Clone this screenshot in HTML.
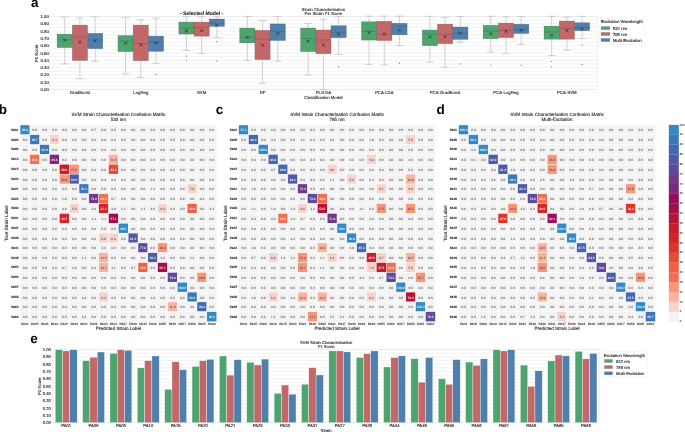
<!DOCTYPE html>
<html><head><meta charset="utf-8"><style>
html,body{margin:0;padding:0;background:#fff;}
body{width:685px;height:432px;overflow:hidden;}
svg{display:block;font-family:"Liberation Sans",sans-serif;will-change:transform;text-rendering:geometricPrecision;}
</style></head><body>
<svg width="685" height="432" viewBox="0 0 685 432">
<rect width="685" height="432" fill="#fff"/>
<rect x="49.5" y="16.5" width="547.8" height="73.0" fill="#fff" stroke="#e6e6e6" stroke-width="0.5"/>
<line x1="49.5" x2="597.3" y1="89.50" y2="89.50" stroke="#e8e8e8" stroke-width="0.55"/>
<line x1="49.5" x2="597.3" y1="85.85" y2="85.85" stroke="#e8e8e8" stroke-width="0.55"/>
<line x1="49.5" x2="597.3" y1="82.20" y2="82.20" stroke="#e8e8e8" stroke-width="0.55"/>
<line x1="49.5" x2="597.3" y1="78.55" y2="78.55" stroke="#e8e8e8" stroke-width="0.55"/>
<line x1="49.5" x2="597.3" y1="74.90" y2="74.90" stroke="#e8e8e8" stroke-width="0.55"/>
<line x1="49.5" x2="597.3" y1="71.25" y2="71.25" stroke="#e8e8e8" stroke-width="0.55"/>
<line x1="49.5" x2="597.3" y1="67.60" y2="67.60" stroke="#e8e8e8" stroke-width="0.55"/>
<line x1="49.5" x2="597.3" y1="63.95" y2="63.95" stroke="#e8e8e8" stroke-width="0.55"/>
<line x1="49.5" x2="597.3" y1="60.30" y2="60.30" stroke="#e8e8e8" stroke-width="0.55"/>
<line x1="49.5" x2="597.3" y1="56.65" y2="56.65" stroke="#e8e8e8" stroke-width="0.55"/>
<line x1="49.5" x2="597.3" y1="53.00" y2="53.00" stroke="#e8e8e8" stroke-width="0.55"/>
<line x1="49.5" x2="597.3" y1="49.35" y2="49.35" stroke="#e8e8e8" stroke-width="0.55"/>
<line x1="49.5" x2="597.3" y1="45.70" y2="45.70" stroke="#e8e8e8" stroke-width="0.55"/>
<line x1="49.5" x2="597.3" y1="42.05" y2="42.05" stroke="#e8e8e8" stroke-width="0.55"/>
<line x1="49.5" x2="597.3" y1="38.40" y2="38.40" stroke="#e8e8e8" stroke-width="0.55"/>
<line x1="49.5" x2="597.3" y1="34.75" y2="34.75" stroke="#e8e8e8" stroke-width="0.55"/>
<line x1="49.5" x2="597.3" y1="31.10" y2="31.10" stroke="#e8e8e8" stroke-width="0.55"/>
<line x1="49.5" x2="597.3" y1="27.45" y2="27.45" stroke="#e8e8e8" stroke-width="0.55"/>
<line x1="49.5" x2="597.3" y1="23.80" y2="23.80" stroke="#e8e8e8" stroke-width="0.55"/>
<line x1="49.5" x2="597.3" y1="20.15" y2="20.15" stroke="#e8e8e8" stroke-width="0.55"/>
<line x1="49.5" x2="597.3" y1="16.50" y2="16.50" stroke="#e8e8e8" stroke-width="0.55"/>
<text x="48.80" y="91.00" font-size="4.3" text-anchor="end" font-weight="normal" fill="#262626" stroke="#262626" stroke-width="0.12" >0.00</text>
<text x="48.80" y="83.70" font-size="4.3" text-anchor="end" font-weight="normal" fill="#262626" stroke="#262626" stroke-width="0.12" >0.10</text>
<text x="48.80" y="76.40" font-size="4.3" text-anchor="end" font-weight="normal" fill="#262626" stroke="#262626" stroke-width="0.12" >0.20</text>
<text x="48.80" y="69.10" font-size="4.3" text-anchor="end" font-weight="normal" fill="#262626" stroke="#262626" stroke-width="0.12" >0.30</text>
<text x="48.80" y="61.80" font-size="4.3" text-anchor="end" font-weight="normal" fill="#262626" stroke="#262626" stroke-width="0.12" >0.40</text>
<text x="48.80" y="54.50" font-size="4.3" text-anchor="end" font-weight="normal" fill="#262626" stroke="#262626" stroke-width="0.12" >0.50</text>
<text x="48.80" y="47.20" font-size="4.3" text-anchor="end" font-weight="normal" fill="#262626" stroke="#262626" stroke-width="0.12" >0.60</text>
<text x="48.80" y="39.90" font-size="4.3" text-anchor="end" font-weight="normal" fill="#262626" stroke="#262626" stroke-width="0.12" >0.70</text>
<text x="48.80" y="32.60" font-size="4.3" text-anchor="end" font-weight="normal" fill="#262626" stroke="#262626" stroke-width="0.12" >0.80</text>
<text x="48.80" y="25.30" font-size="4.3" text-anchor="end" font-weight="normal" fill="#262626" stroke="#262626" stroke-width="0.12" >0.90</text>
<text x="48.80" y="18.00" font-size="4.3" text-anchor="end" font-weight="normal" fill="#262626" stroke="#262626" stroke-width="0.12" >1.00</text>
<text transform="translate(38.2,53.2) rotate(-90)" font-size="4.3" text-anchor="middle" fill="#262626" stroke="#262626" stroke-width="0.12">F1 Score</text>
<line x1="64.72" x2="64.72" y1="17.2" y2="34.2" stroke="#b2b2b2" stroke-width="0.6"/>
<line x1="64.72" x2="64.72" y1="47.6" y2="63.9" stroke="#b2b2b2" stroke-width="0.6"/>
<line x1="60.91" x2="68.52" y1="17.2" y2="17.2" stroke="#b2b2b2" stroke-width="0.6"/>
<line x1="60.91" x2="68.52" y1="63.9" y2="63.9" stroke="#b2b2b2" stroke-width="0.6"/>
<rect x="57.11" y="34.2" width="15.22" height="13.40" fill="#4da46f" stroke="rgba(70,60,60,0.45)" stroke-width="0.5"/>
<line x1="57.11" x2="72.33" y1="39.8" y2="39.8" stroke="rgba(60,50,50,0.4)" stroke-width="0.6"/>
<path d="M63.27,38.85L66.17,41.75M63.27,41.75L66.17,38.85" stroke="#2a2a2a" stroke-width="0.7"/>
<line x1="79.93" x2="79.93" y1="17.9" y2="25.1" stroke="#b2b2b2" stroke-width="0.6"/>
<line x1="79.93" x2="79.93" y1="60.5" y2="78.7" stroke="#b2b2b2" stroke-width="0.6"/>
<line x1="76.13" x2="83.74" y1="17.9" y2="17.9" stroke="#b2b2b2" stroke-width="0.6"/>
<line x1="76.13" x2="83.74" y1="78.7" y2="78.7" stroke="#b2b2b2" stroke-width="0.6"/>
<rect x="72.33" y="25.1" width="15.22" height="35.40" fill="#c26868" stroke="rgba(70,60,60,0.45)" stroke-width="0.5"/>
<line x1="72.33" x2="87.54" y1="37.2" y2="37.2" stroke="rgba(60,50,50,0.4)" stroke-width="0.6"/>
<path d="M78.48,40.75L81.38,43.65M78.48,43.65L81.38,40.75" stroke="#2a2a2a" stroke-width="0.7"/>
<line x1="95.15" x2="95.15" y1="16.8" y2="33.3" stroke="#b2b2b2" stroke-width="0.6"/>
<line x1="95.15" x2="95.15" y1="48.7" y2="61.4" stroke="#b2b2b2" stroke-width="0.6"/>
<line x1="91.35" x2="98.95" y1="16.8" y2="16.8" stroke="#b2b2b2" stroke-width="0.6"/>
<line x1="91.35" x2="98.95" y1="61.4" y2="61.4" stroke="#b2b2b2" stroke-width="0.6"/>
<rect x="87.54" y="33.3" width="15.22" height="15.40" fill="#4f7fad" stroke="rgba(70,60,60,0.45)" stroke-width="0.5"/>
<line x1="87.54" x2="102.76" y1="40.1" y2="40.1" stroke="rgba(60,50,50,0.4)" stroke-width="0.6"/>
<path d="M93.70,39.25L96.60,42.15M93.70,42.15L96.60,39.25" stroke="#2a2a2a" stroke-width="0.7"/>
<text x="79.93" y="93.90" font-size="4.3" text-anchor="middle" font-weight="normal" fill="#262626" stroke="#262626" stroke-width="0.12" >GradBoost</text>
<line x1="125.58" x2="125.58" y1="17.6" y2="35.5" stroke="#b2b2b2" stroke-width="0.6"/>
<line x1="125.58" x2="125.58" y1="51.6" y2="74.0" stroke="#b2b2b2" stroke-width="0.6"/>
<line x1="121.78" x2="129.39" y1="17.6" y2="17.6" stroke="#b2b2b2" stroke-width="0.6"/>
<line x1="121.78" x2="129.39" y1="74.0" y2="74.0" stroke="#b2b2b2" stroke-width="0.6"/>
<rect x="117.97" y="35.5" width="15.22" height="16.10" fill="#4da46f" stroke="rgba(70,60,60,0.45)" stroke-width="0.5"/>
<line x1="117.97" x2="133.19" y1="41.1" y2="41.1" stroke="rgba(60,50,50,0.4)" stroke-width="0.6"/>
<path d="M124.13,41.65L127.03,44.55M124.13,44.55L127.03,41.65" stroke="#2a2a2a" stroke-width="0.7"/>
<line x1="140.80" x2="140.80" y1="19.8" y2="25.1" stroke="#b2b2b2" stroke-width="0.6"/>
<line x1="140.80" x2="140.80" y1="60.7" y2="77.4" stroke="#b2b2b2" stroke-width="0.6"/>
<line x1="137.00" x2="144.60" y1="19.8" y2="19.8" stroke="#b2b2b2" stroke-width="0.6"/>
<line x1="137.00" x2="144.60" y1="77.4" y2="77.4" stroke="#b2b2b2" stroke-width="0.6"/>
<rect x="133.19" y="25.1" width="15.22" height="35.60" fill="#c26868" stroke="rgba(70,60,60,0.45)" stroke-width="0.5"/>
<line x1="133.19" x2="148.41" y1="43.5" y2="43.5" stroke="rgba(60,50,50,0.4)" stroke-width="0.6"/>
<path d="M139.35,43.65L142.25,46.55M139.35,46.55L142.25,43.65" stroke="#2a2a2a" stroke-width="0.7"/>
<line x1="156.02" x2="156.02" y1="18.1" y2="36.1" stroke="#b2b2b2" stroke-width="0.6"/>
<line x1="156.02" x2="156.02" y1="51.4" y2="63.3" stroke="#b2b2b2" stroke-width="0.6"/>
<line x1="152.21" x2="159.82" y1="18.1" y2="18.1" stroke="#b2b2b2" stroke-width="0.6"/>
<line x1="152.21" x2="159.82" y1="63.3" y2="63.3" stroke="#b2b2b2" stroke-width="0.6"/>
<rect x="148.41" y="36.1" width="15.22" height="15.30" fill="#4f7fad" stroke="rgba(70,60,60,0.45)" stroke-width="0.5"/>
<line x1="148.41" x2="163.62" y1="42.2" y2="42.2" stroke="rgba(60,50,50,0.4)" stroke-width="0.6"/>
<path d="M154.57,41.45L157.47,44.35M154.57,44.35L157.47,41.45" stroke="#2a2a2a" stroke-width="0.7"/>
<rect x="155.52" y="74.10" width="1" height="1" fill="#555"/>
<text x="140.80" y="93.90" font-size="4.3" text-anchor="middle" font-weight="normal" fill="#262626" stroke="#262626" stroke-width="0.12" >LogReg</text>
<line x1="186.45" x2="186.45" y1="16.8" y2="22.1" stroke="#b2b2b2" stroke-width="0.6"/>
<line x1="186.45" x2="186.45" y1="34.1" y2="50.6" stroke="#b2b2b2" stroke-width="0.6"/>
<line x1="182.65" x2="190.25" y1="16.8" y2="16.8" stroke="#b2b2b2" stroke-width="0.6"/>
<line x1="182.65" x2="190.25" y1="50.6" y2="50.6" stroke="#b2b2b2" stroke-width="0.6"/>
<rect x="178.84" y="22.1" width="15.22" height="12.00" fill="#4da46f" stroke="rgba(70,60,60,0.45)" stroke-width="0.5"/>
<line x1="178.84" x2="194.06" y1="28.2" y2="28.2" stroke="rgba(60,50,50,0.4)" stroke-width="0.6"/>
<path d="M185.00,29.55L187.90,32.45M185.00,32.45L187.90,29.55" stroke="#2a2a2a" stroke-width="0.7"/>
<path d="M186.45,55.30L187.10,56.50L185.80,56.50Z" fill="#555"/>
<path d="M186.45,59.40L187.10,60.60L185.80,60.60Z" fill="#555"/>
<line x1="201.67" x2="201.67" y1="16.8" y2="22.1" stroke="#b2b2b2" stroke-width="0.6"/>
<line x1="201.67" x2="201.67" y1="36.2" y2="53.4" stroke="#b2b2b2" stroke-width="0.6"/>
<line x1="197.86" x2="205.47" y1="16.8" y2="16.8" stroke="#b2b2b2" stroke-width="0.6"/>
<line x1="197.86" x2="205.47" y1="53.4" y2="53.4" stroke="#b2b2b2" stroke-width="0.6"/>
<rect x="194.06" y="22.1" width="15.22" height="14.10" fill="#c26868" stroke="rgba(70,60,60,0.45)" stroke-width="0.5"/>
<line x1="194.06" x2="209.28" y1="27.5" y2="27.5" stroke="rgba(60,50,50,0.4)" stroke-width="0.6"/>
<path d="M200.22,29.15L203.12,32.05M200.22,32.05L203.12,29.15" stroke="#2a2a2a" stroke-width="0.7"/>
<line x1="216.88" x2="216.88" y1="16.8" y2="19.0" stroke="#b2b2b2" stroke-width="0.6"/>
<line x1="216.88" x2="216.88" y1="26.4" y2="37.5" stroke="#b2b2b2" stroke-width="0.6"/>
<line x1="213.08" x2="220.69" y1="16.8" y2="16.8" stroke="#b2b2b2" stroke-width="0.6"/>
<line x1="213.08" x2="220.69" y1="37.5" y2="37.5" stroke="#b2b2b2" stroke-width="0.6"/>
<rect x="209.28" y="19.0" width="15.22" height="7.40" fill="#4f7fad" stroke="rgba(70,60,60,0.45)" stroke-width="0.5"/>
<line x1="209.28" x2="224.49" y1="23.4" y2="23.4" stroke="rgba(60,50,50,0.4)" stroke-width="0.6"/>
<path d="M215.43,23.95L218.33,26.85M215.43,26.85L218.33,23.95" stroke="#2a2a2a" stroke-width="0.7"/>
<rect x="216.38" y="41.10" width="1" height="1" fill="#555"/>
<rect x="216.38" y="60.50" width="1" height="1" fill="#555"/>
<text x="201.67" y="93.90" font-size="4.3" text-anchor="middle" font-weight="normal" fill="#262626" stroke="#262626" stroke-width="0.12" >SVM</text>
<line x1="247.32" x2="247.32" y1="16.4" y2="28.1" stroke="#b2b2b2" stroke-width="0.6"/>
<line x1="247.32" x2="247.32" y1="42.9" y2="60.3" stroke="#b2b2b2" stroke-width="0.6"/>
<line x1="243.51" x2="251.12" y1="16.4" y2="16.4" stroke="#b2b2b2" stroke-width="0.6"/>
<line x1="243.51" x2="251.12" y1="60.3" y2="60.3" stroke="#b2b2b2" stroke-width="0.6"/>
<rect x="239.71" y="28.1" width="15.22" height="14.80" fill="#4da46f" stroke="rgba(70,60,60,0.45)" stroke-width="0.5"/>
<line x1="239.71" x2="254.92" y1="37.2" y2="37.2" stroke="rgba(60,50,50,0.4)" stroke-width="0.6"/>
<path d="M245.87,35.95L248.77,38.85M245.87,38.85L248.77,35.95" stroke="#2a2a2a" stroke-width="0.7"/>
<line x1="262.53" x2="262.53" y1="20.5" y2="30.3" stroke="#b2b2b2" stroke-width="0.6"/>
<line x1="262.53" x2="262.53" y1="59.6" y2="83.3" stroke="#b2b2b2" stroke-width="0.6"/>
<line x1="258.73" x2="266.34" y1="20.5" y2="20.5" stroke="#b2b2b2" stroke-width="0.6"/>
<line x1="258.73" x2="266.34" y1="83.3" y2="83.3" stroke="#b2b2b2" stroke-width="0.6"/>
<rect x="254.92" y="30.3" width="15.22" height="29.30" fill="#c26868" stroke="rgba(70,60,60,0.45)" stroke-width="0.5"/>
<line x1="254.92" x2="270.14" y1="39.2" y2="39.2" stroke="rgba(60,50,50,0.4)" stroke-width="0.6"/>
<path d="M261.08,43.85L263.98,46.75M261.08,46.75L263.98,43.85" stroke="#2a2a2a" stroke-width="0.7"/>
<line x1="277.75" x2="277.75" y1="16.4" y2="23.9" stroke="#b2b2b2" stroke-width="0.6"/>
<line x1="277.75" x2="277.75" y1="40.5" y2="61.3" stroke="#b2b2b2" stroke-width="0.6"/>
<line x1="273.95" x2="281.55" y1="16.4" y2="16.4" stroke="#b2b2b2" stroke-width="0.6"/>
<line x1="273.95" x2="281.55" y1="61.3" y2="61.3" stroke="#b2b2b2" stroke-width="0.6"/>
<rect x="270.14" y="23.9" width="15.22" height="16.60" fill="#4f7fad" stroke="rgba(70,60,60,0.45)" stroke-width="0.5"/>
<line x1="270.14" x2="285.36" y1="31.3" y2="31.3" stroke="rgba(60,50,50,0.4)" stroke-width="0.6"/>
<path d="M276.30,32.05L279.20,34.95M276.30,34.95L279.20,32.05" stroke="#2a2a2a" stroke-width="0.7"/>
<text x="262.53" y="93.90" font-size="4.3" text-anchor="middle" font-weight="normal" fill="#262626" stroke="#262626" stroke-width="0.12" >RF</text>
<line x1="308.18" x2="308.18" y1="23.5" y2="28.1" stroke="#b2b2b2" stroke-width="0.6"/>
<line x1="308.18" x2="308.18" y1="51.6" y2="75.0" stroke="#b2b2b2" stroke-width="0.6"/>
<line x1="304.38" x2="311.99" y1="23.5" y2="23.5" stroke="#b2b2b2" stroke-width="0.6"/>
<line x1="304.38" x2="311.99" y1="75.0" y2="75.0" stroke="#b2b2b2" stroke-width="0.6"/>
<rect x="300.57" y="28.1" width="15.22" height="23.50" fill="#4da46f" stroke="rgba(70,60,60,0.45)" stroke-width="0.5"/>
<line x1="300.57" x2="315.79" y1="38.3" y2="38.3" stroke="rgba(60,50,50,0.4)" stroke-width="0.6"/>
<path d="M306.73,39.85L309.63,42.75M306.73,42.75L309.63,39.85" stroke="#2a2a2a" stroke-width="0.7"/>
<line x1="323.40" x2="323.40" y1="19.0" y2="30.0" stroke="#b2b2b2" stroke-width="0.6"/>
<line x1="323.40" x2="323.40" y1="53.7" y2="89.4" stroke="#b2b2b2" stroke-width="0.6"/>
<line x1="319.60" x2="327.20" y1="19.0" y2="19.0" stroke="#b2b2b2" stroke-width="0.6"/>
<line x1="319.60" x2="327.20" y1="89.4" y2="89.4" stroke="#b2b2b2" stroke-width="0.6"/>
<rect x="315.79" y="30.0" width="15.22" height="23.70" fill="#c26868" stroke="rgba(70,60,60,0.45)" stroke-width="0.5"/>
<line x1="315.79" x2="331.01" y1="40.0" y2="40.0" stroke="rgba(60,50,50,0.4)" stroke-width="0.6"/>
<path d="M321.95,43.55L324.85,46.45M321.95,46.45L324.85,43.55" stroke="#2a2a2a" stroke-width="0.7"/>
<line x1="338.62" x2="338.62" y1="16.4" y2="25.7" stroke="#b2b2b2" stroke-width="0.6"/>
<line x1="338.62" x2="338.62" y1="37.7" y2="54.4" stroke="#b2b2b2" stroke-width="0.6"/>
<line x1="334.81" x2="342.42" y1="16.4" y2="16.4" stroke="#b2b2b2" stroke-width="0.6"/>
<line x1="334.81" x2="342.42" y1="54.4" y2="54.4" stroke="#b2b2b2" stroke-width="0.6"/>
<rect x="331.01" y="25.7" width="15.22" height="12.00" fill="#4f7fad" stroke="rgba(70,60,60,0.45)" stroke-width="0.5"/>
<line x1="331.01" x2="346.22" y1="32.2" y2="32.2" stroke="rgba(60,50,50,0.4)" stroke-width="0.6"/>
<path d="M337.17,32.75L340.07,35.65M337.17,35.65L340.07,32.75" stroke="#2a2a2a" stroke-width="0.7"/>
<rect x="338.12" y="66.30" width="1" height="1" fill="#555"/>
<text x="323.40" y="93.90" font-size="4.3" text-anchor="middle" font-weight="normal" fill="#262626" stroke="#262626" stroke-width="0.12" >PLS-DA</text>
<line x1="369.05" x2="369.05" y1="16.1" y2="21.8" stroke="#b2b2b2" stroke-width="0.6"/>
<line x1="369.05" x2="369.05" y1="40.1" y2="64.4" stroke="#b2b2b2" stroke-width="0.6"/>
<line x1="365.25" x2="372.85" y1="16.1" y2="16.1" stroke="#b2b2b2" stroke-width="0.6"/>
<line x1="365.25" x2="372.85" y1="64.4" y2="64.4" stroke="#b2b2b2" stroke-width="0.6"/>
<rect x="361.44" y="21.8" width="15.22" height="18.30" fill="#4da46f" stroke="rgba(70,60,60,0.45)" stroke-width="0.5"/>
<line x1="361.44" x2="376.66" y1="31.3" y2="31.3" stroke="rgba(60,50,50,0.4)" stroke-width="0.6"/>
<path d="M367.60,31.15L370.50,34.05M367.60,34.05L370.50,31.15" stroke="#2a2a2a" stroke-width="0.7"/>
<line x1="384.27" x2="384.27" y1="16.1" y2="21.3" stroke="#b2b2b2" stroke-width="0.6"/>
<line x1="384.27" x2="384.27" y1="40.5" y2="65.0" stroke="#b2b2b2" stroke-width="0.6"/>
<line x1="380.46" x2="388.07" y1="16.1" y2="16.1" stroke="#b2b2b2" stroke-width="0.6"/>
<line x1="380.46" x2="388.07" y1="65.0" y2="65.0" stroke="#b2b2b2" stroke-width="0.6"/>
<rect x="376.66" y="21.3" width="15.22" height="19.20" fill="#c26868" stroke="rgba(70,60,60,0.45)" stroke-width="0.5"/>
<line x1="376.66" x2="391.87" y1="34.4" y2="34.4" stroke="rgba(60,50,50,0.4)" stroke-width="0.6"/>
<path d="M382.82,32.55L385.72,35.45M382.82,35.45L385.72,32.55" stroke="#2a2a2a" stroke-width="0.7"/>
<line x1="399.48" x2="399.48" y1="16.1" y2="23.3" stroke="#b2b2b2" stroke-width="0.6"/>
<line x1="399.48" x2="399.48" y1="34.8" y2="45.5" stroke="#b2b2b2" stroke-width="0.6"/>
<line x1="395.68" x2="403.29" y1="16.1" y2="16.1" stroke="#b2b2b2" stroke-width="0.6"/>
<line x1="395.68" x2="403.29" y1="45.5" y2="45.5" stroke="#b2b2b2" stroke-width="0.6"/>
<rect x="391.88" y="23.3" width="15.22" height="11.50" fill="#4f7fad" stroke="rgba(70,60,60,0.45)" stroke-width="0.5"/>
<line x1="391.88" x2="407.09" y1="26.1" y2="26.1" stroke="rgba(60,50,50,0.4)" stroke-width="0.6"/>
<path d="M398.03,28.85L400.93,31.75M398.03,31.75L400.93,28.85" stroke="#2a2a2a" stroke-width="0.7"/>
<rect x="398.98" y="62.60" width="1" height="1" fill="#555"/>
<text x="384.27" y="93.90" font-size="4.3" text-anchor="middle" font-weight="normal" fill="#262626" stroke="#262626" stroke-width="0.12" >PCA-LDA</text>
<line x1="429.92" x2="429.92" y1="16.3" y2="30.0" stroke="#b2b2b2" stroke-width="0.6"/>
<line x1="429.92" x2="429.92" y1="45.7" y2="62.2" stroke="#b2b2b2" stroke-width="0.6"/>
<line x1="426.11" x2="433.72" y1="16.3" y2="16.3" stroke="#b2b2b2" stroke-width="0.6"/>
<line x1="426.11" x2="433.72" y1="62.2" y2="62.2" stroke="#b2b2b2" stroke-width="0.6"/>
<rect x="422.31" y="30.0" width="15.22" height="15.70" fill="#4da46f" stroke="rgba(70,60,60,0.45)" stroke-width="0.5"/>
<line x1="422.31" x2="437.52" y1="34.0" y2="34.0" stroke="rgba(60,50,50,0.4)" stroke-width="0.6"/>
<path d="M428.47,35.35L431.37,38.25M428.47,38.25L431.37,35.35" stroke="#2a2a2a" stroke-width="0.7"/>
<line x1="445.13" x2="445.13" y1="17.4" y2="24.2" stroke="#b2b2b2" stroke-width="0.6"/>
<line x1="445.13" x2="445.13" y1="43.7" y2="67.4" stroke="#b2b2b2" stroke-width="0.6"/>
<line x1="441.33" x2="448.94" y1="17.4" y2="17.4" stroke="#b2b2b2" stroke-width="0.6"/>
<line x1="441.33" x2="448.94" y1="67.4" y2="67.4" stroke="#b2b2b2" stroke-width="0.6"/>
<rect x="437.52" y="24.2" width="15.22" height="19.50" fill="#c26868" stroke="rgba(70,60,60,0.45)" stroke-width="0.5"/>
<line x1="437.52" x2="452.74" y1="34.4" y2="34.4" stroke="rgba(60,50,50,0.4)" stroke-width="0.6"/>
<path d="M443.68,35.15L446.58,38.05M443.68,38.05L446.58,35.15" stroke="#2a2a2a" stroke-width="0.7"/>
<line x1="460.35" x2="460.35" y1="16.6" y2="27.0" stroke="#b2b2b2" stroke-width="0.6"/>
<line x1="460.35" x2="460.35" y1="39.4" y2="42.2" stroke="#b2b2b2" stroke-width="0.6"/>
<line x1="456.55" x2="464.15" y1="16.6" y2="16.6" stroke="#b2b2b2" stroke-width="0.6"/>
<line x1="456.55" x2="464.15" y1="42.2" y2="42.2" stroke="#b2b2b2" stroke-width="0.6"/>
<rect x="452.74" y="27.0" width="15.22" height="12.40" fill="#4f7fad" stroke="rgba(70,60,60,0.45)" stroke-width="0.5"/>
<line x1="452.74" x2="467.96" y1="33.1" y2="33.1" stroke="rgba(60,50,50,0.4)" stroke-width="0.6"/>
<path d="M458.90,31.85L461.80,34.75M458.90,34.75L461.80,31.85" stroke="#2a2a2a" stroke-width="0.7"/>
<rect x="459.85" y="63.50" width="1" height="1" fill="#555"/>
<text x="445.13" y="93.90" font-size="4.3" text-anchor="middle" font-weight="normal" fill="#262626" stroke="#262626" stroke-width="0.12" >PCA-GradBoost</text>
<line x1="490.78" x2="490.78" y1="16.3" y2="25.3" stroke="#b2b2b2" stroke-width="0.6"/>
<line x1="490.78" x2="490.78" y1="38.7" y2="52.2" stroke="#b2b2b2" stroke-width="0.6"/>
<line x1="486.98" x2="494.59" y1="16.3" y2="16.3" stroke="#b2b2b2" stroke-width="0.6"/>
<line x1="486.98" x2="494.59" y1="52.2" y2="52.2" stroke="#b2b2b2" stroke-width="0.6"/>
<rect x="483.17" y="25.3" width="15.22" height="13.40" fill="#4da46f" stroke="rgba(70,60,60,0.45)" stroke-width="0.5"/>
<line x1="483.17" x2="498.39" y1="31.1" y2="31.1" stroke="rgba(60,50,50,0.4)" stroke-width="0.6"/>
<path d="M489.33,32.25L492.23,35.15M489.33,35.15L492.23,32.25" stroke="#2a2a2a" stroke-width="0.7"/>
<path d="M490.78,64.40L491.43,65.60L490.13,65.60Z" fill="#555"/>
<line x1="506.00" x2="506.00" y1="17.0" y2="23.1" stroke="#b2b2b2" stroke-width="0.6"/>
<line x1="506.00" x2="506.00" y1="37.6" y2="53.3" stroke="#b2b2b2" stroke-width="0.6"/>
<line x1="502.20" x2="509.80" y1="17.0" y2="17.0" stroke="#b2b2b2" stroke-width="0.6"/>
<line x1="502.20" x2="509.80" y1="53.3" y2="53.3" stroke="#b2b2b2" stroke-width="0.6"/>
<rect x="498.39" y="23.1" width="15.22" height="14.50" fill="#c26868" stroke="rgba(70,60,60,0.45)" stroke-width="0.5"/>
<line x1="498.39" x2="513.61" y1="30.3" y2="30.3" stroke="rgba(60,50,50,0.4)" stroke-width="0.6"/>
<path d="M504.55,29.85L507.45,32.75M504.55,32.75L507.45,29.85" stroke="#2a2a2a" stroke-width="0.7"/>
<line x1="521.22" x2="521.22" y1="16.4" y2="24.2" stroke="#b2b2b2" stroke-width="0.6"/>
<line x1="521.22" x2="521.22" y1="33.5" y2="44.4" stroke="#b2b2b2" stroke-width="0.6"/>
<line x1="517.41" x2="525.02" y1="16.4" y2="16.4" stroke="#b2b2b2" stroke-width="0.6"/>
<line x1="517.41" x2="525.02" y1="44.4" y2="44.4" stroke="#b2b2b2" stroke-width="0.6"/>
<rect x="513.61" y="24.2" width="15.22" height="9.30" fill="#4f7fad" stroke="rgba(70,60,60,0.45)" stroke-width="0.5"/>
<line x1="513.61" x2="528.82" y1="29.4" y2="29.4" stroke="rgba(60,50,50,0.4)" stroke-width="0.6"/>
<path d="M519.77,28.85L522.67,31.75M519.77,31.75L522.67,28.85" stroke="#2a2a2a" stroke-width="0.7"/>
<rect x="520.72" y="64.80" width="1" height="1" fill="#555"/>
<text x="506.00" y="93.90" font-size="4.3" text-anchor="middle" font-weight="normal" fill="#262626" stroke="#262626" stroke-width="0.12" >PCA-LogReg</text>
<line x1="551.65" x2="551.65" y1="16.3" y2="26.1" stroke="#b2b2b2" stroke-width="0.6"/>
<line x1="551.65" x2="551.65" y1="39.2" y2="55.5" stroke="#b2b2b2" stroke-width="0.6"/>
<line x1="547.85" x2="555.45" y1="16.3" y2="16.3" stroke="#b2b2b2" stroke-width="0.6"/>
<line x1="547.85" x2="555.45" y1="55.5" y2="55.5" stroke="#b2b2b2" stroke-width="0.6"/>
<rect x="544.04" y="26.1" width="15.22" height="13.10" fill="#4da46f" stroke="rgba(70,60,60,0.45)" stroke-width="0.5"/>
<line x1="544.04" x2="559.26" y1="32.0" y2="32.0" stroke="rgba(60,50,50,0.4)" stroke-width="0.6"/>
<path d="M550.20,33.85L553.10,36.75M550.20,36.75L553.10,33.85" stroke="#2a2a2a" stroke-width="0.7"/>
<path d="M551.65,60.70L552.30,61.90L551.00,61.90Z" fill="#555"/>
<path d="M551.65,66.10L552.30,67.30L551.00,67.30Z" fill="#555"/>
<line x1="566.87" x2="566.87" y1="17.2" y2="21.1" stroke="#b2b2b2" stroke-width="0.6"/>
<line x1="566.87" x2="566.87" y1="39.2" y2="50.3" stroke="#b2b2b2" stroke-width="0.6"/>
<line x1="563.06" x2="570.67" y1="17.2" y2="17.2" stroke="#b2b2b2" stroke-width="0.6"/>
<line x1="563.06" x2="570.67" y1="50.3" y2="50.3" stroke="#b2b2b2" stroke-width="0.6"/>
<rect x="559.26" y="21.1" width="15.22" height="18.10" fill="#c26868" stroke="rgba(70,60,60,0.45)" stroke-width="0.5"/>
<line x1="559.26" x2="574.47" y1="28.3" y2="28.3" stroke="rgba(60,50,50,0.4)" stroke-width="0.6"/>
<path d="M565.42,29.05L568.32,31.95M565.42,31.95L568.32,29.05" stroke="#2a2a2a" stroke-width="0.7"/>
<line x1="582.08" x2="582.08" y1="16.3" y2="22.7" stroke="#b2b2b2" stroke-width="0.6"/>
<line x1="582.08" x2="582.08" y1="30.7" y2="38.5" stroke="#b2b2b2" stroke-width="0.6"/>
<line x1="578.28" x2="585.89" y1="16.3" y2="16.3" stroke="#b2b2b2" stroke-width="0.6"/>
<line x1="578.28" x2="585.89" y1="38.5" y2="38.5" stroke="#b2b2b2" stroke-width="0.6"/>
<rect x="574.47" y="22.7" width="15.22" height="8.00" fill="#4f7fad" stroke="rgba(70,60,60,0.45)" stroke-width="0.5"/>
<line x1="574.47" x2="589.69" y1="27.6" y2="27.6" stroke="rgba(60,50,50,0.4)" stroke-width="0.6"/>
<path d="M580.63,27.55L583.53,30.45M580.63,30.45L583.53,27.55" stroke="#2a2a2a" stroke-width="0.7"/>
<rect x="581.58" y="44.50" width="1" height="1" fill="#555"/>
<rect x="581.58" y="64.10" width="1" height="1" fill="#555"/>
<text x="566.87" y="93.90" font-size="4.3" text-anchor="middle" font-weight="normal" fill="#262626" stroke="#262626" stroke-width="0.12" >PCA-SVM</text>
<text x="323.40" y="99.00" font-size="4.3" text-anchor="middle" font-weight="normal" fill="#262626" stroke="#262626" stroke-width="0.12" >Classification Model</text>
<text x="323.40" y="11.00" font-size="4.3" text-anchor="middle" font-weight="normal" fill="#262626" stroke="#262626" stroke-width="0.12" >Strain Characterisation</text>
<text x="323.40" y="15.40" font-size="4.3" text-anchor="middle" font-weight="normal" fill="#262626" stroke="#262626" stroke-width="0.12" >Per Strain F1 Score</text>
<text x="201.67" y="14.70" font-size="5.1" text-anchor="middle" font-weight="bold" fill="#262626" stroke="#262626" stroke-width="0.1" >- Selected Model -</text>
<rect x="599.3" y="18.3" width="45.7" height="26.1" fill="#fff" stroke="#eeeeee" stroke-width="0.5" rx="0.6"/>
<text x="601.00" y="23.10" font-size="4.25" text-anchor="start" font-weight="normal" fill="#262626" stroke="#262626" stroke-width="0.12" >Excitation Wavelength</text>
<rect x="601" y="26.5" width="9" height="3.2" fill="#4da46f" stroke="rgba(60,60,60,0.3)" stroke-width="0.3"/>
<text x="612.90" y="29.70" font-size="4.25" text-anchor="start" font-weight="normal" fill="#262626" stroke="#262626" stroke-width="0.12" >532 nm</text>
<rect x="601" y="32.4" width="9" height="3.2" fill="#c26868" stroke="rgba(60,60,60,0.3)" stroke-width="0.3"/>
<text x="612.90" y="35.60" font-size="4.25" text-anchor="start" font-weight="normal" fill="#262626" stroke="#262626" stroke-width="0.12" >785 nm</text>
<rect x="601" y="38.4" width="9" height="3.2" fill="#4f7fad" stroke="rgba(60,60,60,0.3)" stroke-width="0.3"/>
<text x="612.90" y="41.60" font-size="4.25" text-anchor="start" font-weight="normal" fill="#262626" stroke="#262626" stroke-width="0.12" >Multi-Excitation</text>
<text x="31.10" y="7.00" font-size="13.5" text-anchor="start" font-weight="bold" fill="#000" >a</text>
<g stroke="#fff" stroke-width="0.35">
<rect x="20.10" y="125.00" width="9.83" height="9.83" fill="#3389c3"/>
<rect x="29.93" y="125.00" width="9.83" height="9.83" fill="#f4f3f3"/>
<rect x="39.76" y="125.00" width="9.83" height="9.83" fill="#f4f3f3"/>
<rect x="49.59" y="125.00" width="9.83" height="9.83" fill="#f4f3f3"/>
<rect x="59.42" y="125.00" width="9.83" height="9.83" fill="#f4f3f3"/>
<rect x="69.25" y="125.00" width="9.83" height="9.83" fill="#f4f3f3"/>
<rect x="79.08" y="125.00" width="9.83" height="9.83" fill="#f4f3f3"/>
<rect x="88.91" y="125.00" width="9.83" height="9.83" fill="#f4f3f3"/>
<rect x="98.74" y="125.00" width="9.83" height="9.83" fill="#f4f3f3"/>
<rect x="108.57" y="125.00" width="9.83" height="9.83" fill="#f4f3f3"/>
<rect x="118.40" y="125.00" width="9.83" height="9.83" fill="#f4f3f3"/>
<rect x="128.23" y="125.00" width="9.83" height="9.83" fill="#f4f3f3"/>
<rect x="138.06" y="125.00" width="9.83" height="9.83" fill="#f4f3f3"/>
<rect x="147.89" y="125.00" width="9.83" height="9.83" fill="#f4f3f3"/>
<rect x="157.72" y="125.00" width="9.83" height="9.83" fill="#f4f3f3"/>
<rect x="167.55" y="125.00" width="9.83" height="9.83" fill="#f4f3f3"/>
<rect x="177.38" y="125.00" width="9.83" height="9.83" fill="#f4f3f3"/>
<rect x="187.21" y="125.00" width="9.83" height="9.83" fill="#f4f3f3"/>
<rect x="197.04" y="125.00" width="9.83" height="9.83" fill="#f4f3f3"/>
<rect x="206.87" y="125.00" width="9.83" height="9.83" fill="#f4f3f3"/>
<rect x="20.10" y="134.83" width="9.83" height="9.83" fill="#f4f3f3"/>
<rect x="29.93" y="134.83" width="9.83" height="9.83" fill="#3c77ba"/>
<rect x="39.76" y="134.83" width="9.83" height="9.83" fill="#f4f3f3"/>
<rect x="49.59" y="134.83" width="9.83" height="9.83" fill="#f7d4cb"/>
<rect x="59.42" y="134.83" width="9.83" height="9.83" fill="#f4f3f3"/>
<rect x="69.25" y="134.83" width="9.83" height="9.83" fill="#f4f3f3"/>
<rect x="79.08" y="134.83" width="9.83" height="9.83" fill="#f4f3f3"/>
<rect x="88.91" y="134.83" width="9.83" height="9.83" fill="#f4f3f3"/>
<rect x="98.74" y="134.83" width="9.83" height="9.83" fill="#f4f3f3"/>
<rect x="108.57" y="134.83" width="9.83" height="9.83" fill="#f4f3f3"/>
<rect x="118.40" y="134.83" width="9.83" height="9.83" fill="#f4f3f3"/>
<rect x="128.23" y="134.83" width="9.83" height="9.83" fill="#f4f3f3"/>
<rect x="138.06" y="134.83" width="9.83" height="9.83" fill="#f4f3f3"/>
<rect x="147.89" y="134.83" width="9.83" height="9.83" fill="#f4f3f3"/>
<rect x="157.72" y="134.83" width="9.83" height="9.83" fill="#f4f3f3"/>
<rect x="167.55" y="134.83" width="9.83" height="9.83" fill="#f4f3f3"/>
<rect x="177.38" y="134.83" width="9.83" height="9.83" fill="#f4f3f3"/>
<rect x="187.21" y="134.83" width="9.83" height="9.83" fill="#f4f3f3"/>
<rect x="197.04" y="134.83" width="9.83" height="9.83" fill="#f4f3f3"/>
<rect x="206.87" y="134.83" width="9.83" height="9.83" fill="#f4f3f3"/>
<rect x="20.10" y="144.66" width="9.83" height="9.83" fill="#f4f3f3"/>
<rect x="29.93" y="144.66" width="9.83" height="9.83" fill="#f4f3f3"/>
<rect x="39.76" y="144.66" width="9.83" height="9.83" fill="#3c77ba"/>
<rect x="49.59" y="144.66" width="9.83" height="9.83" fill="#f4f3f3"/>
<rect x="59.42" y="144.66" width="9.83" height="9.83" fill="#f4f3f3"/>
<rect x="69.25" y="144.66" width="9.83" height="9.83" fill="#f4f3f3"/>
<rect x="79.08" y="144.66" width="9.83" height="9.83" fill="#f4f3f3"/>
<rect x="88.91" y="144.66" width="9.83" height="9.83" fill="#f4f3f3"/>
<rect x="98.74" y="144.66" width="9.83" height="9.83" fill="#f4f3f3"/>
<rect x="108.57" y="144.66" width="9.83" height="9.83" fill="#f4f3f3"/>
<rect x="118.40" y="144.66" width="9.83" height="9.83" fill="#f4f3f3"/>
<rect x="128.23" y="144.66" width="9.83" height="9.83" fill="#f4f3f3"/>
<rect x="138.06" y="144.66" width="9.83" height="9.83" fill="#f4f3f3"/>
<rect x="147.89" y="144.66" width="9.83" height="9.83" fill="#f4f3f3"/>
<rect x="157.72" y="144.66" width="9.83" height="9.83" fill="#f4f3f3"/>
<rect x="167.55" y="144.66" width="9.83" height="9.83" fill="#f4f3f3"/>
<rect x="177.38" y="144.66" width="9.83" height="9.83" fill="#f4f3f3"/>
<rect x="187.21" y="144.66" width="9.83" height="9.83" fill="#f4f3f3"/>
<rect x="197.04" y="144.66" width="9.83" height="9.83" fill="#f4f3f3"/>
<rect x="206.87" y="144.66" width="9.83" height="9.83" fill="#f4f3f3"/>
<rect x="20.10" y="154.49" width="9.83" height="9.83" fill="#f4f3f3"/>
<rect x="29.93" y="154.49" width="9.83" height="9.83" fill="#f46e50"/>
<rect x="39.76" y="154.49" width="9.83" height="9.83" fill="#f4f3f3"/>
<rect x="49.59" y="154.49" width="9.83" height="9.83" fill="#7e2a7a"/>
<rect x="59.42" y="154.49" width="9.83" height="9.83" fill="#f4f3f3"/>
<rect x="69.25" y="154.49" width="9.83" height="9.83" fill="#f4f3f3"/>
<rect x="79.08" y="154.49" width="9.83" height="9.83" fill="#f4f3f3"/>
<rect x="88.91" y="154.49" width="9.83" height="9.83" fill="#f4f3f3"/>
<rect x="98.74" y="154.49" width="9.83" height="9.83" fill="#f4f3f3"/>
<rect x="108.57" y="154.49" width="9.83" height="9.83" fill="#f8b4a1"/>
<rect x="118.40" y="154.49" width="9.83" height="9.83" fill="#f4f3f3"/>
<rect x="128.23" y="154.49" width="9.83" height="9.83" fill="#f4f3f3"/>
<rect x="138.06" y="154.49" width="9.83" height="9.83" fill="#f4f3f3"/>
<rect x="147.89" y="154.49" width="9.83" height="9.83" fill="#f4f3f3"/>
<rect x="157.72" y="154.49" width="9.83" height="9.83" fill="#f4f3f3"/>
<rect x="167.55" y="154.49" width="9.83" height="9.83" fill="#f4f3f3"/>
<rect x="177.38" y="154.49" width="9.83" height="9.83" fill="#f4f3f3"/>
<rect x="187.21" y="154.49" width="9.83" height="9.83" fill="#f4f3f3"/>
<rect x="197.04" y="154.49" width="9.83" height="9.83" fill="#f4f3f3"/>
<rect x="206.87" y="154.49" width="9.83" height="9.83" fill="#f4f3f3"/>
<rect x="20.10" y="164.32" width="9.83" height="9.83" fill="#f4f3f3"/>
<rect x="29.93" y="164.32" width="9.83" height="9.83" fill="#f4f3f3"/>
<rect x="39.76" y="164.32" width="9.83" height="9.83" fill="#f4f3f3"/>
<rect x="49.59" y="164.32" width="9.83" height="9.83" fill="#f4f3f3"/>
<rect x="59.42" y="164.32" width="9.83" height="9.83" fill="#c81c2e"/>
<rect x="69.25" y="164.32" width="9.83" height="9.83" fill="#f8967b"/>
<rect x="79.08" y="164.32" width="9.83" height="9.83" fill="#f4f3f3"/>
<rect x="88.91" y="164.32" width="9.83" height="9.83" fill="#f4f3f3"/>
<rect x="98.74" y="164.32" width="9.83" height="9.83" fill="#f4f3f3"/>
<rect x="108.57" y="164.32" width="9.83" height="9.83" fill="#e54b39"/>
<rect x="118.40" y="164.32" width="9.83" height="9.83" fill="#f4f3f3"/>
<rect x="128.23" y="164.32" width="9.83" height="9.83" fill="#f4f3f3"/>
<rect x="138.06" y="164.32" width="9.83" height="9.83" fill="#f4f3f3"/>
<rect x="147.89" y="164.32" width="9.83" height="9.83" fill="#f4f3f3"/>
<rect x="157.72" y="164.32" width="9.83" height="9.83" fill="#f4f3f3"/>
<rect x="167.55" y="164.32" width="9.83" height="9.83" fill="#f4f3f3"/>
<rect x="177.38" y="164.32" width="9.83" height="9.83" fill="#f4f3f3"/>
<rect x="187.21" y="164.32" width="9.83" height="9.83" fill="#f4f3f3"/>
<rect x="197.04" y="164.32" width="9.83" height="9.83" fill="#f4f3f3"/>
<rect x="206.87" y="164.32" width="9.83" height="9.83" fill="#f4f3f3"/>
<rect x="20.10" y="174.15" width="9.83" height="9.83" fill="#f4f3f3"/>
<rect x="29.93" y="174.15" width="9.83" height="9.83" fill="#f4f3f3"/>
<rect x="39.76" y="174.15" width="9.83" height="9.83" fill="#f4f3f3"/>
<rect x="49.59" y="174.15" width="9.83" height="9.83" fill="#f4f3f3"/>
<rect x="59.42" y="174.15" width="9.83" height="9.83" fill="#f8967b"/>
<rect x="69.25" y="174.15" width="9.83" height="9.83" fill="#4d59a8"/>
<rect x="79.08" y="174.15" width="9.83" height="9.83" fill="#f4f3f3"/>
<rect x="88.91" y="174.15" width="9.83" height="9.83" fill="#f4f3f3"/>
<rect x="98.74" y="174.15" width="9.83" height="9.83" fill="#f4f3f3"/>
<rect x="108.57" y="174.15" width="9.83" height="9.83" fill="#f4f3f3"/>
<rect x="118.40" y="174.15" width="9.83" height="9.83" fill="#f4f3f3"/>
<rect x="128.23" y="174.15" width="9.83" height="9.83" fill="#f4f3f3"/>
<rect x="138.06" y="174.15" width="9.83" height="9.83" fill="#f4f3f3"/>
<rect x="147.89" y="174.15" width="9.83" height="9.83" fill="#f4f3f3"/>
<rect x="157.72" y="174.15" width="9.83" height="9.83" fill="#f4f3f3"/>
<rect x="167.55" y="174.15" width="9.83" height="9.83" fill="#f4f3f3"/>
<rect x="177.38" y="174.15" width="9.83" height="9.83" fill="#f4f3f3"/>
<rect x="187.21" y="174.15" width="9.83" height="9.83" fill="#f4f3f3"/>
<rect x="197.04" y="174.15" width="9.83" height="9.83" fill="#f4f3f3"/>
<rect x="206.87" y="174.15" width="9.83" height="9.83" fill="#f4f3f3"/>
<rect x="20.10" y="183.98" width="9.83" height="9.83" fill="#f4f3f3"/>
<rect x="29.93" y="183.98" width="9.83" height="9.83" fill="#f4f3f3"/>
<rect x="39.76" y="183.98" width="9.83" height="9.83" fill="#f4f3f3"/>
<rect x="49.59" y="183.98" width="9.83" height="9.83" fill="#f4f3f3"/>
<rect x="59.42" y="183.98" width="9.83" height="9.83" fill="#f4f3f3"/>
<rect x="69.25" y="183.98" width="9.83" height="9.83" fill="#f4f3f3"/>
<rect x="79.08" y="183.98" width="9.83" height="9.83" fill="#3c77ba"/>
<rect x="88.91" y="183.98" width="9.83" height="9.83" fill="#f4f3f3"/>
<rect x="98.74" y="183.98" width="9.83" height="9.83" fill="#f4f3f3"/>
<rect x="108.57" y="183.98" width="9.83" height="9.83" fill="#f4f3f3"/>
<rect x="118.40" y="183.98" width="9.83" height="9.83" fill="#f4f3f3"/>
<rect x="128.23" y="183.98" width="9.83" height="9.83" fill="#f4f3f3"/>
<rect x="138.06" y="183.98" width="9.83" height="9.83" fill="#f4f3f3"/>
<rect x="147.89" y="183.98" width="9.83" height="9.83" fill="#f4f3f3"/>
<rect x="157.72" y="183.98" width="9.83" height="9.83" fill="#f4f3f3"/>
<rect x="167.55" y="183.98" width="9.83" height="9.83" fill="#f4f3f3"/>
<rect x="177.38" y="183.98" width="9.83" height="9.83" fill="#f4f3f3"/>
<rect x="187.21" y="183.98" width="9.83" height="9.83" fill="#f7d4cb"/>
<rect x="197.04" y="183.98" width="9.83" height="9.83" fill="#f4f3f3"/>
<rect x="206.87" y="183.98" width="9.83" height="9.83" fill="#f4f3f3"/>
<rect x="20.10" y="193.81" width="9.83" height="9.83" fill="#f4f3f3"/>
<rect x="29.93" y="193.81" width="9.83" height="9.83" fill="#f4f3f3"/>
<rect x="39.76" y="193.81" width="9.83" height="9.83" fill="#f4f3f3"/>
<rect x="49.59" y="193.81" width="9.83" height="9.83" fill="#f4f3f3"/>
<rect x="59.42" y="193.81" width="9.83" height="9.83" fill="#f4f3f3"/>
<rect x="69.25" y="193.81" width="9.83" height="9.83" fill="#f4f3f3"/>
<rect x="79.08" y="193.81" width="9.83" height="9.83" fill="#f4f3f3"/>
<rect x="88.91" y="193.81" width="9.83" height="9.83" fill="#6e3a8c"/>
<rect x="98.74" y="193.81" width="9.83" height="9.83" fill="#f46e50"/>
<rect x="108.57" y="193.81" width="9.83" height="9.83" fill="#f4f3f3"/>
<rect x="118.40" y="193.81" width="9.83" height="9.83" fill="#f4f3f3"/>
<rect x="128.23" y="193.81" width="9.83" height="9.83" fill="#f4f3f3"/>
<rect x="138.06" y="193.81" width="9.83" height="9.83" fill="#f4f3f3"/>
<rect x="147.89" y="193.81" width="9.83" height="9.83" fill="#f4f3f3"/>
<rect x="157.72" y="193.81" width="9.83" height="9.83" fill="#f4f3f3"/>
<rect x="167.55" y="193.81" width="9.83" height="9.83" fill="#f4f3f3"/>
<rect x="177.38" y="193.81" width="9.83" height="9.83" fill="#f4f3f3"/>
<rect x="187.21" y="193.81" width="9.83" height="9.83" fill="#f4f3f3"/>
<rect x="197.04" y="193.81" width="9.83" height="9.83" fill="#f4f3f3"/>
<rect x="206.87" y="193.81" width="9.83" height="9.83" fill="#f4f3f3"/>
<rect x="20.10" y="203.64" width="9.83" height="9.83" fill="#f4f3f3"/>
<rect x="29.93" y="203.64" width="9.83" height="9.83" fill="#f4f3f3"/>
<rect x="39.76" y="203.64" width="9.83" height="9.83" fill="#f4f3f3"/>
<rect x="49.59" y="203.64" width="9.83" height="9.83" fill="#f4f3f3"/>
<rect x="59.42" y="203.64" width="9.83" height="9.83" fill="#f4f3f3"/>
<rect x="69.25" y="203.64" width="9.83" height="9.83" fill="#f7d4cb"/>
<rect x="79.08" y="203.64" width="9.83" height="9.83" fill="#f4f3f3"/>
<rect x="88.91" y="203.64" width="9.83" height="9.83" fill="#f4f3f3"/>
<rect x="98.74" y="203.64" width="9.83" height="9.83" fill="#d4242a"/>
<rect x="108.57" y="203.64" width="9.83" height="9.83" fill="#f4f3f3"/>
<rect x="118.40" y="203.64" width="9.83" height="9.83" fill="#f4f3f3"/>
<rect x="128.23" y="203.64" width="9.83" height="9.83" fill="#f4f3f3"/>
<rect x="138.06" y="203.64" width="9.83" height="9.83" fill="#f4f3f3"/>
<rect x="147.89" y="203.64" width="9.83" height="9.83" fill="#f4f3f3"/>
<rect x="157.72" y="203.64" width="9.83" height="9.83" fill="#f7d4cb"/>
<rect x="167.55" y="203.64" width="9.83" height="9.83" fill="#f4f3f3"/>
<rect x="177.38" y="203.64" width="9.83" height="9.83" fill="#f4f3f3"/>
<rect x="187.21" y="203.64" width="9.83" height="9.83" fill="#ed6146"/>
<rect x="197.04" y="203.64" width="9.83" height="9.83" fill="#f4f3f3"/>
<rect x="206.87" y="203.64" width="9.83" height="9.83" fill="#f4f3f3"/>
<rect x="20.10" y="213.47" width="9.83" height="9.83" fill="#f4f3f3"/>
<rect x="29.93" y="213.47" width="9.83" height="9.83" fill="#f4f3f3"/>
<rect x="39.76" y="213.47" width="9.83" height="9.83" fill="#f4f3f3"/>
<rect x="49.59" y="213.47" width="9.83" height="9.83" fill="#f4f3f3"/>
<rect x="59.42" y="213.47" width="9.83" height="9.83" fill="#d4242a"/>
<rect x="69.25" y="213.47" width="9.83" height="9.83" fill="#f4f3f3"/>
<rect x="79.08" y="213.47" width="9.83" height="9.83" fill="#f4f3f3"/>
<rect x="88.91" y="213.47" width="9.83" height="9.83" fill="#f4f3f3"/>
<rect x="98.74" y="213.47" width="9.83" height="9.83" fill="#f4f3f3"/>
<rect x="108.57" y="213.47" width="9.83" height="9.83" fill="#a30c4a"/>
<rect x="118.40" y="213.47" width="9.83" height="9.83" fill="#f4f3f3"/>
<rect x="128.23" y="213.47" width="9.83" height="9.83" fill="#f4f3f3"/>
<rect x="138.06" y="213.47" width="9.83" height="9.83" fill="#f4f3f3"/>
<rect x="147.89" y="213.47" width="9.83" height="9.83" fill="#f4f3f3"/>
<rect x="157.72" y="213.47" width="9.83" height="9.83" fill="#f4f3f3"/>
<rect x="167.55" y="213.47" width="9.83" height="9.83" fill="#f4f3f3"/>
<rect x="177.38" y="213.47" width="9.83" height="9.83" fill="#f4f3f3"/>
<rect x="187.21" y="213.47" width="9.83" height="9.83" fill="#f4f3f3"/>
<rect x="197.04" y="213.47" width="9.83" height="9.83" fill="#f4f3f3"/>
<rect x="206.87" y="213.47" width="9.83" height="9.83" fill="#f4f3f3"/>
<rect x="20.10" y="223.30" width="9.83" height="9.83" fill="#f4f3f3"/>
<rect x="29.93" y="223.30" width="9.83" height="9.83" fill="#f4f3f3"/>
<rect x="39.76" y="223.30" width="9.83" height="9.83" fill="#f4f3f3"/>
<rect x="49.59" y="223.30" width="9.83" height="9.83" fill="#f4f3f3"/>
<rect x="59.42" y="223.30" width="9.83" height="9.83" fill="#f4f3f3"/>
<rect x="69.25" y="223.30" width="9.83" height="9.83" fill="#f4f3f3"/>
<rect x="79.08" y="223.30" width="9.83" height="9.83" fill="#f4f3f3"/>
<rect x="88.91" y="223.30" width="9.83" height="9.83" fill="#f4f3f3"/>
<rect x="98.74" y="223.30" width="9.83" height="9.83" fill="#f4f3f3"/>
<rect x="108.57" y="223.30" width="9.83" height="9.83" fill="#f4f3f3"/>
<rect x="118.40" y="223.30" width="9.83" height="9.83" fill="#3389c3"/>
<rect x="128.23" y="223.30" width="9.83" height="9.83" fill="#f4f3f3"/>
<rect x="138.06" y="223.30" width="9.83" height="9.83" fill="#f4f3f3"/>
<rect x="147.89" y="223.30" width="9.83" height="9.83" fill="#f4f3f3"/>
<rect x="157.72" y="223.30" width="9.83" height="9.83" fill="#f4f3f3"/>
<rect x="167.55" y="223.30" width="9.83" height="9.83" fill="#f4f3f3"/>
<rect x="177.38" y="223.30" width="9.83" height="9.83" fill="#f4f3f3"/>
<rect x="187.21" y="223.30" width="9.83" height="9.83" fill="#f4f3f3"/>
<rect x="197.04" y="223.30" width="9.83" height="9.83" fill="#f4f3f3"/>
<rect x="206.87" y="223.30" width="9.83" height="9.83" fill="#f4f3f3"/>
<rect x="20.10" y="233.13" width="9.83" height="9.83" fill="#f4f3f3"/>
<rect x="29.93" y="233.13" width="9.83" height="9.83" fill="#f4f3f3"/>
<rect x="39.76" y="233.13" width="9.83" height="9.83" fill="#f4f3f3"/>
<rect x="49.59" y="233.13" width="9.83" height="9.83" fill="#f4f3f3"/>
<rect x="59.42" y="233.13" width="9.83" height="9.83" fill="#f4f3f3"/>
<rect x="69.25" y="233.13" width="9.83" height="9.83" fill="#f4f3f3"/>
<rect x="79.08" y="233.13" width="9.83" height="9.83" fill="#f4f3f3"/>
<rect x="88.91" y="233.13" width="9.83" height="9.83" fill="#f4f3f3"/>
<rect x="98.74" y="233.13" width="9.83" height="9.83" fill="#f7d4cb"/>
<rect x="108.57" y="233.13" width="9.83" height="9.83" fill="#f7d4cb"/>
<rect x="118.40" y="233.13" width="9.83" height="9.83" fill="#f4f3f3"/>
<rect x="128.23" y="233.13" width="9.83" height="9.83" fill="#4d59a8"/>
<rect x="138.06" y="233.13" width="9.83" height="9.83" fill="#f4f3f3"/>
<rect x="147.89" y="233.13" width="9.83" height="9.83" fill="#f4f3f3"/>
<rect x="157.72" y="233.13" width="9.83" height="9.83" fill="#f4f3f3"/>
<rect x="167.55" y="233.13" width="9.83" height="9.83" fill="#f4f3f3"/>
<rect x="177.38" y="233.13" width="9.83" height="9.83" fill="#f4f3f3"/>
<rect x="187.21" y="233.13" width="9.83" height="9.83" fill="#f4f3f3"/>
<rect x="197.04" y="233.13" width="9.83" height="9.83" fill="#f4f3f3"/>
<rect x="206.87" y="233.13" width="9.83" height="9.83" fill="#f4f3f3"/>
<rect x="20.10" y="242.96" width="9.83" height="9.83" fill="#f4f3f3"/>
<rect x="29.93" y="242.96" width="9.83" height="9.83" fill="#f4f3f3"/>
<rect x="39.76" y="242.96" width="9.83" height="9.83" fill="#f4f3f3"/>
<rect x="49.59" y="242.96" width="9.83" height="9.83" fill="#f4f3f3"/>
<rect x="59.42" y="242.96" width="9.83" height="9.83" fill="#f4f3f3"/>
<rect x="69.25" y="242.96" width="9.83" height="9.83" fill="#f4f3f3"/>
<rect x="79.08" y="242.96" width="9.83" height="9.83" fill="#f4f3f3"/>
<rect x="88.91" y="242.96" width="9.83" height="9.83" fill="#f4f3f3"/>
<rect x="98.74" y="242.96" width="9.83" height="9.83" fill="#f4f3f3"/>
<rect x="108.57" y="242.96" width="9.83" height="9.83" fill="#f4f3f3"/>
<rect x="118.40" y="242.96" width="9.83" height="9.83" fill="#f4f3f3"/>
<rect x="128.23" y="242.96" width="9.83" height="9.83" fill="#f4f3f3"/>
<rect x="138.06" y="242.96" width="9.83" height="9.83" fill="#5c4b9c"/>
<rect x="147.89" y="242.96" width="9.83" height="9.83" fill="#f4f3f3"/>
<rect x="157.72" y="242.96" width="9.83" height="9.83" fill="#f8967b"/>
<rect x="167.55" y="242.96" width="9.83" height="9.83" fill="#f4f3f3"/>
<rect x="177.38" y="242.96" width="9.83" height="9.83" fill="#f4f3f3"/>
<rect x="187.21" y="242.96" width="9.83" height="9.83" fill="#f4f3f3"/>
<rect x="197.04" y="242.96" width="9.83" height="9.83" fill="#f4f3f3"/>
<rect x="206.87" y="242.96" width="9.83" height="9.83" fill="#f4f3f3"/>
<rect x="20.10" y="252.79" width="9.83" height="9.83" fill="#f4f3f3"/>
<rect x="29.93" y="252.79" width="9.83" height="9.83" fill="#f4f3f3"/>
<rect x="39.76" y="252.79" width="9.83" height="9.83" fill="#f4f3f3"/>
<rect x="49.59" y="252.79" width="9.83" height="9.83" fill="#f4f3f3"/>
<rect x="59.42" y="252.79" width="9.83" height="9.83" fill="#f4f3f3"/>
<rect x="69.25" y="252.79" width="9.83" height="9.83" fill="#f4f3f3"/>
<rect x="79.08" y="252.79" width="9.83" height="9.83" fill="#f4f3f3"/>
<rect x="88.91" y="252.79" width="9.83" height="9.83" fill="#f4f3f3"/>
<rect x="98.74" y="252.79" width="9.83" height="9.83" fill="#f8b4a1"/>
<rect x="108.57" y="252.79" width="9.83" height="9.83" fill="#f4f3f3"/>
<rect x="118.40" y="252.79" width="9.83" height="9.83" fill="#f4f3f3"/>
<rect x="128.23" y="252.79" width="9.83" height="9.83" fill="#f4f3f3"/>
<rect x="138.06" y="252.79" width="9.83" height="9.83" fill="#f4f3f3"/>
<rect x="147.89" y="252.79" width="9.83" height="9.83" fill="#4d59a8"/>
<rect x="157.72" y="252.79" width="9.83" height="9.83" fill="#f4f3f3"/>
<rect x="167.55" y="252.79" width="9.83" height="9.83" fill="#f4f3f3"/>
<rect x="177.38" y="252.79" width="9.83" height="9.83" fill="#f4f3f3"/>
<rect x="187.21" y="252.79" width="9.83" height="9.83" fill="#f4f3f3"/>
<rect x="197.04" y="252.79" width="9.83" height="9.83" fill="#f4f3f3"/>
<rect x="206.87" y="252.79" width="9.83" height="9.83" fill="#f4f3f3"/>
<rect x="20.10" y="262.62" width="9.83" height="9.83" fill="#f4f3f3"/>
<rect x="29.93" y="262.62" width="9.83" height="9.83" fill="#f4f3f3"/>
<rect x="39.76" y="262.62" width="9.83" height="9.83" fill="#f4f3f3"/>
<rect x="49.59" y="262.62" width="9.83" height="9.83" fill="#f4f3f3"/>
<rect x="59.42" y="262.62" width="9.83" height="9.83" fill="#f4f3f3"/>
<rect x="69.25" y="262.62" width="9.83" height="9.83" fill="#f4f3f3"/>
<rect x="79.08" y="262.62" width="9.83" height="9.83" fill="#f4f3f3"/>
<rect x="88.91" y="262.62" width="9.83" height="9.83" fill="#f4f3f3"/>
<rect x="98.74" y="262.62" width="9.83" height="9.83" fill="#f8b4a1"/>
<rect x="108.57" y="262.62" width="9.83" height="9.83" fill="#f4f3f3"/>
<rect x="118.40" y="262.62" width="9.83" height="9.83" fill="#f4f3f3"/>
<rect x="128.23" y="262.62" width="9.83" height="9.83" fill="#f4f3f3"/>
<rect x="138.06" y="262.62" width="9.83" height="9.83" fill="#ed6146"/>
<rect x="147.89" y="262.62" width="9.83" height="9.83" fill="#f4f3f3"/>
<rect x="157.72" y="262.62" width="9.83" height="9.83" fill="#a30c4a"/>
<rect x="167.55" y="262.62" width="9.83" height="9.83" fill="#f4f3f3"/>
<rect x="177.38" y="262.62" width="9.83" height="9.83" fill="#f4f3f3"/>
<rect x="187.21" y="262.62" width="9.83" height="9.83" fill="#f4f3f3"/>
<rect x="197.04" y="262.62" width="9.83" height="9.83" fill="#f4f3f3"/>
<rect x="206.87" y="262.62" width="9.83" height="9.83" fill="#f4f3f3"/>
<rect x="20.10" y="272.45" width="9.83" height="9.83" fill="#f4f3f3"/>
<rect x="29.93" y="272.45" width="9.83" height="9.83" fill="#f4f3f3"/>
<rect x="39.76" y="272.45" width="9.83" height="9.83" fill="#f4f3f3"/>
<rect x="49.59" y="272.45" width="9.83" height="9.83" fill="#f4f3f3"/>
<rect x="59.42" y="272.45" width="9.83" height="9.83" fill="#f4f3f3"/>
<rect x="69.25" y="272.45" width="9.83" height="9.83" fill="#f4f3f3"/>
<rect x="79.08" y="272.45" width="9.83" height="9.83" fill="#f4f3f3"/>
<rect x="88.91" y="272.45" width="9.83" height="9.83" fill="#f4f3f3"/>
<rect x="98.74" y="272.45" width="9.83" height="9.83" fill="#f4f3f3"/>
<rect x="108.57" y="272.45" width="9.83" height="9.83" fill="#f4f3f3"/>
<rect x="118.40" y="272.45" width="9.83" height="9.83" fill="#f4f3f3"/>
<rect x="128.23" y="272.45" width="9.83" height="9.83" fill="#f4f3f3"/>
<rect x="138.06" y="272.45" width="9.83" height="9.83" fill="#f4f3f3"/>
<rect x="147.89" y="272.45" width="9.83" height="9.83" fill="#f4f3f3"/>
<rect x="157.72" y="272.45" width="9.83" height="9.83" fill="#f4f3f3"/>
<rect x="167.55" y="272.45" width="9.83" height="9.83" fill="#5c4b9c"/>
<rect x="177.38" y="272.45" width="9.83" height="9.83" fill="#f4f3f3"/>
<rect x="187.21" y="272.45" width="9.83" height="9.83" fill="#f4f3f3"/>
<rect x="197.04" y="272.45" width="9.83" height="9.83" fill="#f8967b"/>
<rect x="206.87" y="272.45" width="9.83" height="9.83" fill="#f4f3f3"/>
<rect x="20.10" y="282.28" width="9.83" height="9.83" fill="#f4f3f3"/>
<rect x="29.93" y="282.28" width="9.83" height="9.83" fill="#f4f3f3"/>
<rect x="39.76" y="282.28" width="9.83" height="9.83" fill="#f4f3f3"/>
<rect x="49.59" y="282.28" width="9.83" height="9.83" fill="#f4f3f3"/>
<rect x="59.42" y="282.28" width="9.83" height="9.83" fill="#f4f3f3"/>
<rect x="69.25" y="282.28" width="9.83" height="9.83" fill="#f4f3f3"/>
<rect x="79.08" y="282.28" width="9.83" height="9.83" fill="#f4f3f3"/>
<rect x="88.91" y="282.28" width="9.83" height="9.83" fill="#f4f3f3"/>
<rect x="98.74" y="282.28" width="9.83" height="9.83" fill="#f4f3f3"/>
<rect x="108.57" y="282.28" width="9.83" height="9.83" fill="#f4f3f3"/>
<rect x="118.40" y="282.28" width="9.83" height="9.83" fill="#f4f3f3"/>
<rect x="128.23" y="282.28" width="9.83" height="9.83" fill="#f4f3f3"/>
<rect x="138.06" y="282.28" width="9.83" height="9.83" fill="#f4f3f3"/>
<rect x="147.89" y="282.28" width="9.83" height="9.83" fill="#f4f3f3"/>
<rect x="157.72" y="282.28" width="9.83" height="9.83" fill="#f4f3f3"/>
<rect x="167.55" y="282.28" width="9.83" height="9.83" fill="#f4f3f3"/>
<rect x="177.38" y="282.28" width="9.83" height="9.83" fill="#3389c3"/>
<rect x="187.21" y="282.28" width="9.83" height="9.83" fill="#f4f3f3"/>
<rect x="197.04" y="282.28" width="9.83" height="9.83" fill="#f4f3f3"/>
<rect x="206.87" y="282.28" width="9.83" height="9.83" fill="#f4f3f3"/>
<rect x="20.10" y="292.11" width="9.83" height="9.83" fill="#f4f3f3"/>
<rect x="29.93" y="292.11" width="9.83" height="9.83" fill="#f4f3f3"/>
<rect x="39.76" y="292.11" width="9.83" height="9.83" fill="#f4f3f3"/>
<rect x="49.59" y="292.11" width="9.83" height="9.83" fill="#f4f3f3"/>
<rect x="59.42" y="292.11" width="9.83" height="9.83" fill="#f4f3f3"/>
<rect x="69.25" y="292.11" width="9.83" height="9.83" fill="#f4f3f3"/>
<rect x="79.08" y="292.11" width="9.83" height="9.83" fill="#f4f3f3"/>
<rect x="88.91" y="292.11" width="9.83" height="9.83" fill="#f4f3f3"/>
<rect x="98.74" y="292.11" width="9.83" height="9.83" fill="#f7d4cb"/>
<rect x="108.57" y="292.11" width="9.83" height="9.83" fill="#f4f3f3"/>
<rect x="118.40" y="292.11" width="9.83" height="9.83" fill="#f4f3f3"/>
<rect x="128.23" y="292.11" width="9.83" height="9.83" fill="#f4f3f3"/>
<rect x="138.06" y="292.11" width="9.83" height="9.83" fill="#f4f3f3"/>
<rect x="147.89" y="292.11" width="9.83" height="9.83" fill="#f4f3f3"/>
<rect x="157.72" y="292.11" width="9.83" height="9.83" fill="#f4f3f3"/>
<rect x="167.55" y="292.11" width="9.83" height="9.83" fill="#f4f3f3"/>
<rect x="177.38" y="292.11" width="9.83" height="9.83" fill="#f4f3f3"/>
<rect x="187.21" y="292.11" width="9.83" height="9.83" fill="#3c77ba"/>
<rect x="197.04" y="292.11" width="9.83" height="9.83" fill="#f4f3f3"/>
<rect x="206.87" y="292.11" width="9.83" height="9.83" fill="#f4f3f3"/>
<rect x="20.10" y="301.94" width="9.83" height="9.83" fill="#f4f3f3"/>
<rect x="29.93" y="301.94" width="9.83" height="9.83" fill="#f4f3f3"/>
<rect x="39.76" y="301.94" width="9.83" height="9.83" fill="#f4f3f3"/>
<rect x="49.59" y="301.94" width="9.83" height="9.83" fill="#f4f3f3"/>
<rect x="59.42" y="301.94" width="9.83" height="9.83" fill="#f4f3f3"/>
<rect x="69.25" y="301.94" width="9.83" height="9.83" fill="#f4f3f3"/>
<rect x="79.08" y="301.94" width="9.83" height="9.83" fill="#f4f3f3"/>
<rect x="88.91" y="301.94" width="9.83" height="9.83" fill="#f4f3f3"/>
<rect x="98.74" y="301.94" width="9.83" height="9.83" fill="#f4f3f3"/>
<rect x="108.57" y="301.94" width="9.83" height="9.83" fill="#f4f3f3"/>
<rect x="118.40" y="301.94" width="9.83" height="9.83" fill="#f4f3f3"/>
<rect x="128.23" y="301.94" width="9.83" height="9.83" fill="#f4f3f3"/>
<rect x="138.06" y="301.94" width="9.83" height="9.83" fill="#f4f3f3"/>
<rect x="147.89" y="301.94" width="9.83" height="9.83" fill="#f4f3f3"/>
<rect x="157.72" y="301.94" width="9.83" height="9.83" fill="#f4f3f3"/>
<rect x="167.55" y="301.94" width="9.83" height="9.83" fill="#f8b4a1"/>
<rect x="177.38" y="301.94" width="9.83" height="9.83" fill="#f4f3f3"/>
<rect x="187.21" y="301.94" width="9.83" height="9.83" fill="#f4f3f3"/>
<rect x="197.04" y="301.94" width="9.83" height="9.83" fill="#4467b3"/>
<rect x="206.87" y="301.94" width="9.83" height="9.83" fill="#f4f3f3"/>
<rect x="20.10" y="311.77" width="9.83" height="9.83" fill="#f4f3f3"/>
<rect x="29.93" y="311.77" width="9.83" height="9.83" fill="#f4f3f3"/>
<rect x="39.76" y="311.77" width="9.83" height="9.83" fill="#f4f3f3"/>
<rect x="49.59" y="311.77" width="9.83" height="9.83" fill="#f4f3f3"/>
<rect x="59.42" y="311.77" width="9.83" height="9.83" fill="#f4f3f3"/>
<rect x="69.25" y="311.77" width="9.83" height="9.83" fill="#f4f3f3"/>
<rect x="79.08" y="311.77" width="9.83" height="9.83" fill="#f4f3f3"/>
<rect x="88.91" y="311.77" width="9.83" height="9.83" fill="#f4f3f3"/>
<rect x="98.74" y="311.77" width="9.83" height="9.83" fill="#f4f3f3"/>
<rect x="108.57" y="311.77" width="9.83" height="9.83" fill="#f4f3f3"/>
<rect x="118.40" y="311.77" width="9.83" height="9.83" fill="#f4f3f3"/>
<rect x="128.23" y="311.77" width="9.83" height="9.83" fill="#f4f3f3"/>
<rect x="138.06" y="311.77" width="9.83" height="9.83" fill="#f4f3f3"/>
<rect x="147.89" y="311.77" width="9.83" height="9.83" fill="#f4f3f3"/>
<rect x="157.72" y="311.77" width="9.83" height="9.83" fill="#f4f3f3"/>
<rect x="167.55" y="311.77" width="9.83" height="9.83" fill="#f4f3f3"/>
<rect x="177.38" y="311.77" width="9.83" height="9.83" fill="#f4f3f3"/>
<rect x="187.21" y="311.77" width="9.83" height="9.83" fill="#f4f3f3"/>
<rect x="197.04" y="311.77" width="9.83" height="9.83" fill="#f4f3f3"/>
<rect x="206.87" y="311.77" width="9.83" height="9.83" fill="#3389c3"/>
</g>
<g font-size="3.2" text-anchor="middle" fill="#444444" stroke="#444444" stroke-width="0.04">
<text x="34.8" y="131.4">0.0</text>
<text x="44.7" y="131.4">0.0</text>
<text x="54.5" y="131.4">0.0</text>
<text x="64.3" y="131.4">0.0</text>
<text x="74.2" y="131.4">0.0</text>
<text x="84.0" y="131.4">0.0</text>
<text x="93.8" y="131.4">0.7</text>
<text x="103.7" y="131.4">0.0</text>
<text x="113.5" y="131.4">0.0</text>
<text x="123.3" y="131.4">0.0</text>
<text x="133.1" y="131.4">0.0</text>
<text x="143.0" y="131.4">0.0</text>
<text x="152.8" y="131.4">0.0</text>
<text x="162.6" y="131.4">0.0</text>
<text x="172.5" y="131.4">0.0</text>
<text x="182.3" y="131.4">0.0</text>
<text x="192.1" y="131.4">0.0</text>
<text x="202.0" y="131.4">0.0</text>
<text x="211.8" y="131.4">0.0</text>
<text x="25.0" y="141.2">0.0</text>
<text x="44.7" y="141.2">0.0</text>
<text x="54.5" y="141.2">9.3</text>
<text x="64.3" y="141.2">0.0</text>
<text x="74.2" y="141.2">0.0</text>
<text x="84.0" y="141.2">0.0</text>
<text x="93.8" y="141.2">0.0</text>
<text x="103.7" y="141.2">0.0</text>
<text x="113.5" y="141.2">0.0</text>
<text x="123.3" y="141.2">0.0</text>
<text x="133.1" y="141.2">0.0</text>
<text x="143.0" y="141.2">0.0</text>
<text x="152.8" y="141.2">0.0</text>
<text x="162.6" y="141.2">0.0</text>
<text x="172.5" y="141.2">0.0</text>
<text x="182.3" y="141.2">0.0</text>
<text x="192.1" y="141.2">0.0</text>
<text x="202.0" y="141.2">0.0</text>
<text x="211.8" y="141.2">0.0</text>
<text x="25.0" y="151.0">0.0</text>
<text x="34.8" y="151.0">0.0</text>
<text x="54.5" y="151.0">0.0</text>
<text x="64.3" y="151.0">0.0</text>
<text x="74.2" y="151.0">0.0</text>
<text x="84.0" y="151.0">2.0</text>
<text x="93.8" y="151.0">0.0</text>
<text x="103.7" y="151.0">0.4</text>
<text x="113.5" y="151.0">0.0</text>
<text x="123.3" y="151.0">0.0</text>
<text x="133.1" y="151.0">0.0</text>
<text x="143.0" y="151.0">0.0</text>
<text x="152.8" y="151.0">0.0</text>
<text x="162.6" y="151.0">0.0</text>
<text x="172.5" y="151.0">0.0</text>
<text x="182.3" y="151.0">0.0</text>
<text x="192.1" y="151.0">0.4</text>
<text x="202.0" y="151.0">2.0</text>
<text x="211.8" y="151.0">0.0</text>
<text x="25.0" y="160.9">0.0</text>
<text x="44.7" y="160.9">0.0</text>
<text x="64.3" y="160.9">0.4</text>
<text x="74.2" y="160.9">0.0</text>
<text x="84.0" y="160.9">0.0</text>
<text x="93.8" y="160.9">0.0</text>
<text x="103.7" y="160.9">0.0</text>
<text x="113.5" y="160.9">11.5</text>
<text x="123.3" y="160.9">0.0</text>
<text x="133.1" y="160.9">0.0</text>
<text x="143.0" y="160.9">0.0</text>
<text x="152.8" y="160.9">0.0</text>
<text x="162.6" y="160.9">0.0</text>
<text x="172.5" y="160.9">0.0</text>
<text x="182.3" y="160.9">0.0</text>
<text x="192.1" y="160.9">0.0</text>
<text x="202.0" y="160.9">0.0</text>
<text x="211.8" y="160.9">0.0</text>
<text x="25.0" y="170.7">0.0</text>
<text x="34.8" y="170.7">0.0</text>
<text x="44.7" y="170.7">0.0</text>
<text x="54.5" y="170.7">0.0</text>
<text x="74.2" y="170.7">17.6</text>
<text x="84.0" y="170.7">0.0</text>
<text x="93.8" y="170.7">0.4</text>
<text x="103.7" y="170.7">0.0</text>
<text x="123.3" y="170.7">0.0</text>
<text x="133.1" y="170.7">0.0</text>
<text x="143.0" y="170.7">0.0</text>
<text x="152.8" y="170.7">0.0</text>
<text x="162.6" y="170.7">0.0</text>
<text x="172.5" y="170.7">0.0</text>
<text x="182.3" y="170.7">0.0</text>
<text x="192.1" y="170.7">0.0</text>
<text x="202.0" y="170.7">0.0</text>
<text x="211.8" y="170.7">0.0</text>
<text x="25.0" y="180.5">0.0</text>
<text x="34.8" y="180.5">0.0</text>
<text x="44.7" y="180.5">0.0</text>
<text x="54.5" y="180.5">0.0</text>
<text x="64.3" y="180.5">16.2</text>
<text x="84.0" y="180.5">0.0</text>
<text x="93.8" y="180.5">0.0</text>
<text x="103.7" y="180.5">0.4</text>
<text x="113.5" y="180.5">0.0</text>
<text x="123.3" y="180.5">0.0</text>
<text x="133.1" y="180.5">0.0</text>
<text x="143.0" y="180.5">0.0</text>
<text x="152.8" y="180.5">0.0</text>
<text x="162.6" y="180.5">0.0</text>
<text x="172.5" y="180.5">0.0</text>
<text x="182.3" y="180.5">0.0</text>
<text x="192.1" y="180.5">0.0</text>
<text x="202.0" y="180.5">0.0</text>
<text x="211.8" y="180.5">0.0</text>
<text x="25.0" y="190.3">0.0</text>
<text x="34.8" y="190.3">0.0</text>
<text x="44.7" y="190.3">0.4</text>
<text x="54.5" y="190.3">0.0</text>
<text x="64.3" y="190.3">0.0</text>
<text x="74.2" y="190.3">0.0</text>
<text x="93.8" y="190.3">0.0</text>
<text x="103.7" y="190.3">0.0</text>
<text x="113.5" y="190.3">0.0</text>
<text x="123.3" y="190.3">0.0</text>
<text x="133.1" y="190.3">0.0</text>
<text x="143.0" y="190.3">0.0</text>
<text x="152.8" y="190.3">1.1</text>
<text x="162.6" y="190.3">0.0</text>
<text x="172.5" y="190.3">0.0</text>
<text x="182.3" y="190.3">0.0</text>
<text x="192.1" y="190.3">7.8</text>
<text x="202.0" y="190.3">0.0</text>
<text x="211.8" y="190.3">0.0</text>
<text x="25.0" y="200.2">0.0</text>
<text x="34.8" y="200.2">0.0</text>
<text x="44.7" y="200.2">0.0</text>
<text x="54.5" y="200.2">0.0</text>
<text x="64.3" y="200.2">1.8</text>
<text x="74.2" y="200.2">0.0</text>
<text x="84.0" y="200.2">0.0</text>
<text x="113.5" y="200.2">0.7</text>
<text x="123.3" y="200.2">0.0</text>
<text x="133.1" y="200.2">0.0</text>
<text x="143.0" y="200.2">0.0</text>
<text x="152.8" y="200.2">0.0</text>
<text x="162.6" y="200.2">0.0</text>
<text x="172.5" y="200.2">0.0</text>
<text x="182.3" y="200.2">0.0</text>
<text x="192.1" y="200.2">0.0</text>
<text x="202.0" y="200.2">0.4</text>
<text x="211.8" y="200.2">0.0</text>
<text x="25.0" y="210.0">0.0</text>
<text x="34.8" y="210.0">0.0</text>
<text x="44.7" y="210.0">0.0</text>
<text x="54.5" y="210.0">0.0</text>
<text x="64.3" y="210.0">3.9</text>
<text x="74.2" y="210.0">5.0</text>
<text x="84.0" y="210.0">0.0</text>
<text x="93.8" y="210.0">3.6</text>
<text x="113.5" y="210.0">3.9</text>
<text x="123.3" y="210.0">1.1</text>
<text x="133.1" y="210.0">0.0</text>
<text x="143.0" y="210.0">1.1</text>
<text x="152.8" y="210.0">2.0</text>
<text x="162.6" y="210.0">6.4</text>
<text x="172.5" y="210.0">0.0</text>
<text x="182.3" y="210.0">0.0</text>
<text x="202.0" y="210.0">0.0</text>
<text x="211.8" y="210.0">2.1</text>
<text x="25.0" y="219.8">0.0</text>
<text x="34.8" y="219.8">0.0</text>
<text x="44.7" y="219.8">0.0</text>
<text x="54.5" y="219.8">0.0</text>
<text x="74.2" y="219.8">0.0</text>
<text x="84.0" y="219.8">0.0</text>
<text x="93.8" y="219.8">1.1</text>
<text x="103.7" y="219.8">1.1</text>
<text x="123.3" y="219.8">0.0</text>
<text x="133.1" y="219.8">0.0</text>
<text x="143.0" y="219.8">0.0</text>
<text x="152.8" y="219.8">0.0</text>
<text x="162.6" y="219.8">0.0</text>
<text x="172.5" y="219.8">0.0</text>
<text x="182.3" y="219.8">0.0</text>
<text x="192.1" y="219.8">0.0</text>
<text x="202.0" y="219.8">0.0</text>
<text x="211.8" y="219.8">0.0</text>
<text x="25.0" y="229.7">0.0</text>
<text x="34.8" y="229.7">0.0</text>
<text x="44.7" y="229.7">0.0</text>
<text x="54.5" y="229.7">0.0</text>
<text x="64.3" y="229.7">0.0</text>
<text x="74.2" y="229.7">0.0</text>
<text x="84.0" y="229.7">0.4</text>
<text x="93.8" y="229.7">0.0</text>
<text x="103.7" y="229.7">0.0</text>
<text x="113.5" y="229.7">0.0</text>
<text x="133.1" y="229.7">0.0</text>
<text x="143.0" y="229.7">0.0</text>
<text x="152.8" y="229.7">0.0</text>
<text x="162.6" y="229.7">0.0</text>
<text x="172.5" y="229.7">0.0</text>
<text x="182.3" y="229.7">0.0</text>
<text x="192.1" y="229.7">0.0</text>
<text x="202.0" y="229.7">0.0</text>
<text x="211.8" y="229.7">0.4</text>
<text x="25.0" y="239.5">0.0</text>
<text x="34.8" y="239.5">0.0</text>
<text x="44.7" y="239.5">0.0</text>
<text x="54.5" y="239.5">0.0</text>
<text x="64.3" y="239.5">0.0</text>
<text x="74.2" y="239.5">0.4</text>
<text x="84.0" y="239.5">0.0</text>
<text x="93.8" y="239.5">0.0</text>
<text x="103.7" y="239.5">8.8</text>
<text x="113.5" y="239.5">6.3</text>
<text x="123.3" y="239.5">0.0</text>
<text x="143.0" y="239.5">0.0</text>
<text x="152.8" y="239.5">0.0</text>
<text x="162.6" y="239.5">0.0</text>
<text x="172.5" y="239.5">0.0</text>
<text x="182.3" y="239.5">0.0</text>
<text x="192.1" y="239.5">0.0</text>
<text x="202.0" y="239.5">0.0</text>
<text x="211.8" y="239.5">0.0</text>
<text x="25.0" y="249.3">0.0</text>
<text x="34.8" y="249.3">0.0</text>
<text x="44.7" y="249.3">0.0</text>
<text x="54.5" y="249.3">0.0</text>
<text x="64.3" y="249.3">0.0</text>
<text x="74.2" y="249.3">0.0</text>
<text x="84.0" y="249.3">0.0</text>
<text x="93.8" y="249.3">0.0</text>
<text x="103.7" y="249.3">3.2</text>
<text x="113.5" y="249.3">0.0</text>
<text x="123.3" y="249.3">0.0</text>
<text x="133.1" y="249.3">0.0</text>
<text x="152.8" y="249.3">0.0</text>
<text x="162.6" y="249.3">18.2</text>
<text x="172.5" y="249.3">0.0</text>
<text x="182.3" y="249.3">0.0</text>
<text x="192.1" y="249.3">0.0</text>
<text x="202.0" y="249.3">0.0</text>
<text x="211.8" y="249.3">0.0</text>
<text x="25.0" y="259.2">0.0</text>
<text x="34.8" y="259.2">0.0</text>
<text x="44.7" y="259.2">0.4</text>
<text x="54.5" y="259.2">0.0</text>
<text x="64.3" y="259.2">0.0</text>
<text x="74.2" y="259.2">0.0</text>
<text x="84.0" y="259.2">1.1</text>
<text x="93.8" y="259.2">0.0</text>
<text x="103.7" y="259.2">11.6</text>
<text x="113.5" y="259.2">0.0</text>
<text x="123.3" y="259.2">0.4</text>
<text x="133.1" y="259.2">0.0</text>
<text x="143.0" y="259.2">0.0</text>
<text x="162.6" y="259.2">3.2</text>
<text x="172.5" y="259.2">0.0</text>
<text x="182.3" y="259.2">0.0</text>
<text x="192.1" y="259.2">1.1</text>
<text x="202.0" y="259.2">0.0</text>
<text x="211.8" y="259.2">0.0</text>
<text x="25.0" y="269.0">0.0</text>
<text x="34.8" y="269.0">0.0</text>
<text x="44.7" y="269.0">0.0</text>
<text x="54.5" y="269.0">0.0</text>
<text x="64.3" y="269.0">0.7</text>
<text x="74.2" y="269.0">3.9</text>
<text x="84.0" y="269.0">0.0</text>
<text x="93.8" y="269.0">0.4</text>
<text x="103.7" y="269.0">13.1</text>
<text x="113.5" y="269.0">1.1</text>
<text x="123.3" y="269.0">0.0</text>
<text x="133.1" y="269.0">0.7</text>
<text x="152.8" y="269.0">0.0</text>
<text x="172.5" y="269.0">0.0</text>
<text x="182.3" y="269.0">0.0</text>
<text x="192.1" y="269.0">0.0</text>
<text x="202.0" y="269.0">0.0</text>
<text x="211.8" y="269.0">0.0</text>
<text x="25.0" y="278.8">0.0</text>
<text x="34.8" y="278.8">0.0</text>
<text x="44.7" y="278.8">0.2</text>
<text x="54.5" y="278.8">0.0</text>
<text x="64.3" y="278.8">0.0</text>
<text x="74.2" y="278.8">0.0</text>
<text x="84.0" y="278.8">0.0</text>
<text x="93.8" y="278.8">0.0</text>
<text x="103.7" y="278.8">0.0</text>
<text x="113.5" y="278.8">0.0</text>
<text x="123.3" y="278.8">0.4</text>
<text x="133.1" y="278.8">0.0</text>
<text x="143.0" y="278.8">0.0</text>
<text x="152.8" y="278.8">0.0</text>
<text x="162.6" y="278.8">0.0</text>
<text x="182.3" y="278.8">0.0</text>
<text x="192.1" y="278.8">0.0</text>
<text x="202.0" y="278.8">19.8</text>
<text x="211.8" y="278.8">0.0</text>
<text x="25.0" y="288.6">0.0</text>
<text x="34.8" y="288.6">0.0</text>
<text x="44.7" y="288.6">0.0</text>
<text x="54.5" y="288.6">0.0</text>
<text x="64.3" y="288.6">0.0</text>
<text x="74.2" y="288.6">0.0</text>
<text x="84.0" y="288.6">0.0</text>
<text x="93.8" y="288.6">0.0</text>
<text x="103.7" y="288.6">0.0</text>
<text x="113.5" y="288.6">0.0</text>
<text x="123.3" y="288.6">0.0</text>
<text x="133.1" y="288.6">0.0</text>
<text x="143.0" y="288.6">0.0</text>
<text x="152.8" y="288.6">0.0</text>
<text x="162.6" y="288.6">0.0</text>
<text x="172.5" y="288.6">0.0</text>
<text x="192.1" y="288.6">0.0</text>
<text x="202.0" y="288.6">0.0</text>
<text x="211.8" y="288.6">0.0</text>
<text x="25.0" y="298.5">0.0</text>
<text x="34.8" y="298.5">0.0</text>
<text x="44.7" y="298.5">0.0</text>
<text x="54.5" y="298.5">0.0</text>
<text x="64.3" y="298.5">0.0</text>
<text x="74.2" y="298.5">0.0</text>
<text x="84.0" y="298.5">1.8</text>
<text x="93.8" y="298.5">0.0</text>
<text x="103.7" y="298.5">6.4</text>
<text x="113.5" y="298.5">0.0</text>
<text x="123.3" y="298.5">0.0</text>
<text x="133.1" y="298.5">0.0</text>
<text x="143.0" y="298.5">0.0</text>
<text x="152.8" y="298.5">1.8</text>
<text x="162.6" y="298.5">0.0</text>
<text x="172.5" y="298.5">0.0</text>
<text x="182.3" y="298.5">0.0</text>
<text x="202.0" y="298.5">0.0</text>
<text x="211.8" y="298.5">0.0</text>
<text x="25.0" y="308.3">0.0</text>
<text x="34.8" y="308.3">0.0</text>
<text x="44.7" y="308.3">0.0</text>
<text x="54.5" y="308.3">0.0</text>
<text x="64.3" y="308.3">0.0</text>
<text x="74.2" y="308.3">0.0</text>
<text x="84.0" y="308.3">0.0</text>
<text x="93.8" y="308.3">0.0</text>
<text x="103.7" y="308.3">0.0</text>
<text x="113.5" y="308.3">0.0</text>
<text x="123.3" y="308.3">0.0</text>
<text x="133.1" y="308.3">0.0</text>
<text x="143.0" y="308.3">0.0</text>
<text x="152.8" y="308.3">0.0</text>
<text x="162.6" y="308.3">0.0</text>
<text x="172.5" y="308.3">11.8</text>
<text x="182.3" y="308.3">0.0</text>
<text x="192.1" y="308.3">0.0</text>
<text x="211.8" y="308.3">0.0</text>
<text x="25.0" y="318.1">0.0</text>
<text x="34.8" y="318.1">0.0</text>
<text x="44.7" y="318.1">0.0</text>
<text x="54.5" y="318.1">0.0</text>
<text x="64.3" y="318.1">0.0</text>
<text x="74.2" y="318.1">0.0</text>
<text x="84.0" y="318.1">1.8</text>
<text x="93.8" y="318.1">0.0</text>
<text x="103.7" y="318.1">0.0</text>
<text x="113.5" y="318.1">0.0</text>
<text x="123.3" y="318.1">0.0</text>
<text x="133.1" y="318.1">0.0</text>
<text x="143.0" y="318.1">0.0</text>
<text x="152.8" y="318.1">0.0</text>
<text x="162.6" y="318.1">0.0</text>
<text x="172.5" y="318.1">0.0</text>
<text x="182.3" y="318.1">0.0</text>
<text x="192.1" y="318.1">0.0</text>
<text x="202.0" y="318.1">0.0</text>
</g>
<g font-size="3.2" text-anchor="middle" fill="#ffffff" stroke="#ffffff" stroke-width="0.04">
<text x="25.0" y="131.4">96.3</text>
<text x="34.8" y="141.2">90.7</text>
<text x="44.7" y="151.0">93.9</text>
<text x="34.8" y="160.9">23.1</text>
<text x="54.5" y="160.9">69.4</text>
<text x="64.3" y="170.7">48.9</text>
<text x="113.5" y="170.7">32.1</text>
<text x="74.2" y="180.5">82.0</text>
<text x="84.0" y="190.3">91.1</text>
<text x="93.8" y="200.2">74.9</text>
<text x="103.7" y="200.2">23.1</text>
<text x="103.7" y="210.0">42.1</text>
<text x="192.1" y="210.0">29.2</text>
<text x="64.3" y="219.8">40.7</text>
<text x="113.5" y="219.8">57.1</text>
<text x="123.3" y="229.7">98.5</text>
<text x="133.1" y="239.5">81.4</text>
<text x="143.0" y="249.3">77.8</text>
<text x="152.8" y="259.2">83.3</text>
<text x="143.0" y="269.0">25.0</text>
<text x="162.6" y="269.0">56.1</text>
<text x="172.5" y="278.8">79.8</text>
<text x="182.3" y="288.6">100.0</text>
<text x="192.1" y="298.5">90.3</text>
<text x="202.0" y="308.3">88.2</text>
<text x="211.8" y="318.1">98.2</text>
</g>
<g font-size="3.1" text-anchor="end" fill="#1a1a1a" stroke="#1a1a1a" stroke-width="0.14">
<text x="18.5" y="130.8">PA01</text>
<text x="18.5" y="140.6">PA05</text>
<text x="18.5" y="150.4">PA06</text>
<text x="18.5" y="160.3">PA10</text>
<text x="18.5" y="170.1">PA15</text>
<text x="18.5" y="179.9">PA20</text>
<text x="18.5" y="189.7">PA21</text>
<text x="18.5" y="199.6">PA26</text>
<text x="18.5" y="209.4">PA30</text>
<text x="18.5" y="219.2">PA31</text>
<text x="18.5" y="229.1">PA37</text>
<text x="18.5" y="238.9">PA39</text>
<text x="18.5" y="248.7">PA44</text>
<text x="18.5" y="258.6">PA49</text>
<text x="18.5" y="268.4">PA55</text>
<text x="18.5" y="278.2">PA56</text>
<text x="18.5" y="288.0">PA57</text>
<text x="18.5" y="297.9">PA58</text>
<text x="18.5" y="307.7">PA65</text>
<text x="18.5" y="317.5">PA68</text>
</g>
<g font-size="3.2" text-anchor="middle" fill="#1a1a1a" stroke="#1a1a1a" stroke-width="0.08">
<text x="25.0" y="325.3">PA01</text>
<text x="34.8" y="325.3">PA05</text>
<text x="44.7" y="325.3">PA06</text>
<text x="54.5" y="325.3">PA10</text>
<text x="64.3" y="325.3">PA15</text>
<text x="74.2" y="325.3">PA20</text>
<text x="84.0" y="325.3">PA21</text>
<text x="93.8" y="325.3">PA26</text>
<text x="103.7" y="325.3">PA30</text>
<text x="113.5" y="325.3">PA31</text>
<text x="123.3" y="325.3">PA37</text>
<text x="133.1" y="325.3">PA39</text>
<text x="143.0" y="325.3">PA44</text>
<text x="152.8" y="325.3">PA49</text>
<text x="162.6" y="325.3">PA55</text>
<text x="172.5" y="325.3">PA56</text>
<text x="182.3" y="325.3">PA57</text>
<text x="192.1" y="325.3">PA58</text>
<text x="202.0" y="325.3">PA65</text>
<text x="211.8" y="325.3">PA68</text>
</g>
<text x="118.40" y="115.70" font-size="4.6" text-anchor="middle" font-weight="normal" fill="#262626" stroke="#262626" stroke-width="0.12" >SVM Strain Characterisation Confusion Matrix</text>
<text x="118.40" y="120.60" font-size="4.6" text-anchor="middle" font-weight="normal" fill="#262626" stroke="#262626" stroke-width="0.12" >532 nm</text>
<text x="118.40" y="330.30" font-size="4.6" text-anchor="middle" font-weight="normal" fill="#262626" stroke="#262626" stroke-width="0.12" >Predicted Strain Label</text>
<text transform="translate(8.20,223.30) rotate(-90)" font-size="4.7" text-anchor="middle" fill="#262626" stroke="#262626" stroke-width="0.12">True Strain Label</text>
<text x="-1.30" y="113.70" font-size="13.5" text-anchor="start" font-weight="bold" fill="#000" >b</text>
<g stroke="#fff" stroke-width="0.35">
<rect x="238.75" y="125.00" width="9.83" height="9.83" fill="#3389c3"/>
<rect x="248.58" y="125.00" width="9.83" height="9.83" fill="#f4f3f3"/>
<rect x="258.41" y="125.00" width="9.83" height="9.83" fill="#f4f3f3"/>
<rect x="268.24" y="125.00" width="9.83" height="9.83" fill="#f4f3f3"/>
<rect x="278.07" y="125.00" width="9.83" height="9.83" fill="#f4f3f3"/>
<rect x="287.90" y="125.00" width="9.83" height="9.83" fill="#f4f3f3"/>
<rect x="297.73" y="125.00" width="9.83" height="9.83" fill="#f4f3f3"/>
<rect x="307.56" y="125.00" width="9.83" height="9.83" fill="#f4f3f3"/>
<rect x="317.39" y="125.00" width="9.83" height="9.83" fill="#f4f3f3"/>
<rect x="327.22" y="125.00" width="9.83" height="9.83" fill="#f4f3f3"/>
<rect x="337.05" y="125.00" width="9.83" height="9.83" fill="#f4f3f3"/>
<rect x="346.88" y="125.00" width="9.83" height="9.83" fill="#f4f3f3"/>
<rect x="356.71" y="125.00" width="9.83" height="9.83" fill="#f4f3f3"/>
<rect x="366.54" y="125.00" width="9.83" height="9.83" fill="#f4f3f3"/>
<rect x="376.37" y="125.00" width="9.83" height="9.83" fill="#f4f3f3"/>
<rect x="386.20" y="125.00" width="9.83" height="9.83" fill="#f4f3f3"/>
<rect x="396.03" y="125.00" width="9.83" height="9.83" fill="#f4f3f3"/>
<rect x="405.86" y="125.00" width="9.83" height="9.83" fill="#f4f3f3"/>
<rect x="415.69" y="125.00" width="9.83" height="9.83" fill="#f4f3f3"/>
<rect x="425.52" y="125.00" width="9.83" height="9.83" fill="#f4f3f3"/>
<rect x="238.75" y="134.83" width="9.83" height="9.83" fill="#f4f3f3"/>
<rect x="248.58" y="134.83" width="9.83" height="9.83" fill="#4467b3"/>
<rect x="258.41" y="134.83" width="9.83" height="9.83" fill="#f4f3f3"/>
<rect x="268.24" y="134.83" width="9.83" height="9.83" fill="#f4f3f3"/>
<rect x="278.07" y="134.83" width="9.83" height="9.83" fill="#f4f3f3"/>
<rect x="287.90" y="134.83" width="9.83" height="9.83" fill="#f4f3f3"/>
<rect x="297.73" y="134.83" width="9.83" height="9.83" fill="#f4f3f3"/>
<rect x="307.56" y="134.83" width="9.83" height="9.83" fill="#f4f3f3"/>
<rect x="317.39" y="134.83" width="9.83" height="9.83" fill="#f4f3f3"/>
<rect x="327.22" y="134.83" width="9.83" height="9.83" fill="#f4f3f3"/>
<rect x="337.05" y="134.83" width="9.83" height="9.83" fill="#f4f3f3"/>
<rect x="346.88" y="134.83" width="9.83" height="9.83" fill="#f4f3f3"/>
<rect x="356.71" y="134.83" width="9.83" height="9.83" fill="#f4f3f3"/>
<rect x="366.54" y="134.83" width="9.83" height="9.83" fill="#f4f3f3"/>
<rect x="376.37" y="134.83" width="9.83" height="9.83" fill="#f4f3f3"/>
<rect x="386.20" y="134.83" width="9.83" height="9.83" fill="#f4f3f3"/>
<rect x="396.03" y="134.83" width="9.83" height="9.83" fill="#f4f3f3"/>
<rect x="405.86" y="134.83" width="9.83" height="9.83" fill="#f7d4cb"/>
<rect x="415.69" y="134.83" width="9.83" height="9.83" fill="#f4f3f3"/>
<rect x="425.52" y="134.83" width="9.83" height="9.83" fill="#f4f3f3"/>
<rect x="238.75" y="144.66" width="9.83" height="9.83" fill="#f4f3f3"/>
<rect x="248.58" y="144.66" width="9.83" height="9.83" fill="#f4f3f3"/>
<rect x="258.41" y="144.66" width="9.83" height="9.83" fill="#3389c3"/>
<rect x="268.24" y="144.66" width="9.83" height="9.83" fill="#f4f3f3"/>
<rect x="278.07" y="144.66" width="9.83" height="9.83" fill="#f4f3f3"/>
<rect x="287.90" y="144.66" width="9.83" height="9.83" fill="#f4f3f3"/>
<rect x="297.73" y="144.66" width="9.83" height="9.83" fill="#f4f3f3"/>
<rect x="307.56" y="144.66" width="9.83" height="9.83" fill="#f4f3f3"/>
<rect x="317.39" y="144.66" width="9.83" height="9.83" fill="#f4f3f3"/>
<rect x="327.22" y="144.66" width="9.83" height="9.83" fill="#f4f3f3"/>
<rect x="337.05" y="144.66" width="9.83" height="9.83" fill="#f4f3f3"/>
<rect x="346.88" y="144.66" width="9.83" height="9.83" fill="#f4f3f3"/>
<rect x="356.71" y="144.66" width="9.83" height="9.83" fill="#f4f3f3"/>
<rect x="366.54" y="144.66" width="9.83" height="9.83" fill="#f4f3f3"/>
<rect x="376.37" y="144.66" width="9.83" height="9.83" fill="#f4f3f3"/>
<rect x="386.20" y="144.66" width="9.83" height="9.83" fill="#f4f3f3"/>
<rect x="396.03" y="144.66" width="9.83" height="9.83" fill="#f4f3f3"/>
<rect x="405.86" y="144.66" width="9.83" height="9.83" fill="#f4f3f3"/>
<rect x="415.69" y="144.66" width="9.83" height="9.83" fill="#f4f3f3"/>
<rect x="425.52" y="144.66" width="9.83" height="9.83" fill="#f4f3f3"/>
<rect x="238.75" y="154.49" width="9.83" height="9.83" fill="#f4f3f3"/>
<rect x="248.58" y="154.49" width="9.83" height="9.83" fill="#f4f3f3"/>
<rect x="258.41" y="154.49" width="9.83" height="9.83" fill="#f4f3f3"/>
<rect x="268.24" y="154.49" width="9.83" height="9.83" fill="#4467b3"/>
<rect x="278.07" y="154.49" width="9.83" height="9.83" fill="#f4f3f3"/>
<rect x="287.90" y="154.49" width="9.83" height="9.83" fill="#f4f3f3"/>
<rect x="297.73" y="154.49" width="9.83" height="9.83" fill="#f4f3f3"/>
<rect x="307.56" y="154.49" width="9.83" height="9.83" fill="#f4f3f3"/>
<rect x="317.39" y="154.49" width="9.83" height="9.83" fill="#f4f3f3"/>
<rect x="327.22" y="154.49" width="9.83" height="9.83" fill="#f4f3f3"/>
<rect x="337.05" y="154.49" width="9.83" height="9.83" fill="#f4f3f3"/>
<rect x="346.88" y="154.49" width="9.83" height="9.83" fill="#f4f3f3"/>
<rect x="356.71" y="154.49" width="9.83" height="9.83" fill="#f4f3f3"/>
<rect x="366.54" y="154.49" width="9.83" height="9.83" fill="#f7d4cb"/>
<rect x="376.37" y="154.49" width="9.83" height="9.83" fill="#f4f3f3"/>
<rect x="386.20" y="154.49" width="9.83" height="9.83" fill="#f4f3f3"/>
<rect x="396.03" y="154.49" width="9.83" height="9.83" fill="#f4f3f3"/>
<rect x="405.86" y="154.49" width="9.83" height="9.83" fill="#f4f3f3"/>
<rect x="415.69" y="154.49" width="9.83" height="9.83" fill="#f4f3f3"/>
<rect x="425.52" y="154.49" width="9.83" height="9.83" fill="#f4f3f3"/>
<rect x="238.75" y="164.32" width="9.83" height="9.83" fill="#f4f3f3"/>
<rect x="248.58" y="164.32" width="9.83" height="9.83" fill="#f4f3f3"/>
<rect x="258.41" y="164.32" width="9.83" height="9.83" fill="#f4f3f3"/>
<rect x="268.24" y="164.32" width="9.83" height="9.83" fill="#f4f3f3"/>
<rect x="278.07" y="164.32" width="9.83" height="9.83" fill="#4467b3"/>
<rect x="287.90" y="164.32" width="9.83" height="9.83" fill="#f4f3f3"/>
<rect x="297.73" y="164.32" width="9.83" height="9.83" fill="#f4f3f3"/>
<rect x="307.56" y="164.32" width="9.83" height="9.83" fill="#f4f3f3"/>
<rect x="317.39" y="164.32" width="9.83" height="9.83" fill="#f4f3f3"/>
<rect x="327.22" y="164.32" width="9.83" height="9.83" fill="#f7d4cb"/>
<rect x="337.05" y="164.32" width="9.83" height="9.83" fill="#f4f3f3"/>
<rect x="346.88" y="164.32" width="9.83" height="9.83" fill="#f4f3f3"/>
<rect x="356.71" y="164.32" width="9.83" height="9.83" fill="#f4f3f3"/>
<rect x="366.54" y="164.32" width="9.83" height="9.83" fill="#f4f3f3"/>
<rect x="376.37" y="164.32" width="9.83" height="9.83" fill="#f4f3f3"/>
<rect x="386.20" y="164.32" width="9.83" height="9.83" fill="#f4f3f3"/>
<rect x="396.03" y="164.32" width="9.83" height="9.83" fill="#f4f3f3"/>
<rect x="405.86" y="164.32" width="9.83" height="9.83" fill="#f4f3f3"/>
<rect x="415.69" y="164.32" width="9.83" height="9.83" fill="#f4f3f3"/>
<rect x="425.52" y="164.32" width="9.83" height="9.83" fill="#f4f3f3"/>
<rect x="238.75" y="174.15" width="9.83" height="9.83" fill="#f4f3f3"/>
<rect x="248.58" y="174.15" width="9.83" height="9.83" fill="#f4f3f3"/>
<rect x="258.41" y="174.15" width="9.83" height="9.83" fill="#f4f3f3"/>
<rect x="268.24" y="174.15" width="9.83" height="9.83" fill="#f4f3f3"/>
<rect x="278.07" y="174.15" width="9.83" height="9.83" fill="#f4f3f3"/>
<rect x="287.90" y="174.15" width="9.83" height="9.83" fill="#4d59a8"/>
<rect x="297.73" y="174.15" width="9.83" height="9.83" fill="#f4f3f3"/>
<rect x="307.56" y="174.15" width="9.83" height="9.83" fill="#f4f3f3"/>
<rect x="317.39" y="174.15" width="9.83" height="9.83" fill="#f4f3f3"/>
<rect x="327.22" y="174.15" width="9.83" height="9.83" fill="#f4f3f3"/>
<rect x="337.05" y="174.15" width="9.83" height="9.83" fill="#f4f3f3"/>
<rect x="346.88" y="174.15" width="9.83" height="9.83" fill="#f7d4cb"/>
<rect x="356.71" y="174.15" width="9.83" height="9.83" fill="#f4f3f3"/>
<rect x="366.54" y="174.15" width="9.83" height="9.83" fill="#f4f3f3"/>
<rect x="376.37" y="174.15" width="9.83" height="9.83" fill="#f4f3f3"/>
<rect x="386.20" y="174.15" width="9.83" height="9.83" fill="#f4f3f3"/>
<rect x="396.03" y="174.15" width="9.83" height="9.83" fill="#f4f3f3"/>
<rect x="405.86" y="174.15" width="9.83" height="9.83" fill="#f8b4a1"/>
<rect x="415.69" y="174.15" width="9.83" height="9.83" fill="#f4f3f3"/>
<rect x="425.52" y="174.15" width="9.83" height="9.83" fill="#f4f3f3"/>
<rect x="238.75" y="183.98" width="9.83" height="9.83" fill="#f4f3f3"/>
<rect x="248.58" y="183.98" width="9.83" height="9.83" fill="#f4f3f3"/>
<rect x="258.41" y="183.98" width="9.83" height="9.83" fill="#f4f3f3"/>
<rect x="268.24" y="183.98" width="9.83" height="9.83" fill="#f4f3f3"/>
<rect x="278.07" y="183.98" width="9.83" height="9.83" fill="#f4f3f3"/>
<rect x="287.90" y="183.98" width="9.83" height="9.83" fill="#f4f3f3"/>
<rect x="297.73" y="183.98" width="9.83" height="9.83" fill="#6e3a8c"/>
<rect x="307.56" y="183.98" width="9.83" height="9.83" fill="#f4f3f3"/>
<rect x="317.39" y="183.98" width="9.83" height="9.83" fill="#f4f3f3"/>
<rect x="327.22" y="183.98" width="9.83" height="9.83" fill="#f4f3f3"/>
<rect x="337.05" y="183.98" width="9.83" height="9.83" fill="#f4f3f3"/>
<rect x="346.88" y="183.98" width="9.83" height="9.83" fill="#f4f3f3"/>
<rect x="356.71" y="183.98" width="9.83" height="9.83" fill="#f4f3f3"/>
<rect x="366.54" y="183.98" width="9.83" height="9.83" fill="#f4f3f3"/>
<rect x="376.37" y="183.98" width="9.83" height="9.83" fill="#f7d4cb"/>
<rect x="386.20" y="183.98" width="9.83" height="9.83" fill="#f4f3f3"/>
<rect x="396.03" y="183.98" width="9.83" height="9.83" fill="#f4f3f3"/>
<rect x="405.86" y="183.98" width="9.83" height="9.83" fill="#f7d4cb"/>
<rect x="415.69" y="183.98" width="9.83" height="9.83" fill="#f4f3f3"/>
<rect x="425.52" y="183.98" width="9.83" height="9.83" fill="#f4f3f3"/>
<rect x="238.75" y="193.81" width="9.83" height="9.83" fill="#f4f3f3"/>
<rect x="248.58" y="193.81" width="9.83" height="9.83" fill="#f4f3f3"/>
<rect x="258.41" y="193.81" width="9.83" height="9.83" fill="#f4f3f3"/>
<rect x="268.24" y="193.81" width="9.83" height="9.83" fill="#f4f3f3"/>
<rect x="278.07" y="193.81" width="9.83" height="9.83" fill="#f4f3f3"/>
<rect x="287.90" y="193.81" width="9.83" height="9.83" fill="#f4f3f3"/>
<rect x="297.73" y="193.81" width="9.83" height="9.83" fill="#f4f3f3"/>
<rect x="307.56" y="193.81" width="9.83" height="9.83" fill="#5c4b9c"/>
<rect x="317.39" y="193.81" width="9.83" height="9.83" fill="#f46e50"/>
<rect x="327.22" y="193.81" width="9.83" height="9.83" fill="#f4f3f3"/>
<rect x="337.05" y="193.81" width="9.83" height="9.83" fill="#f4f3f3"/>
<rect x="346.88" y="193.81" width="9.83" height="9.83" fill="#f4f3f3"/>
<rect x="356.71" y="193.81" width="9.83" height="9.83" fill="#f4f3f3"/>
<rect x="366.54" y="193.81" width="9.83" height="9.83" fill="#f4f3f3"/>
<rect x="376.37" y="193.81" width="9.83" height="9.83" fill="#f4f3f3"/>
<rect x="386.20" y="193.81" width="9.83" height="9.83" fill="#f4f3f3"/>
<rect x="396.03" y="193.81" width="9.83" height="9.83" fill="#f4f3f3"/>
<rect x="405.86" y="193.81" width="9.83" height="9.83" fill="#f4f3f3"/>
<rect x="415.69" y="193.81" width="9.83" height="9.83" fill="#f4f3f3"/>
<rect x="425.52" y="193.81" width="9.83" height="9.83" fill="#f4f3f3"/>
<rect x="238.75" y="203.64" width="9.83" height="9.83" fill="#f4f3f3"/>
<rect x="248.58" y="203.64" width="9.83" height="9.83" fill="#f4f3f3"/>
<rect x="258.41" y="203.64" width="9.83" height="9.83" fill="#f4f3f3"/>
<rect x="268.24" y="203.64" width="9.83" height="9.83" fill="#f4f3f3"/>
<rect x="278.07" y="203.64" width="9.83" height="9.83" fill="#f4f3f3"/>
<rect x="287.90" y="203.64" width="9.83" height="9.83" fill="#f4f3f3"/>
<rect x="297.73" y="203.64" width="9.83" height="9.83" fill="#f7d4cb"/>
<rect x="307.56" y="203.64" width="9.83" height="9.83" fill="#f4f3f3"/>
<rect x="317.39" y="203.64" width="9.83" height="9.83" fill="#b51438"/>
<rect x="327.22" y="203.64" width="9.83" height="9.83" fill="#f4f3f3"/>
<rect x="337.05" y="203.64" width="9.83" height="9.83" fill="#f4f3f3"/>
<rect x="346.88" y="203.64" width="9.83" height="9.83" fill="#f4f3f3"/>
<rect x="356.71" y="203.64" width="9.83" height="9.83" fill="#f4f3f3"/>
<rect x="366.54" y="203.64" width="9.83" height="9.83" fill="#f4f3f3"/>
<rect x="376.37" y="203.64" width="9.83" height="9.83" fill="#f8967b"/>
<rect x="386.20" y="203.64" width="9.83" height="9.83" fill="#f4f3f3"/>
<rect x="396.03" y="203.64" width="9.83" height="9.83" fill="#f4f3f3"/>
<rect x="405.86" y="203.64" width="9.83" height="9.83" fill="#f8967b"/>
<rect x="415.69" y="203.64" width="9.83" height="9.83" fill="#f4f3f3"/>
<rect x="425.52" y="203.64" width="9.83" height="9.83" fill="#f4f3f3"/>
<rect x="238.75" y="213.47" width="9.83" height="9.83" fill="#f4f3f3"/>
<rect x="248.58" y="213.47" width="9.83" height="9.83" fill="#f4f3f3"/>
<rect x="258.41" y="213.47" width="9.83" height="9.83" fill="#f4f3f3"/>
<rect x="268.24" y="213.47" width="9.83" height="9.83" fill="#f4f3f3"/>
<rect x="278.07" y="213.47" width="9.83" height="9.83" fill="#f46e50"/>
<rect x="287.90" y="213.47" width="9.83" height="9.83" fill="#f4f3f3"/>
<rect x="297.73" y="213.47" width="9.83" height="9.83" fill="#f4f3f3"/>
<rect x="307.56" y="213.47" width="9.83" height="9.83" fill="#f4f3f3"/>
<rect x="317.39" y="213.47" width="9.83" height="9.83" fill="#f4f3f3"/>
<rect x="327.22" y="213.47" width="9.83" height="9.83" fill="#6e3a8c"/>
<rect x="337.05" y="213.47" width="9.83" height="9.83" fill="#f4f3f3"/>
<rect x="346.88" y="213.47" width="9.83" height="9.83" fill="#f4f3f3"/>
<rect x="356.71" y="213.47" width="9.83" height="9.83" fill="#f4f3f3"/>
<rect x="366.54" y="213.47" width="9.83" height="9.83" fill="#f4f3f3"/>
<rect x="376.37" y="213.47" width="9.83" height="9.83" fill="#f4f3f3"/>
<rect x="386.20" y="213.47" width="9.83" height="9.83" fill="#f4f3f3"/>
<rect x="396.03" y="213.47" width="9.83" height="9.83" fill="#f4f3f3"/>
<rect x="405.86" y="213.47" width="9.83" height="9.83" fill="#f4f3f3"/>
<rect x="415.69" y="213.47" width="9.83" height="9.83" fill="#f4f3f3"/>
<rect x="425.52" y="213.47" width="9.83" height="9.83" fill="#f4f3f3"/>
<rect x="238.75" y="223.30" width="9.83" height="9.83" fill="#f4f3f3"/>
<rect x="248.58" y="223.30" width="9.83" height="9.83" fill="#f4f3f3"/>
<rect x="258.41" y="223.30" width="9.83" height="9.83" fill="#f4f3f3"/>
<rect x="268.24" y="223.30" width="9.83" height="9.83" fill="#f4f3f3"/>
<rect x="278.07" y="223.30" width="9.83" height="9.83" fill="#f4f3f3"/>
<rect x="287.90" y="223.30" width="9.83" height="9.83" fill="#f4f3f3"/>
<rect x="297.73" y="223.30" width="9.83" height="9.83" fill="#f4f3f3"/>
<rect x="307.56" y="223.30" width="9.83" height="9.83" fill="#f4f3f3"/>
<rect x="317.39" y="223.30" width="9.83" height="9.83" fill="#f4f3f3"/>
<rect x="327.22" y="223.30" width="9.83" height="9.83" fill="#f4f3f3"/>
<rect x="337.05" y="223.30" width="9.83" height="9.83" fill="#3389c3"/>
<rect x="346.88" y="223.30" width="9.83" height="9.83" fill="#f4f3f3"/>
<rect x="356.71" y="223.30" width="9.83" height="9.83" fill="#f4f3f3"/>
<rect x="366.54" y="223.30" width="9.83" height="9.83" fill="#f4f3f3"/>
<rect x="376.37" y="223.30" width="9.83" height="9.83" fill="#f4f3f3"/>
<rect x="386.20" y="223.30" width="9.83" height="9.83" fill="#f4f3f3"/>
<rect x="396.03" y="223.30" width="9.83" height="9.83" fill="#f4f3f3"/>
<rect x="405.86" y="223.30" width="9.83" height="9.83" fill="#f4f3f3"/>
<rect x="415.69" y="223.30" width="9.83" height="9.83" fill="#f4f3f3"/>
<rect x="425.52" y="223.30" width="9.83" height="9.83" fill="#f4f3f3"/>
<rect x="238.75" y="233.13" width="9.83" height="9.83" fill="#f4f3f3"/>
<rect x="248.58" y="233.13" width="9.83" height="9.83" fill="#f4f3f3"/>
<rect x="258.41" y="233.13" width="9.83" height="9.83" fill="#f4f3f3"/>
<rect x="268.24" y="233.13" width="9.83" height="9.83" fill="#f4f3f3"/>
<rect x="278.07" y="233.13" width="9.83" height="9.83" fill="#f4f3f3"/>
<rect x="287.90" y="233.13" width="9.83" height="9.83" fill="#f4f3f3"/>
<rect x="297.73" y="233.13" width="9.83" height="9.83" fill="#f4f3f3"/>
<rect x="307.56" y="233.13" width="9.83" height="9.83" fill="#f4f3f3"/>
<rect x="317.39" y="233.13" width="9.83" height="9.83" fill="#f4f3f3"/>
<rect x="327.22" y="233.13" width="9.83" height="9.83" fill="#f4f3f3"/>
<rect x="337.05" y="233.13" width="9.83" height="9.83" fill="#f4f3f3"/>
<rect x="346.88" y="233.13" width="9.83" height="9.83" fill="#3389c3"/>
<rect x="356.71" y="233.13" width="9.83" height="9.83" fill="#f4f3f3"/>
<rect x="366.54" y="233.13" width="9.83" height="9.83" fill="#f4f3f3"/>
<rect x="376.37" y="233.13" width="9.83" height="9.83" fill="#f4f3f3"/>
<rect x="386.20" y="233.13" width="9.83" height="9.83" fill="#f4f3f3"/>
<rect x="396.03" y="233.13" width="9.83" height="9.83" fill="#f4f3f3"/>
<rect x="405.86" y="233.13" width="9.83" height="9.83" fill="#f4f3f3"/>
<rect x="415.69" y="233.13" width="9.83" height="9.83" fill="#f4f3f3"/>
<rect x="425.52" y="233.13" width="9.83" height="9.83" fill="#f4f3f3"/>
<rect x="238.75" y="242.96" width="9.83" height="9.83" fill="#f4f3f3"/>
<rect x="248.58" y="242.96" width="9.83" height="9.83" fill="#f4f3f3"/>
<rect x="258.41" y="242.96" width="9.83" height="9.83" fill="#f4f3f3"/>
<rect x="268.24" y="242.96" width="9.83" height="9.83" fill="#f4f3f3"/>
<rect x="278.07" y="242.96" width="9.83" height="9.83" fill="#f4f3f3"/>
<rect x="287.90" y="242.96" width="9.83" height="9.83" fill="#f4f3f3"/>
<rect x="297.73" y="242.96" width="9.83" height="9.83" fill="#f4f3f3"/>
<rect x="307.56" y="242.96" width="9.83" height="9.83" fill="#f4f3f3"/>
<rect x="317.39" y="242.96" width="9.83" height="9.83" fill="#f8b4a1"/>
<rect x="327.22" y="242.96" width="9.83" height="9.83" fill="#f4f3f3"/>
<rect x="337.05" y="242.96" width="9.83" height="9.83" fill="#f4f3f3"/>
<rect x="346.88" y="242.96" width="9.83" height="9.83" fill="#f4f3f3"/>
<rect x="356.71" y="242.96" width="9.83" height="9.83" fill="#4467b3"/>
<rect x="366.54" y="242.96" width="9.83" height="9.83" fill="#f4f3f3"/>
<rect x="376.37" y="242.96" width="9.83" height="9.83" fill="#f4f3f3"/>
<rect x="386.20" y="242.96" width="9.83" height="9.83" fill="#f4f3f3"/>
<rect x="396.03" y="242.96" width="9.83" height="9.83" fill="#f4f3f3"/>
<rect x="405.86" y="242.96" width="9.83" height="9.83" fill="#f4f3f3"/>
<rect x="415.69" y="242.96" width="9.83" height="9.83" fill="#f4f3f3"/>
<rect x="425.52" y="242.96" width="9.83" height="9.83" fill="#f4f3f3"/>
<rect x="238.75" y="252.79" width="9.83" height="9.83" fill="#f4f3f3"/>
<rect x="248.58" y="252.79" width="9.83" height="9.83" fill="#f4f3f3"/>
<rect x="258.41" y="252.79" width="9.83" height="9.83" fill="#f4f3f3"/>
<rect x="268.24" y="252.79" width="9.83" height="9.83" fill="#f7d4cb"/>
<rect x="278.07" y="252.79" width="9.83" height="9.83" fill="#f4f3f3"/>
<rect x="287.90" y="252.79" width="9.83" height="9.83" fill="#f4f3f3"/>
<rect x="297.73" y="252.79" width="9.83" height="9.83" fill="#f8967b"/>
<rect x="307.56" y="252.79" width="9.83" height="9.83" fill="#f4f3f3"/>
<rect x="317.39" y="252.79" width="9.83" height="9.83" fill="#f4f3f3"/>
<rect x="327.22" y="252.79" width="9.83" height="9.83" fill="#f7d4cb"/>
<rect x="337.05" y="252.79" width="9.83" height="9.83" fill="#f4f3f3"/>
<rect x="346.88" y="252.79" width="9.83" height="9.83" fill="#f4f3f3"/>
<rect x="356.71" y="252.79" width="9.83" height="9.83" fill="#f4f3f3"/>
<rect x="366.54" y="252.79" width="9.83" height="9.83" fill="#c81c2e"/>
<rect x="376.37" y="252.79" width="9.83" height="9.83" fill="#f7d4cb"/>
<rect x="386.20" y="252.79" width="9.83" height="9.83" fill="#f4f3f3"/>
<rect x="396.03" y="252.79" width="9.83" height="9.83" fill="#f4f3f3"/>
<rect x="405.86" y="252.79" width="9.83" height="9.83" fill="#f8b4a1"/>
<rect x="415.69" y="252.79" width="9.83" height="9.83" fill="#f4f3f3"/>
<rect x="425.52" y="252.79" width="9.83" height="9.83" fill="#f4f3f3"/>
<rect x="238.75" y="262.62" width="9.83" height="9.83" fill="#f4f3f3"/>
<rect x="248.58" y="262.62" width="9.83" height="9.83" fill="#f4f3f3"/>
<rect x="258.41" y="262.62" width="9.83" height="9.83" fill="#f4f3f3"/>
<rect x="268.24" y="262.62" width="9.83" height="9.83" fill="#f4f3f3"/>
<rect x="278.07" y="262.62" width="9.83" height="9.83" fill="#f4f3f3"/>
<rect x="287.90" y="262.62" width="9.83" height="9.83" fill="#f4f3f3"/>
<rect x="297.73" y="262.62" width="9.83" height="9.83" fill="#f8967b"/>
<rect x="307.56" y="262.62" width="9.83" height="9.83" fill="#f4f3f3"/>
<rect x="317.39" y="262.62" width="9.83" height="9.83" fill="#f4f3f3"/>
<rect x="327.22" y="262.62" width="9.83" height="9.83" fill="#f4f3f3"/>
<rect x="337.05" y="262.62" width="9.83" height="9.83" fill="#f4f3f3"/>
<rect x="346.88" y="262.62" width="9.83" height="9.83" fill="#f4f3f3"/>
<rect x="356.71" y="262.62" width="9.83" height="9.83" fill="#f4f3f3"/>
<rect x="366.54" y="262.62" width="9.83" height="9.83" fill="#f7d4cb"/>
<rect x="376.37" y="262.62" width="9.83" height="9.83" fill="#c81c2e"/>
<rect x="386.20" y="262.62" width="9.83" height="9.83" fill="#f46e50"/>
<rect x="396.03" y="262.62" width="9.83" height="9.83" fill="#f4f3f3"/>
<rect x="405.86" y="262.62" width="9.83" height="9.83" fill="#f7d4cb"/>
<rect x="415.69" y="262.62" width="9.83" height="9.83" fill="#f4f3f3"/>
<rect x="425.52" y="262.62" width="9.83" height="9.83" fill="#f4f3f3"/>
<rect x="238.75" y="272.45" width="9.83" height="9.83" fill="#f4f3f3"/>
<rect x="248.58" y="272.45" width="9.83" height="9.83" fill="#f4f3f3"/>
<rect x="258.41" y="272.45" width="9.83" height="9.83" fill="#f4f3f3"/>
<rect x="268.24" y="272.45" width="9.83" height="9.83" fill="#f4f3f3"/>
<rect x="278.07" y="272.45" width="9.83" height="9.83" fill="#f4f3f3"/>
<rect x="287.90" y="272.45" width="9.83" height="9.83" fill="#f4f3f3"/>
<rect x="297.73" y="272.45" width="9.83" height="9.83" fill="#f4f3f3"/>
<rect x="307.56" y="272.45" width="9.83" height="9.83" fill="#f4f3f3"/>
<rect x="317.39" y="272.45" width="9.83" height="9.83" fill="#f4f3f3"/>
<rect x="327.22" y="272.45" width="9.83" height="9.83" fill="#f4f3f3"/>
<rect x="337.05" y="272.45" width="9.83" height="9.83" fill="#f4f3f3"/>
<rect x="346.88" y="272.45" width="9.83" height="9.83" fill="#f4f3f3"/>
<rect x="356.71" y="272.45" width="9.83" height="9.83" fill="#f4f3f3"/>
<rect x="366.54" y="272.45" width="9.83" height="9.83" fill="#f4f3f3"/>
<rect x="376.37" y="272.45" width="9.83" height="9.83" fill="#f4f3f3"/>
<rect x="386.20" y="272.45" width="9.83" height="9.83" fill="#5c4b9c"/>
<rect x="396.03" y="272.45" width="9.83" height="9.83" fill="#f4f3f3"/>
<rect x="405.86" y="272.45" width="9.83" height="9.83" fill="#f4f3f3"/>
<rect x="415.69" y="272.45" width="9.83" height="9.83" fill="#f8967b"/>
<rect x="425.52" y="272.45" width="9.83" height="9.83" fill="#f4f3f3"/>
<rect x="238.75" y="282.28" width="9.83" height="9.83" fill="#f4f3f3"/>
<rect x="248.58" y="282.28" width="9.83" height="9.83" fill="#f4f3f3"/>
<rect x="258.41" y="282.28" width="9.83" height="9.83" fill="#f4f3f3"/>
<rect x="268.24" y="282.28" width="9.83" height="9.83" fill="#f4f3f3"/>
<rect x="278.07" y="282.28" width="9.83" height="9.83" fill="#f4f3f3"/>
<rect x="287.90" y="282.28" width="9.83" height="9.83" fill="#f4f3f3"/>
<rect x="297.73" y="282.28" width="9.83" height="9.83" fill="#f4f3f3"/>
<rect x="307.56" y="282.28" width="9.83" height="9.83" fill="#f4f3f3"/>
<rect x="317.39" y="282.28" width="9.83" height="9.83" fill="#f4f3f3"/>
<rect x="327.22" y="282.28" width="9.83" height="9.83" fill="#f4f3f3"/>
<rect x="337.05" y="282.28" width="9.83" height="9.83" fill="#f4f3f3"/>
<rect x="346.88" y="282.28" width="9.83" height="9.83" fill="#f4f3f3"/>
<rect x="356.71" y="282.28" width="9.83" height="9.83" fill="#f4f3f3"/>
<rect x="366.54" y="282.28" width="9.83" height="9.83" fill="#f4f3f3"/>
<rect x="376.37" y="282.28" width="9.83" height="9.83" fill="#f4f3f3"/>
<rect x="386.20" y="282.28" width="9.83" height="9.83" fill="#f4f3f3"/>
<rect x="396.03" y="282.28" width="9.83" height="9.83" fill="#3389c3"/>
<rect x="405.86" y="282.28" width="9.83" height="9.83" fill="#f4f3f3"/>
<rect x="415.69" y="282.28" width="9.83" height="9.83" fill="#f4f3f3"/>
<rect x="425.52" y="282.28" width="9.83" height="9.83" fill="#f4f3f3"/>
<rect x="238.75" y="292.11" width="9.83" height="9.83" fill="#f4f3f3"/>
<rect x="248.58" y="292.11" width="9.83" height="9.83" fill="#f4f3f3"/>
<rect x="258.41" y="292.11" width="9.83" height="9.83" fill="#f4f3f3"/>
<rect x="268.24" y="292.11" width="9.83" height="9.83" fill="#f7d4cb"/>
<rect x="278.07" y="292.11" width="9.83" height="9.83" fill="#f4f3f3"/>
<rect x="287.90" y="292.11" width="9.83" height="9.83" fill="#f4f3f3"/>
<rect x="297.73" y="292.11" width="9.83" height="9.83" fill="#f8b4a1"/>
<rect x="307.56" y="292.11" width="9.83" height="9.83" fill="#f4f3f3"/>
<rect x="317.39" y="292.11" width="9.83" height="9.83" fill="#f8b4a1"/>
<rect x="327.22" y="292.11" width="9.83" height="9.83" fill="#f4f3f3"/>
<rect x="337.05" y="292.11" width="9.83" height="9.83" fill="#f4f3f3"/>
<rect x="346.88" y="292.11" width="9.83" height="9.83" fill="#f4f3f3"/>
<rect x="356.71" y="292.11" width="9.83" height="9.83" fill="#f4f3f3"/>
<rect x="366.54" y="292.11" width="9.83" height="9.83" fill="#f7d4cb"/>
<rect x="376.37" y="292.11" width="9.83" height="9.83" fill="#f4f3f3"/>
<rect x="386.20" y="292.11" width="9.83" height="9.83" fill="#f4f3f3"/>
<rect x="396.03" y="292.11" width="9.83" height="9.83" fill="#f4f3f3"/>
<rect x="405.86" y="292.11" width="9.83" height="9.83" fill="#b51438"/>
<rect x="415.69" y="292.11" width="9.83" height="9.83" fill="#f4f3f3"/>
<rect x="425.52" y="292.11" width="9.83" height="9.83" fill="#f4f3f3"/>
<rect x="238.75" y="301.94" width="9.83" height="9.83" fill="#f4f3f3"/>
<rect x="248.58" y="301.94" width="9.83" height="9.83" fill="#f4f3f3"/>
<rect x="258.41" y="301.94" width="9.83" height="9.83" fill="#f4f3f3"/>
<rect x="268.24" y="301.94" width="9.83" height="9.83" fill="#f4f3f3"/>
<rect x="278.07" y="301.94" width="9.83" height="9.83" fill="#f4f3f3"/>
<rect x="287.90" y="301.94" width="9.83" height="9.83" fill="#f4f3f3"/>
<rect x="297.73" y="301.94" width="9.83" height="9.83" fill="#f4f3f3"/>
<rect x="307.56" y="301.94" width="9.83" height="9.83" fill="#f4f3f3"/>
<rect x="317.39" y="301.94" width="9.83" height="9.83" fill="#f4f3f3"/>
<rect x="327.22" y="301.94" width="9.83" height="9.83" fill="#f4f3f3"/>
<rect x="337.05" y="301.94" width="9.83" height="9.83" fill="#f4f3f3"/>
<rect x="346.88" y="301.94" width="9.83" height="9.83" fill="#f4f3f3"/>
<rect x="356.71" y="301.94" width="9.83" height="9.83" fill="#f4f3f3"/>
<rect x="366.54" y="301.94" width="9.83" height="9.83" fill="#f4f3f3"/>
<rect x="376.37" y="301.94" width="9.83" height="9.83" fill="#f4f3f3"/>
<rect x="386.20" y="301.94" width="9.83" height="9.83" fill="#f4f3f3"/>
<rect x="396.03" y="301.94" width="9.83" height="9.83" fill="#f4f3f3"/>
<rect x="405.86" y="301.94" width="9.83" height="9.83" fill="#f4f3f3"/>
<rect x="415.69" y="301.94" width="9.83" height="9.83" fill="#3389c3"/>
<rect x="425.52" y="301.94" width="9.83" height="9.83" fill="#f4f3f3"/>
<rect x="238.75" y="311.77" width="9.83" height="9.83" fill="#f4f3f3"/>
<rect x="248.58" y="311.77" width="9.83" height="9.83" fill="#f4f3f3"/>
<rect x="258.41" y="311.77" width="9.83" height="9.83" fill="#f4f3f3"/>
<rect x="268.24" y="311.77" width="9.83" height="9.83" fill="#f4f3f3"/>
<rect x="278.07" y="311.77" width="9.83" height="9.83" fill="#f4f3f3"/>
<rect x="287.90" y="311.77" width="9.83" height="9.83" fill="#f4f3f3"/>
<rect x="297.73" y="311.77" width="9.83" height="9.83" fill="#f4f3f3"/>
<rect x="307.56" y="311.77" width="9.83" height="9.83" fill="#f8967b"/>
<rect x="317.39" y="311.77" width="9.83" height="9.83" fill="#f4f3f3"/>
<rect x="327.22" y="311.77" width="9.83" height="9.83" fill="#f4f3f3"/>
<rect x="337.05" y="311.77" width="9.83" height="9.83" fill="#f4f3f3"/>
<rect x="346.88" y="311.77" width="9.83" height="9.83" fill="#f4f3f3"/>
<rect x="356.71" y="311.77" width="9.83" height="9.83" fill="#f4f3f3"/>
<rect x="366.54" y="311.77" width="9.83" height="9.83" fill="#f4f3f3"/>
<rect x="376.37" y="311.77" width="9.83" height="9.83" fill="#f4f3f3"/>
<rect x="386.20" y="311.77" width="9.83" height="9.83" fill="#f4f3f3"/>
<rect x="396.03" y="311.77" width="9.83" height="9.83" fill="#f4f3f3"/>
<rect x="405.86" y="311.77" width="9.83" height="9.83" fill="#f4f3f3"/>
<rect x="415.69" y="311.77" width="9.83" height="9.83" fill="#f4f3f3"/>
<rect x="425.52" y="311.77" width="9.83" height="9.83" fill="#5c4b9c"/>
</g>
<g font-size="3.2" text-anchor="middle" fill="#444444" stroke="#444444" stroke-width="0.04">
<text x="253.5" y="131.4">0.0</text>
<text x="263.3" y="131.4">0.0</text>
<text x="273.2" y="131.4">0.0</text>
<text x="283.0" y="131.4">0.0</text>
<text x="292.8" y="131.4">0.0</text>
<text x="302.6" y="131.4">0.0</text>
<text x="312.5" y="131.4">0.0</text>
<text x="322.3" y="131.4">0.0</text>
<text x="332.1" y="131.4">0.0</text>
<text x="342.0" y="131.4">0.0</text>
<text x="351.8" y="131.4">0.0</text>
<text x="361.6" y="131.4">0.0</text>
<text x="371.5" y="131.4">0.0</text>
<text x="381.3" y="131.4">0.0</text>
<text x="391.1" y="131.4">0.0</text>
<text x="400.9" y="131.4">2.9</text>
<text x="410.8" y="131.4">0.0</text>
<text x="420.6" y="131.4">0.0</text>
<text x="430.4" y="131.4">0.0</text>
<text x="243.7" y="141.2">0.0</text>
<text x="263.3" y="141.2">0.0</text>
<text x="273.2" y="141.2">3.3</text>
<text x="283.0" y="141.2">0.0</text>
<text x="292.8" y="141.2">0.0</text>
<text x="302.6" y="141.2">1.1</text>
<text x="312.5" y="141.2">0.4</text>
<text x="322.3" y="141.2">0.0</text>
<text x="332.1" y="141.2">0.4</text>
<text x="342.0" y="141.2">0.0</text>
<text x="351.8" y="141.2">0.0</text>
<text x="361.6" y="141.2">0.0</text>
<text x="371.5" y="141.2">1.8</text>
<text x="381.3" y="141.2">0.0</text>
<text x="391.1" y="141.2">0.0</text>
<text x="400.9" y="141.2">0.0</text>
<text x="410.8" y="141.2">5.0</text>
<text x="420.6" y="141.2">0.0</text>
<text x="430.4" y="141.2">0.0</text>
<text x="243.7" y="151.0">0.0</text>
<text x="253.5" y="151.0">0.0</text>
<text x="273.2" y="151.0">0.0</text>
<text x="283.0" y="151.0">0.0</text>
<text x="292.8" y="151.0">0.0</text>
<text x="302.6" y="151.0">0.0</text>
<text x="312.5" y="151.0">0.0</text>
<text x="322.3" y="151.0">0.0</text>
<text x="332.1" y="151.0">0.0</text>
<text x="342.0" y="151.0">0.0</text>
<text x="351.8" y="151.0">0.0</text>
<text x="361.6" y="151.0">0.0</text>
<text x="371.5" y="151.0">0.0</text>
<text x="381.3" y="151.0">0.0</text>
<text x="391.1" y="151.0">0.0</text>
<text x="400.9" y="151.0">0.0</text>
<text x="410.8" y="151.0">0.0</text>
<text x="420.6" y="151.0">0.0</text>
<text x="430.4" y="151.0">0.0</text>
<text x="243.7" y="160.9">0.0</text>
<text x="253.5" y="160.9">0.4</text>
<text x="263.3" y="160.9">0.0</text>
<text x="283.0" y="160.9">0.0</text>
<text x="292.8" y="160.9">0.0</text>
<text x="302.6" y="160.9">0.4</text>
<text x="312.5" y="160.9">0.0</text>
<text x="322.3" y="160.9">0.4</text>
<text x="332.1" y="160.9">0.0</text>
<text x="342.0" y="160.9">0.0</text>
<text x="351.8" y="160.9">0.0</text>
<text x="361.6" y="160.9">0.0</text>
<text x="371.5" y="160.9">6.8</text>
<text x="381.3" y="160.9">0.0</text>
<text x="391.1" y="160.9">0.0</text>
<text x="400.9" y="160.9">0.0</text>
<text x="410.8" y="160.9">4.6</text>
<text x="420.6" y="160.9">0.0</text>
<text x="430.4" y="160.9">0.0</text>
<text x="243.7" y="170.7">0.0</text>
<text x="253.5" y="170.7">0.0</text>
<text x="263.3" y="170.7">0.0</text>
<text x="273.2" y="170.7">0.7</text>
<text x="292.8" y="170.7">0.0</text>
<text x="302.6" y="170.7">0.0</text>
<text x="312.5" y="170.7">0.0</text>
<text x="322.3" y="170.7">0.0</text>
<text x="332.1" y="170.7">9.6</text>
<text x="342.0" y="170.7">0.0</text>
<text x="351.8" y="170.7">0.0</text>
<text x="361.6" y="170.7">0.0</text>
<text x="371.5" y="170.7">0.0</text>
<text x="381.3" y="170.7">0.0</text>
<text x="391.1" y="170.7">0.0</text>
<text x="400.9" y="170.7">0.0</text>
<text x="410.8" y="170.7">0.4</text>
<text x="420.6" y="170.7">0.0</text>
<text x="430.4" y="170.7">0.0</text>
<text x="243.7" y="180.5">0.0</text>
<text x="253.5" y="180.5">0.0</text>
<text x="263.3" y="180.5">0.0</text>
<text x="273.2" y="180.5">0.0</text>
<text x="283.0" y="180.5">0.0</text>
<text x="302.6" y="180.5">0.4</text>
<text x="312.5" y="180.5">0.0</text>
<text x="322.3" y="180.5">0.4</text>
<text x="332.1" y="180.5">1.1</text>
<text x="342.0" y="180.5">0.0</text>
<text x="351.8" y="180.5">5.6</text>
<text x="361.6" y="180.5">0.0</text>
<text x="371.5" y="180.5">0.4</text>
<text x="381.3" y="180.5">0.0</text>
<text x="391.1" y="180.5">0.0</text>
<text x="400.9" y="180.5">0.0</text>
<text x="410.8" y="180.5">13.8</text>
<text x="420.6" y="180.5">0.0</text>
<text x="430.4" y="180.5">0.0</text>
<text x="243.7" y="190.3">0.0</text>
<text x="253.5" y="190.3">1.8</text>
<text x="263.3" y="190.3">0.0</text>
<text x="273.2" y="190.3">0.0</text>
<text x="283.0" y="190.3">0.0</text>
<text x="292.8" y="190.3">0.0</text>
<text x="312.5" y="190.3">0.0</text>
<text x="322.3" y="190.3">4.3</text>
<text x="332.1" y="190.3">0.0</text>
<text x="342.0" y="190.3">0.0</text>
<text x="351.8" y="190.3">0.0</text>
<text x="361.6" y="190.3">0.0</text>
<text x="371.5" y="190.3">4.8</text>
<text x="381.3" y="190.3">6.1</text>
<text x="391.1" y="190.3">0.0</text>
<text x="400.9" y="190.3">0.0</text>
<text x="410.8" y="190.3">8.8</text>
<text x="420.6" y="190.3">0.0</text>
<text x="430.4" y="190.3">0.0</text>
<text x="243.7" y="200.2">0.0</text>
<text x="253.5" y="200.2">0.0</text>
<text x="263.3" y="200.2">0.0</text>
<text x="273.2" y="200.2">0.0</text>
<text x="283.0" y="200.2">0.0</text>
<text x="292.8" y="200.2">0.0</text>
<text x="302.6" y="200.2">0.0</text>
<text x="332.1" y="200.2">0.0</text>
<text x="342.0" y="200.2">0.0</text>
<text x="351.8" y="200.2">0.0</text>
<text x="361.6" y="200.2">0.0</text>
<text x="371.5" y="200.2">0.0</text>
<text x="381.3" y="200.2">0.0</text>
<text x="391.1" y="200.2">0.0</text>
<text x="400.9" y="200.2">0.0</text>
<text x="410.8" y="200.2">0.0</text>
<text x="420.6" y="200.2">0.0</text>
<text x="430.4" y="200.2">0.4</text>
<text x="243.7" y="210.0">0.0</text>
<text x="253.5" y="210.0">1.1</text>
<text x="263.3" y="210.0">0.0</text>
<text x="273.2" y="210.0">1.8</text>
<text x="283.0" y="210.0">0.0</text>
<text x="292.8" y="210.0">1.4</text>
<text x="302.6" y="210.0">6.8</text>
<text x="312.5" y="210.0">3.2</text>
<text x="332.1" y="210.0">0.0</text>
<text x="342.0" y="210.0">0.0</text>
<text x="351.8" y="210.0">0.4</text>
<text x="361.6" y="210.0">1.1</text>
<text x="371.5" y="210.0">0.0</text>
<text x="381.3" y="210.0">17.5</text>
<text x="391.1" y="210.0">0.0</text>
<text x="400.9" y="210.0">0.0</text>
<text x="410.8" y="210.0">16.1</text>
<text x="420.6" y="210.0">0.0</text>
<text x="430.4" y="210.0">0.0</text>
<text x="243.7" y="219.8">0.0</text>
<text x="253.5" y="219.8">0.4</text>
<text x="263.3" y="219.8">0.0</text>
<text x="273.2" y="219.8">0.0</text>
<text x="292.8" y="219.8">1.4</text>
<text x="302.6" y="219.8">0.7</text>
<text x="312.5" y="219.8">0.0</text>
<text x="322.3" y="219.8">0.0</text>
<text x="342.0" y="219.8">0.0</text>
<text x="351.8" y="219.8">0.0</text>
<text x="361.6" y="219.8">0.0</text>
<text x="371.5" y="219.8">2.9</text>
<text x="381.3" y="219.8">0.0</text>
<text x="391.1" y="219.8">0.0</text>
<text x="400.9" y="219.8">0.0</text>
<text x="410.8" y="219.8">0.4</text>
<text x="420.6" y="219.8">0.0</text>
<text x="430.4" y="219.8">0.0</text>
<text x="243.7" y="229.7">0.0</text>
<text x="253.5" y="229.7">0.0</text>
<text x="263.3" y="229.7">0.4</text>
<text x="273.2" y="229.7">0.0</text>
<text x="283.0" y="229.7">0.0</text>
<text x="292.8" y="229.7">0.0</text>
<text x="302.6" y="229.7">0.0</text>
<text x="312.5" y="229.7">0.0</text>
<text x="322.3" y="229.7">0.0</text>
<text x="332.1" y="229.7">0.0</text>
<text x="351.8" y="229.7">0.0</text>
<text x="361.6" y="229.7">0.0</text>
<text x="371.5" y="229.7">0.0</text>
<text x="381.3" y="229.7">0.0</text>
<text x="391.1" y="229.7">0.0</text>
<text x="400.9" y="229.7">0.0</text>
<text x="410.8" y="229.7">0.0</text>
<text x="420.6" y="229.7">0.0</text>
<text x="430.4" y="229.7">0.0</text>
<text x="243.7" y="239.5">0.0</text>
<text x="253.5" y="239.5">0.0</text>
<text x="263.3" y="239.5">0.0</text>
<text x="273.2" y="239.5">0.0</text>
<text x="283.0" y="239.5">0.0</text>
<text x="292.8" y="239.5">3.2</text>
<text x="302.6" y="239.5">0.0</text>
<text x="312.5" y="239.5">0.0</text>
<text x="322.3" y="239.5">0.0</text>
<text x="332.1" y="239.5">0.0</text>
<text x="342.0" y="239.5">0.0</text>
<text x="361.6" y="239.5">0.0</text>
<text x="371.5" y="239.5">0.0</text>
<text x="381.3" y="239.5">0.0</text>
<text x="391.1" y="239.5">0.0</text>
<text x="400.9" y="239.5">0.0</text>
<text x="410.8" y="239.5">0.0</text>
<text x="420.6" y="239.5">0.0</text>
<text x="430.4" y="239.5">0.0</text>
<text x="243.7" y="249.3">0.0</text>
<text x="253.5" y="249.3">1.8</text>
<text x="263.3" y="249.3">0.0</text>
<text x="273.2" y="249.3">0.0</text>
<text x="283.0" y="249.3">0.0</text>
<text x="292.8" y="249.3">0.0</text>
<text x="302.6" y="249.3">0.0</text>
<text x="312.5" y="249.3">0.0</text>
<text x="322.3" y="249.3">10.0</text>
<text x="332.1" y="249.3">0.0</text>
<text x="342.0" y="249.3">0.0</text>
<text x="351.8" y="249.3">2.8</text>
<text x="371.5" y="249.3">0.4</text>
<text x="381.3" y="249.3">0.0</text>
<text x="391.1" y="249.3">0.0</text>
<text x="400.9" y="249.3">0.0</text>
<text x="410.8" y="249.3">0.0</text>
<text x="420.6" y="249.3">0.0</text>
<text x="430.4" y="249.3">0.0</text>
<text x="243.7" y="259.2">0.0</text>
<text x="253.5" y="259.2">0.7</text>
<text x="263.3" y="259.2">0.0</text>
<text x="273.2" y="259.2">8.2</text>
<text x="283.0" y="259.2">1.4</text>
<text x="292.8" y="259.2">1.1</text>
<text x="302.6" y="259.2">15.4</text>
<text x="312.5" y="259.2">0.0</text>
<text x="322.3" y="259.2">1.1</text>
<text x="332.1" y="259.2">6.1</text>
<text x="342.0" y="259.2">0.0</text>
<text x="351.8" y="259.2">0.0</text>
<text x="361.6" y="259.2">0.0</text>
<text x="381.3" y="259.2">8.7</text>
<text x="391.1" y="259.2">0.0</text>
<text x="400.9" y="259.2">0.0</text>
<text x="410.8" y="259.2">10.7</text>
<text x="420.6" y="259.2">0.0</text>
<text x="430.4" y="259.2">0.0</text>
<text x="243.7" y="269.0">0.0</text>
<text x="253.5" y="269.0">0.4</text>
<text x="263.3" y="269.0">0.0</text>
<text x="273.2" y="269.0">0.0</text>
<text x="283.0" y="269.0">0.0</text>
<text x="292.8" y="269.0">0.0</text>
<text x="302.6" y="269.0">15.7</text>
<text x="312.5" y="269.0">0.4</text>
<text x="322.3" y="269.0">1.1</text>
<text x="332.1" y="269.0">0.0</text>
<text x="342.0" y="269.0">0.0</text>
<text x="351.8" y="269.0">0.0</text>
<text x="361.6" y="269.0">0.0</text>
<text x="371.5" y="269.0">7.9</text>
<text x="400.9" y="269.0">0.0</text>
<text x="410.8" y="269.0">5.0</text>
<text x="420.6" y="269.0">0.0</text>
<text x="430.4" y="269.0">0.0</text>
<text x="243.7" y="278.8">0.0</text>
<text x="253.5" y="278.8">0.0</text>
<text x="263.3" y="278.8">0.0</text>
<text x="273.2" y="278.8">0.0</text>
<text x="283.0" y="278.8">0.0</text>
<text x="292.8" y="278.8">0.0</text>
<text x="302.6" y="278.8">0.0</text>
<text x="312.5" y="278.8">0.0</text>
<text x="322.3" y="278.8">0.0</text>
<text x="332.1" y="278.8">0.0</text>
<text x="342.0" y="278.8">0.0</text>
<text x="351.8" y="278.8">0.0</text>
<text x="361.6" y="278.8">4.3</text>
<text x="371.5" y="278.8">0.0</text>
<text x="381.3" y="278.8">0.7</text>
<text x="400.9" y="278.8">0.0</text>
<text x="410.8" y="278.8">0.0</text>
<text x="420.6" y="278.8">15.7</text>
<text x="430.4" y="278.8">0.0</text>
<text x="243.7" y="288.6">0.0</text>
<text x="253.5" y="288.6">0.0</text>
<text x="263.3" y="288.6">0.0</text>
<text x="273.2" y="288.6">0.0</text>
<text x="283.0" y="288.6">0.0</text>
<text x="292.8" y="288.6">0.0</text>
<text x="302.6" y="288.6">0.0</text>
<text x="312.5" y="288.6">0.0</text>
<text x="322.3" y="288.6">0.0</text>
<text x="332.1" y="288.6">0.0</text>
<text x="342.0" y="288.6">0.0</text>
<text x="351.8" y="288.6">0.0</text>
<text x="361.6" y="288.6">0.0</text>
<text x="371.5" y="288.6">0.0</text>
<text x="381.3" y="288.6">0.0</text>
<text x="391.1" y="288.6">0.0</text>
<text x="410.8" y="288.6">0.0</text>
<text x="420.6" y="288.6">0.0</text>
<text x="430.4" y="288.6">0.0</text>
<text x="243.7" y="298.5">0.0</text>
<text x="253.5" y="298.5">1.8</text>
<text x="263.3" y="298.5">0.0</text>
<text x="273.2" y="298.5">6.4</text>
<text x="283.0" y="298.5">0.0</text>
<text x="292.8" y="298.5">3.2</text>
<text x="302.6" y="298.5">14.3</text>
<text x="312.5" y="298.5">0.0</text>
<text x="322.3" y="298.5">12.1</text>
<text x="332.1" y="298.5">0.0</text>
<text x="342.0" y="298.5">0.0</text>
<text x="351.8" y="298.5">0.0</text>
<text x="361.6" y="298.5">0.0</text>
<text x="371.5" y="298.5">6.1</text>
<text x="381.3" y="298.5">2.8</text>
<text x="391.1" y="298.5">0.0</text>
<text x="400.9" y="298.5">0.0</text>
<text x="420.6" y="298.5">0.0</text>
<text x="430.4" y="298.5">0.0</text>
<text x="243.7" y="308.3">0.0</text>
<text x="253.5" y="308.3">0.0</text>
<text x="263.3" y="308.3">0.0</text>
<text x="273.2" y="308.3">0.0</text>
<text x="283.0" y="308.3">0.0</text>
<text x="292.8" y="308.3">0.0</text>
<text x="302.6" y="308.3">0.0</text>
<text x="312.5" y="308.3">0.0</text>
<text x="322.3" y="308.3">0.0</text>
<text x="332.1" y="308.3">0.0</text>
<text x="342.0" y="308.3">0.0</text>
<text x="351.8" y="308.3">0.0</text>
<text x="361.6" y="308.3">0.0</text>
<text x="371.5" y="308.3">0.0</text>
<text x="381.3" y="308.3">0.0</text>
<text x="391.1" y="308.3">0.0</text>
<text x="400.9" y="308.3">0.0</text>
<text x="410.8" y="308.3">0.0</text>
<text x="430.4" y="308.3">0.0</text>
<text x="243.7" y="318.1">0.0</text>
<text x="253.5" y="318.1">0.0</text>
<text x="263.3" y="318.1">0.4</text>
<text x="273.2" y="318.1">1.1</text>
<text x="283.0" y="318.1">0.0</text>
<text x="292.8" y="318.1">0.0</text>
<text x="302.6" y="318.1">0.0</text>
<text x="312.5" y="318.1">17.2</text>
<text x="322.3" y="318.1">0.0</text>
<text x="332.1" y="318.1">0.7</text>
<text x="342.0" y="318.1">2.1</text>
<text x="351.8" y="318.1">0.0</text>
<text x="361.6" y="318.1">0.0</text>
<text x="371.5" y="318.1">0.0</text>
<text x="381.3" y="318.1">0.0</text>
<text x="391.1" y="318.1">0.0</text>
<text x="400.9" y="318.1">0.0</text>
<text x="410.8" y="318.1">0.0</text>
<text x="420.6" y="318.1">0.0</text>
</g>
<g font-size="3.2" text-anchor="middle" fill="#ffffff" stroke="#ffffff" stroke-width="0.04">
<text x="243.7" y="131.4">97.1</text>
<text x="253.5" y="141.2">88.2</text>
<text x="263.3" y="151.0">100.0</text>
<text x="273.2" y="160.9">86.8</text>
<text x="283.0" y="170.7">88.8</text>
<text x="292.8" y="180.5">83.1</text>
<text x="302.6" y="190.3">74.3</text>
<text x="312.5" y="200.2">79.8</text>
<text x="322.3" y="200.2">20.2</text>
<text x="322.3" y="210.0">52.5</text>
<text x="283.0" y="219.8">23.1</text>
<text x="332.1" y="219.8">71.8</text>
<text x="342.0" y="229.7">99.6</text>
<text x="351.8" y="239.5">96.8</text>
<text x="361.6" y="249.3">85.4</text>
<text x="371.5" y="259.2">45.0</text>
<text x="381.3" y="269.0">47.5</text>
<text x="391.1" y="269.0">21.8</text>
<text x="391.1" y="278.8">79.3</text>
<text x="400.9" y="288.6">100.0</text>
<text x="410.8" y="298.5">54.3</text>
<text x="420.6" y="308.3">100.0</text>
<text x="430.4" y="318.1">78.6</text>
</g>
<g font-size="3.1" text-anchor="end" fill="#1a1a1a" stroke="#1a1a1a" stroke-width="0.14">
<text x="237.2" y="130.8">PA01</text>
<text x="237.2" y="140.6">PA05</text>
<text x="237.2" y="150.4">PA06</text>
<text x="237.2" y="160.3">PA10</text>
<text x="237.2" y="170.1">PA15</text>
<text x="237.2" y="179.9">PA20</text>
<text x="237.2" y="189.7">PA21</text>
<text x="237.2" y="199.6">PA26</text>
<text x="237.2" y="209.4">PA30</text>
<text x="237.2" y="219.2">PA31</text>
<text x="237.2" y="229.1">PA37</text>
<text x="237.2" y="238.9">PA39</text>
<text x="237.2" y="248.7">PA44</text>
<text x="237.2" y="258.6">PA49</text>
<text x="237.2" y="268.4">PA55</text>
<text x="237.2" y="278.2">PA56</text>
<text x="237.2" y="288.0">PA57</text>
<text x="237.2" y="297.9">PA58</text>
<text x="237.2" y="307.7">PA65</text>
<text x="237.2" y="317.5">PA68</text>
</g>
<g font-size="3.2" text-anchor="middle" fill="#1a1a1a" stroke="#1a1a1a" stroke-width="0.08">
<text x="243.7" y="325.3">PA01</text>
<text x="253.5" y="325.3">PA05</text>
<text x="263.3" y="325.3">PA06</text>
<text x="273.2" y="325.3">PA10</text>
<text x="283.0" y="325.3">PA15</text>
<text x="292.8" y="325.3">PA20</text>
<text x="302.6" y="325.3">PA21</text>
<text x="312.5" y="325.3">PA26</text>
<text x="322.3" y="325.3">PA30</text>
<text x="332.1" y="325.3">PA31</text>
<text x="342.0" y="325.3">PA37</text>
<text x="351.8" y="325.3">PA39</text>
<text x="361.6" y="325.3">PA44</text>
<text x="371.5" y="325.3">PA49</text>
<text x="381.3" y="325.3">PA55</text>
<text x="391.1" y="325.3">PA56</text>
<text x="400.9" y="325.3">PA57</text>
<text x="410.8" y="325.3">PA58</text>
<text x="420.6" y="325.3">PA65</text>
<text x="430.4" y="325.3">PA68</text>
</g>
<text x="337.05" y="115.70" font-size="4.6" text-anchor="middle" font-weight="normal" fill="#262626" stroke="#262626" stroke-width="0.12" >SVM Strain Characterisation Confusion Matrix</text>
<text x="337.05" y="120.60" font-size="4.6" text-anchor="middle" font-weight="normal" fill="#262626" stroke="#262626" stroke-width="0.12" >785 nm</text>
<text x="337.05" y="330.30" font-size="4.6" text-anchor="middle" font-weight="normal" fill="#262626" stroke="#262626" stroke-width="0.12" >Predicted Strain Label</text>
<text transform="translate(226.85,223.30) rotate(-90)" font-size="4.7" text-anchor="middle" fill="#262626" stroke="#262626" stroke-width="0.12">True Strain Label</text>
<text x="215.80" y="113.70" font-size="13.5" text-anchor="start" font-weight="bold" fill="#000" >c</text>
<g stroke="#fff" stroke-width="0.35">
<rect x="458.75" y="125.00" width="9.83" height="9.83" fill="#3389c3"/>
<rect x="468.58" y="125.00" width="9.83" height="9.83" fill="#f4f3f3"/>
<rect x="478.41" y="125.00" width="9.83" height="9.83" fill="#f4f3f3"/>
<rect x="488.24" y="125.00" width="9.83" height="9.83" fill="#f4f3f3"/>
<rect x="498.07" y="125.00" width="9.83" height="9.83" fill="#f4f3f3"/>
<rect x="507.90" y="125.00" width="9.83" height="9.83" fill="#f4f3f3"/>
<rect x="517.73" y="125.00" width="9.83" height="9.83" fill="#f4f3f3"/>
<rect x="527.56" y="125.00" width="9.83" height="9.83" fill="#f4f3f3"/>
<rect x="537.39" y="125.00" width="9.83" height="9.83" fill="#f4f3f3"/>
<rect x="547.22" y="125.00" width="9.83" height="9.83" fill="#f4f3f3"/>
<rect x="557.05" y="125.00" width="9.83" height="9.83" fill="#f4f3f3"/>
<rect x="566.88" y="125.00" width="9.83" height="9.83" fill="#f4f3f3"/>
<rect x="576.71" y="125.00" width="9.83" height="9.83" fill="#f4f3f3"/>
<rect x="586.54" y="125.00" width="9.83" height="9.83" fill="#f4f3f3"/>
<rect x="596.37" y="125.00" width="9.83" height="9.83" fill="#f4f3f3"/>
<rect x="606.20" y="125.00" width="9.83" height="9.83" fill="#f4f3f3"/>
<rect x="616.03" y="125.00" width="9.83" height="9.83" fill="#f4f3f3"/>
<rect x="625.86" y="125.00" width="9.83" height="9.83" fill="#f4f3f3"/>
<rect x="635.69" y="125.00" width="9.83" height="9.83" fill="#f4f3f3"/>
<rect x="645.52" y="125.00" width="9.83" height="9.83" fill="#f4f3f3"/>
<rect x="458.75" y="134.83" width="9.83" height="9.83" fill="#f4f3f3"/>
<rect x="468.58" y="134.83" width="9.83" height="9.83" fill="#3389c3"/>
<rect x="478.41" y="134.83" width="9.83" height="9.83" fill="#f4f3f3"/>
<rect x="488.24" y="134.83" width="9.83" height="9.83" fill="#f4f3f3"/>
<rect x="498.07" y="134.83" width="9.83" height="9.83" fill="#f4f3f3"/>
<rect x="507.90" y="134.83" width="9.83" height="9.83" fill="#f4f3f3"/>
<rect x="517.73" y="134.83" width="9.83" height="9.83" fill="#f4f3f3"/>
<rect x="527.56" y="134.83" width="9.83" height="9.83" fill="#f4f3f3"/>
<rect x="537.39" y="134.83" width="9.83" height="9.83" fill="#f4f3f3"/>
<rect x="547.22" y="134.83" width="9.83" height="9.83" fill="#f4f3f3"/>
<rect x="557.05" y="134.83" width="9.83" height="9.83" fill="#f4f3f3"/>
<rect x="566.88" y="134.83" width="9.83" height="9.83" fill="#f4f3f3"/>
<rect x="576.71" y="134.83" width="9.83" height="9.83" fill="#f4f3f3"/>
<rect x="586.54" y="134.83" width="9.83" height="9.83" fill="#f4f3f3"/>
<rect x="596.37" y="134.83" width="9.83" height="9.83" fill="#f4f3f3"/>
<rect x="606.20" y="134.83" width="9.83" height="9.83" fill="#f4f3f3"/>
<rect x="616.03" y="134.83" width="9.83" height="9.83" fill="#f4f3f3"/>
<rect x="625.86" y="134.83" width="9.83" height="9.83" fill="#f4f3f3"/>
<rect x="635.69" y="134.83" width="9.83" height="9.83" fill="#f4f3f3"/>
<rect x="645.52" y="134.83" width="9.83" height="9.83" fill="#f4f3f3"/>
<rect x="458.75" y="144.66" width="9.83" height="9.83" fill="#f4f3f3"/>
<rect x="468.58" y="144.66" width="9.83" height="9.83" fill="#f4f3f3"/>
<rect x="478.41" y="144.66" width="9.83" height="9.83" fill="#3389c3"/>
<rect x="488.24" y="144.66" width="9.83" height="9.83" fill="#f4f3f3"/>
<rect x="498.07" y="144.66" width="9.83" height="9.83" fill="#f4f3f3"/>
<rect x="507.90" y="144.66" width="9.83" height="9.83" fill="#f4f3f3"/>
<rect x="517.73" y="144.66" width="9.83" height="9.83" fill="#f4f3f3"/>
<rect x="527.56" y="144.66" width="9.83" height="9.83" fill="#f4f3f3"/>
<rect x="537.39" y="144.66" width="9.83" height="9.83" fill="#f4f3f3"/>
<rect x="547.22" y="144.66" width="9.83" height="9.83" fill="#f4f3f3"/>
<rect x="557.05" y="144.66" width="9.83" height="9.83" fill="#f4f3f3"/>
<rect x="566.88" y="144.66" width="9.83" height="9.83" fill="#f4f3f3"/>
<rect x="576.71" y="144.66" width="9.83" height="9.83" fill="#f4f3f3"/>
<rect x="586.54" y="144.66" width="9.83" height="9.83" fill="#f4f3f3"/>
<rect x="596.37" y="144.66" width="9.83" height="9.83" fill="#f4f3f3"/>
<rect x="606.20" y="144.66" width="9.83" height="9.83" fill="#f4f3f3"/>
<rect x="616.03" y="144.66" width="9.83" height="9.83" fill="#f4f3f3"/>
<rect x="625.86" y="144.66" width="9.83" height="9.83" fill="#f4f3f3"/>
<rect x="635.69" y="144.66" width="9.83" height="9.83" fill="#f4f3f3"/>
<rect x="645.52" y="144.66" width="9.83" height="9.83" fill="#f4f3f3"/>
<rect x="458.75" y="154.49" width="9.83" height="9.83" fill="#f4f3f3"/>
<rect x="468.58" y="154.49" width="9.83" height="9.83" fill="#f4f3f3"/>
<rect x="478.41" y="154.49" width="9.83" height="9.83" fill="#f4f3f3"/>
<rect x="488.24" y="154.49" width="9.83" height="9.83" fill="#4d59a8"/>
<rect x="498.07" y="154.49" width="9.83" height="9.83" fill="#f4f3f3"/>
<rect x="507.90" y="154.49" width="9.83" height="9.83" fill="#f4f3f3"/>
<rect x="517.73" y="154.49" width="9.83" height="9.83" fill="#f4f3f3"/>
<rect x="527.56" y="154.49" width="9.83" height="9.83" fill="#f4f3f3"/>
<rect x="537.39" y="154.49" width="9.83" height="9.83" fill="#f4f3f3"/>
<rect x="547.22" y="154.49" width="9.83" height="9.83" fill="#f8967b"/>
<rect x="557.05" y="154.49" width="9.83" height="9.83" fill="#f4f3f3"/>
<rect x="566.88" y="154.49" width="9.83" height="9.83" fill="#f4f3f3"/>
<rect x="576.71" y="154.49" width="9.83" height="9.83" fill="#f4f3f3"/>
<rect x="586.54" y="154.49" width="9.83" height="9.83" fill="#f4f3f3"/>
<rect x="596.37" y="154.49" width="9.83" height="9.83" fill="#f4f3f3"/>
<rect x="606.20" y="154.49" width="9.83" height="9.83" fill="#f4f3f3"/>
<rect x="616.03" y="154.49" width="9.83" height="9.83" fill="#f4f3f3"/>
<rect x="625.86" y="154.49" width="9.83" height="9.83" fill="#f4f3f3"/>
<rect x="635.69" y="154.49" width="9.83" height="9.83" fill="#f4f3f3"/>
<rect x="645.52" y="154.49" width="9.83" height="9.83" fill="#f4f3f3"/>
<rect x="458.75" y="164.32" width="9.83" height="9.83" fill="#f4f3f3"/>
<rect x="468.58" y="164.32" width="9.83" height="9.83" fill="#f4f3f3"/>
<rect x="478.41" y="164.32" width="9.83" height="9.83" fill="#f4f3f3"/>
<rect x="488.24" y="164.32" width="9.83" height="9.83" fill="#f4f3f3"/>
<rect x="498.07" y="164.32" width="9.83" height="9.83" fill="#4d59a8"/>
<rect x="507.90" y="164.32" width="9.83" height="9.83" fill="#f4f3f3"/>
<rect x="517.73" y="164.32" width="9.83" height="9.83" fill="#f4f3f3"/>
<rect x="527.56" y="164.32" width="9.83" height="9.83" fill="#f4f3f3"/>
<rect x="537.39" y="164.32" width="9.83" height="9.83" fill="#f4f3f3"/>
<rect x="547.22" y="164.32" width="9.83" height="9.83" fill="#f8967b"/>
<rect x="557.05" y="164.32" width="9.83" height="9.83" fill="#f4f3f3"/>
<rect x="566.88" y="164.32" width="9.83" height="9.83" fill="#f4f3f3"/>
<rect x="576.71" y="164.32" width="9.83" height="9.83" fill="#f4f3f3"/>
<rect x="586.54" y="164.32" width="9.83" height="9.83" fill="#f4f3f3"/>
<rect x="596.37" y="164.32" width="9.83" height="9.83" fill="#f4f3f3"/>
<rect x="606.20" y="164.32" width="9.83" height="9.83" fill="#f4f3f3"/>
<rect x="616.03" y="164.32" width="9.83" height="9.83" fill="#f4f3f3"/>
<rect x="625.86" y="164.32" width="9.83" height="9.83" fill="#f4f3f3"/>
<rect x="635.69" y="164.32" width="9.83" height="9.83" fill="#f4f3f3"/>
<rect x="645.52" y="164.32" width="9.83" height="9.83" fill="#f4f3f3"/>
<rect x="458.75" y="174.15" width="9.83" height="9.83" fill="#f4f3f3"/>
<rect x="468.58" y="174.15" width="9.83" height="9.83" fill="#f4f3f3"/>
<rect x="478.41" y="174.15" width="9.83" height="9.83" fill="#f4f3f3"/>
<rect x="488.24" y="174.15" width="9.83" height="9.83" fill="#f4f3f3"/>
<rect x="498.07" y="174.15" width="9.83" height="9.83" fill="#f4f3f3"/>
<rect x="507.90" y="174.15" width="9.83" height="9.83" fill="#3c77ba"/>
<rect x="517.73" y="174.15" width="9.83" height="9.83" fill="#f4f3f3"/>
<rect x="527.56" y="174.15" width="9.83" height="9.83" fill="#f4f3f3"/>
<rect x="537.39" y="174.15" width="9.83" height="9.83" fill="#f4f3f3"/>
<rect x="547.22" y="174.15" width="9.83" height="9.83" fill="#f4f3f3"/>
<rect x="557.05" y="174.15" width="9.83" height="9.83" fill="#f4f3f3"/>
<rect x="566.88" y="174.15" width="9.83" height="9.83" fill="#f4f3f3"/>
<rect x="576.71" y="174.15" width="9.83" height="9.83" fill="#f4f3f3"/>
<rect x="586.54" y="174.15" width="9.83" height="9.83" fill="#f4f3f3"/>
<rect x="596.37" y="174.15" width="9.83" height="9.83" fill="#f4f3f3"/>
<rect x="606.20" y="174.15" width="9.83" height="9.83" fill="#f4f3f3"/>
<rect x="616.03" y="174.15" width="9.83" height="9.83" fill="#f4f3f3"/>
<rect x="625.86" y="174.15" width="9.83" height="9.83" fill="#f4f3f3"/>
<rect x="635.69" y="174.15" width="9.83" height="9.83" fill="#f4f3f3"/>
<rect x="645.52" y="174.15" width="9.83" height="9.83" fill="#f4f3f3"/>
<rect x="458.75" y="183.98" width="9.83" height="9.83" fill="#f4f3f3"/>
<rect x="468.58" y="183.98" width="9.83" height="9.83" fill="#f4f3f3"/>
<rect x="478.41" y="183.98" width="9.83" height="9.83" fill="#f4f3f3"/>
<rect x="488.24" y="183.98" width="9.83" height="9.83" fill="#f4f3f3"/>
<rect x="498.07" y="183.98" width="9.83" height="9.83" fill="#f4f3f3"/>
<rect x="507.90" y="183.98" width="9.83" height="9.83" fill="#f4f3f3"/>
<rect x="517.73" y="183.98" width="9.83" height="9.83" fill="#4d59a8"/>
<rect x="527.56" y="183.98" width="9.83" height="9.83" fill="#f4f3f3"/>
<rect x="537.39" y="183.98" width="9.83" height="9.83" fill="#f4f3f3"/>
<rect x="547.22" y="183.98" width="9.83" height="9.83" fill="#f4f3f3"/>
<rect x="557.05" y="183.98" width="9.83" height="9.83" fill="#f4f3f3"/>
<rect x="566.88" y="183.98" width="9.83" height="9.83" fill="#f4f3f3"/>
<rect x="576.71" y="183.98" width="9.83" height="9.83" fill="#f4f3f3"/>
<rect x="586.54" y="183.98" width="9.83" height="9.83" fill="#f4f3f3"/>
<rect x="596.37" y="183.98" width="9.83" height="9.83" fill="#f4f3f3"/>
<rect x="606.20" y="183.98" width="9.83" height="9.83" fill="#f4f3f3"/>
<rect x="616.03" y="183.98" width="9.83" height="9.83" fill="#f4f3f3"/>
<rect x="625.86" y="183.98" width="9.83" height="9.83" fill="#f8967b"/>
<rect x="635.69" y="183.98" width="9.83" height="9.83" fill="#f4f3f3"/>
<rect x="645.52" y="183.98" width="9.83" height="9.83" fill="#f4f3f3"/>
<rect x="458.75" y="193.81" width="9.83" height="9.83" fill="#f4f3f3"/>
<rect x="468.58" y="193.81" width="9.83" height="9.83" fill="#f4f3f3"/>
<rect x="478.41" y="193.81" width="9.83" height="9.83" fill="#f4f3f3"/>
<rect x="488.24" y="193.81" width="9.83" height="9.83" fill="#f4f3f3"/>
<rect x="498.07" y="193.81" width="9.83" height="9.83" fill="#f4f3f3"/>
<rect x="507.90" y="193.81" width="9.83" height="9.83" fill="#f4f3f3"/>
<rect x="517.73" y="193.81" width="9.83" height="9.83" fill="#f4f3f3"/>
<rect x="527.56" y="193.81" width="9.83" height="9.83" fill="#5c4b9c"/>
<rect x="537.39" y="193.81" width="9.83" height="9.83" fill="#f46e50"/>
<rect x="547.22" y="193.81" width="9.83" height="9.83" fill="#f4f3f3"/>
<rect x="557.05" y="193.81" width="9.83" height="9.83" fill="#f4f3f3"/>
<rect x="566.88" y="193.81" width="9.83" height="9.83" fill="#f4f3f3"/>
<rect x="576.71" y="193.81" width="9.83" height="9.83" fill="#f4f3f3"/>
<rect x="586.54" y="193.81" width="9.83" height="9.83" fill="#f4f3f3"/>
<rect x="596.37" y="193.81" width="9.83" height="9.83" fill="#f4f3f3"/>
<rect x="606.20" y="193.81" width="9.83" height="9.83" fill="#f4f3f3"/>
<rect x="616.03" y="193.81" width="9.83" height="9.83" fill="#f4f3f3"/>
<rect x="625.86" y="193.81" width="9.83" height="9.83" fill="#f4f3f3"/>
<rect x="635.69" y="193.81" width="9.83" height="9.83" fill="#f4f3f3"/>
<rect x="645.52" y="193.81" width="9.83" height="9.83" fill="#f4f3f3"/>
<rect x="458.75" y="203.64" width="9.83" height="9.83" fill="#f4f3f3"/>
<rect x="468.58" y="203.64" width="9.83" height="9.83" fill="#f4f3f3"/>
<rect x="478.41" y="203.64" width="9.83" height="9.83" fill="#f4f3f3"/>
<rect x="488.24" y="203.64" width="9.83" height="9.83" fill="#f4f3f3"/>
<rect x="498.07" y="203.64" width="9.83" height="9.83" fill="#f4f3f3"/>
<rect x="507.90" y="203.64" width="9.83" height="9.83" fill="#f8967b"/>
<rect x="517.73" y="203.64" width="9.83" height="9.83" fill="#f4f3f3"/>
<rect x="527.56" y="203.64" width="9.83" height="9.83" fill="#f4f3f3"/>
<rect x="537.39" y="203.64" width="9.83" height="9.83" fill="#d4242a"/>
<rect x="547.22" y="203.64" width="9.83" height="9.83" fill="#f4f3f3"/>
<rect x="557.05" y="203.64" width="9.83" height="9.83" fill="#f4f3f3"/>
<rect x="566.88" y="203.64" width="9.83" height="9.83" fill="#f4f3f3"/>
<rect x="576.71" y="203.64" width="9.83" height="9.83" fill="#f4f3f3"/>
<rect x="586.54" y="203.64" width="9.83" height="9.83" fill="#f4f3f3"/>
<rect x="596.37" y="203.64" width="9.83" height="9.83" fill="#f4f3f3"/>
<rect x="606.20" y="203.64" width="9.83" height="9.83" fill="#f4f3f3"/>
<rect x="616.03" y="203.64" width="9.83" height="9.83" fill="#f4f3f3"/>
<rect x="625.86" y="203.64" width="9.83" height="9.83" fill="#dd3429"/>
<rect x="635.69" y="203.64" width="9.83" height="9.83" fill="#f4f3f3"/>
<rect x="645.52" y="203.64" width="9.83" height="9.83" fill="#f4f3f3"/>
<rect x="458.75" y="213.47" width="9.83" height="9.83" fill="#f4f3f3"/>
<rect x="468.58" y="213.47" width="9.83" height="9.83" fill="#f4f3f3"/>
<rect x="478.41" y="213.47" width="9.83" height="9.83" fill="#f4f3f3"/>
<rect x="488.24" y="213.47" width="9.83" height="9.83" fill="#f4f3f3"/>
<rect x="498.07" y="213.47" width="9.83" height="9.83" fill="#dd3429"/>
<rect x="507.90" y="213.47" width="9.83" height="9.83" fill="#f4f3f3"/>
<rect x="517.73" y="213.47" width="9.83" height="9.83" fill="#f4f3f3"/>
<rect x="527.56" y="213.47" width="9.83" height="9.83" fill="#f4f3f3"/>
<rect x="537.39" y="213.47" width="9.83" height="9.83" fill="#f4f3f3"/>
<rect x="547.22" y="213.47" width="9.83" height="9.83" fill="#990c5a"/>
<rect x="557.05" y="213.47" width="9.83" height="9.83" fill="#f4f3f3"/>
<rect x="566.88" y="213.47" width="9.83" height="9.83" fill="#f4f3f3"/>
<rect x="576.71" y="213.47" width="9.83" height="9.83" fill="#f4f3f3"/>
<rect x="586.54" y="213.47" width="9.83" height="9.83" fill="#f4f3f3"/>
<rect x="596.37" y="213.47" width="9.83" height="9.83" fill="#f4f3f3"/>
<rect x="606.20" y="213.47" width="9.83" height="9.83" fill="#f4f3f3"/>
<rect x="616.03" y="213.47" width="9.83" height="9.83" fill="#f4f3f3"/>
<rect x="625.86" y="213.47" width="9.83" height="9.83" fill="#f4f3f3"/>
<rect x="635.69" y="213.47" width="9.83" height="9.83" fill="#f4f3f3"/>
<rect x="645.52" y="213.47" width="9.83" height="9.83" fill="#f4f3f3"/>
<rect x="458.75" y="223.30" width="9.83" height="9.83" fill="#f4f3f3"/>
<rect x="468.58" y="223.30" width="9.83" height="9.83" fill="#f4f3f3"/>
<rect x="478.41" y="223.30" width="9.83" height="9.83" fill="#f4f3f3"/>
<rect x="488.24" y="223.30" width="9.83" height="9.83" fill="#f4f3f3"/>
<rect x="498.07" y="223.30" width="9.83" height="9.83" fill="#f4f3f3"/>
<rect x="507.90" y="223.30" width="9.83" height="9.83" fill="#f4f3f3"/>
<rect x="517.73" y="223.30" width="9.83" height="9.83" fill="#f4f3f3"/>
<rect x="527.56" y="223.30" width="9.83" height="9.83" fill="#f4f3f3"/>
<rect x="537.39" y="223.30" width="9.83" height="9.83" fill="#f4f3f3"/>
<rect x="547.22" y="223.30" width="9.83" height="9.83" fill="#f4f3f3"/>
<rect x="557.05" y="223.30" width="9.83" height="9.83" fill="#3389c3"/>
<rect x="566.88" y="223.30" width="9.83" height="9.83" fill="#f4f3f3"/>
<rect x="576.71" y="223.30" width="9.83" height="9.83" fill="#f4f3f3"/>
<rect x="586.54" y="223.30" width="9.83" height="9.83" fill="#f4f3f3"/>
<rect x="596.37" y="223.30" width="9.83" height="9.83" fill="#f4f3f3"/>
<rect x="606.20" y="223.30" width="9.83" height="9.83" fill="#f4f3f3"/>
<rect x="616.03" y="223.30" width="9.83" height="9.83" fill="#f4f3f3"/>
<rect x="625.86" y="223.30" width="9.83" height="9.83" fill="#f4f3f3"/>
<rect x="635.69" y="223.30" width="9.83" height="9.83" fill="#f4f3f3"/>
<rect x="645.52" y="223.30" width="9.83" height="9.83" fill="#f4f3f3"/>
<rect x="458.75" y="233.13" width="9.83" height="9.83" fill="#f4f3f3"/>
<rect x="468.58" y="233.13" width="9.83" height="9.83" fill="#f4f3f3"/>
<rect x="478.41" y="233.13" width="9.83" height="9.83" fill="#f4f3f3"/>
<rect x="488.24" y="233.13" width="9.83" height="9.83" fill="#f4f3f3"/>
<rect x="498.07" y="233.13" width="9.83" height="9.83" fill="#f4f3f3"/>
<rect x="507.90" y="233.13" width="9.83" height="9.83" fill="#f4f3f3"/>
<rect x="517.73" y="233.13" width="9.83" height="9.83" fill="#f4f3f3"/>
<rect x="527.56" y="233.13" width="9.83" height="9.83" fill="#f4f3f3"/>
<rect x="537.39" y="233.13" width="9.83" height="9.83" fill="#f4f3f3"/>
<rect x="547.22" y="233.13" width="9.83" height="9.83" fill="#f4f3f3"/>
<rect x="557.05" y="233.13" width="9.83" height="9.83" fill="#f4f3f3"/>
<rect x="566.88" y="233.13" width="9.83" height="9.83" fill="#3389c3"/>
<rect x="576.71" y="233.13" width="9.83" height="9.83" fill="#f4f3f3"/>
<rect x="586.54" y="233.13" width="9.83" height="9.83" fill="#f4f3f3"/>
<rect x="596.37" y="233.13" width="9.83" height="9.83" fill="#f4f3f3"/>
<rect x="606.20" y="233.13" width="9.83" height="9.83" fill="#f4f3f3"/>
<rect x="616.03" y="233.13" width="9.83" height="9.83" fill="#f4f3f3"/>
<rect x="625.86" y="233.13" width="9.83" height="9.83" fill="#f4f3f3"/>
<rect x="635.69" y="233.13" width="9.83" height="9.83" fill="#f4f3f3"/>
<rect x="645.52" y="233.13" width="9.83" height="9.83" fill="#f4f3f3"/>
<rect x="458.75" y="242.96" width="9.83" height="9.83" fill="#f4f3f3"/>
<rect x="468.58" y="242.96" width="9.83" height="9.83" fill="#f4f3f3"/>
<rect x="478.41" y="242.96" width="9.83" height="9.83" fill="#f4f3f3"/>
<rect x="488.24" y="242.96" width="9.83" height="9.83" fill="#f4f3f3"/>
<rect x="498.07" y="242.96" width="9.83" height="9.83" fill="#f4f3f3"/>
<rect x="507.90" y="242.96" width="9.83" height="9.83" fill="#f4f3f3"/>
<rect x="517.73" y="242.96" width="9.83" height="9.83" fill="#f4f3f3"/>
<rect x="527.56" y="242.96" width="9.83" height="9.83" fill="#f4f3f3"/>
<rect x="537.39" y="242.96" width="9.83" height="9.83" fill="#f8b4a1"/>
<rect x="547.22" y="242.96" width="9.83" height="9.83" fill="#f4f3f3"/>
<rect x="557.05" y="242.96" width="9.83" height="9.83" fill="#f4f3f3"/>
<rect x="566.88" y="242.96" width="9.83" height="9.83" fill="#f4f3f3"/>
<rect x="576.71" y="242.96" width="9.83" height="9.83" fill="#4467b3"/>
<rect x="586.54" y="242.96" width="9.83" height="9.83" fill="#f4f3f3"/>
<rect x="596.37" y="242.96" width="9.83" height="9.83" fill="#f4f3f3"/>
<rect x="606.20" y="242.96" width="9.83" height="9.83" fill="#f4f3f3"/>
<rect x="616.03" y="242.96" width="9.83" height="9.83" fill="#f4f3f3"/>
<rect x="625.86" y="242.96" width="9.83" height="9.83" fill="#f4f3f3"/>
<rect x="635.69" y="242.96" width="9.83" height="9.83" fill="#f4f3f3"/>
<rect x="645.52" y="242.96" width="9.83" height="9.83" fill="#f4f3f3"/>
<rect x="458.75" y="252.79" width="9.83" height="9.83" fill="#f4f3f3"/>
<rect x="468.58" y="252.79" width="9.83" height="9.83" fill="#f4f3f3"/>
<rect x="478.41" y="252.79" width="9.83" height="9.83" fill="#f4f3f3"/>
<rect x="488.24" y="252.79" width="9.83" height="9.83" fill="#f4f3f3"/>
<rect x="498.07" y="252.79" width="9.83" height="9.83" fill="#f4f3f3"/>
<rect x="507.90" y="252.79" width="9.83" height="9.83" fill="#f4f3f3"/>
<rect x="517.73" y="252.79" width="9.83" height="9.83" fill="#f4f3f3"/>
<rect x="527.56" y="252.79" width="9.83" height="9.83" fill="#f4f3f3"/>
<rect x="537.39" y="252.79" width="9.83" height="9.83" fill="#f8b4a1"/>
<rect x="547.22" y="252.79" width="9.83" height="9.83" fill="#f4f3f3"/>
<rect x="557.05" y="252.79" width="9.83" height="9.83" fill="#f4f3f3"/>
<rect x="566.88" y="252.79" width="9.83" height="9.83" fill="#f4f3f3"/>
<rect x="576.71" y="252.79" width="9.83" height="9.83" fill="#f4f3f3"/>
<rect x="586.54" y="252.79" width="9.83" height="9.83" fill="#4d59a8"/>
<rect x="596.37" y="252.79" width="9.83" height="9.83" fill="#f4f3f3"/>
<rect x="606.20" y="252.79" width="9.83" height="9.83" fill="#f4f3f3"/>
<rect x="616.03" y="252.79" width="9.83" height="9.83" fill="#f4f3f3"/>
<rect x="625.86" y="252.79" width="9.83" height="9.83" fill="#f4f3f3"/>
<rect x="635.69" y="252.79" width="9.83" height="9.83" fill="#f4f3f3"/>
<rect x="645.52" y="252.79" width="9.83" height="9.83" fill="#f4f3f3"/>
<rect x="458.75" y="262.62" width="9.83" height="9.83" fill="#f4f3f3"/>
<rect x="468.58" y="262.62" width="9.83" height="9.83" fill="#f4f3f3"/>
<rect x="478.41" y="262.62" width="9.83" height="9.83" fill="#f4f3f3"/>
<rect x="488.24" y="262.62" width="9.83" height="9.83" fill="#f4f3f3"/>
<rect x="498.07" y="262.62" width="9.83" height="9.83" fill="#f4f3f3"/>
<rect x="507.90" y="262.62" width="9.83" height="9.83" fill="#f4f3f3"/>
<rect x="517.73" y="262.62" width="9.83" height="9.83" fill="#f4f3f3"/>
<rect x="527.56" y="262.62" width="9.83" height="9.83" fill="#f4f3f3"/>
<rect x="537.39" y="262.62" width="9.83" height="9.83" fill="#f8967b"/>
<rect x="547.22" y="262.62" width="9.83" height="9.83" fill="#f4f3f3"/>
<rect x="557.05" y="262.62" width="9.83" height="9.83" fill="#f4f3f3"/>
<rect x="566.88" y="262.62" width="9.83" height="9.83" fill="#f4f3f3"/>
<rect x="576.71" y="262.62" width="9.83" height="9.83" fill="#f4f3f3"/>
<rect x="586.54" y="262.62" width="9.83" height="9.83" fill="#f4f3f3"/>
<rect x="596.37" y="262.62" width="9.83" height="9.83" fill="#5c4b9c"/>
<rect x="606.20" y="262.62" width="9.83" height="9.83" fill="#f4f3f3"/>
<rect x="616.03" y="262.62" width="9.83" height="9.83" fill="#f4f3f3"/>
<rect x="625.86" y="262.62" width="9.83" height="9.83" fill="#f4f3f3"/>
<rect x="635.69" y="262.62" width="9.83" height="9.83" fill="#f4f3f3"/>
<rect x="645.52" y="262.62" width="9.83" height="9.83" fill="#f4f3f3"/>
<rect x="458.75" y="272.45" width="9.83" height="9.83" fill="#f4f3f3"/>
<rect x="468.58" y="272.45" width="9.83" height="9.83" fill="#f4f3f3"/>
<rect x="478.41" y="272.45" width="9.83" height="9.83" fill="#f4f3f3"/>
<rect x="488.24" y="272.45" width="9.83" height="9.83" fill="#f4f3f3"/>
<rect x="498.07" y="272.45" width="9.83" height="9.83" fill="#f4f3f3"/>
<rect x="507.90" y="272.45" width="9.83" height="9.83" fill="#f4f3f3"/>
<rect x="517.73" y="272.45" width="9.83" height="9.83" fill="#f4f3f3"/>
<rect x="527.56" y="272.45" width="9.83" height="9.83" fill="#f4f3f3"/>
<rect x="537.39" y="272.45" width="9.83" height="9.83" fill="#f4f3f3"/>
<rect x="547.22" y="272.45" width="9.83" height="9.83" fill="#f4f3f3"/>
<rect x="557.05" y="272.45" width="9.83" height="9.83" fill="#f4f3f3"/>
<rect x="566.88" y="272.45" width="9.83" height="9.83" fill="#f4f3f3"/>
<rect x="576.71" y="272.45" width="9.83" height="9.83" fill="#f4f3f3"/>
<rect x="586.54" y="272.45" width="9.83" height="9.83" fill="#f4f3f3"/>
<rect x="596.37" y="272.45" width="9.83" height="9.83" fill="#f4f3f3"/>
<rect x="606.20" y="272.45" width="9.83" height="9.83" fill="#4d59a8"/>
<rect x="616.03" y="272.45" width="9.83" height="9.83" fill="#f4f3f3"/>
<rect x="625.86" y="272.45" width="9.83" height="9.83" fill="#f4f3f3"/>
<rect x="635.69" y="272.45" width="9.83" height="9.83" fill="#f8967b"/>
<rect x="645.52" y="272.45" width="9.83" height="9.83" fill="#f4f3f3"/>
<rect x="458.75" y="282.28" width="9.83" height="9.83" fill="#f4f3f3"/>
<rect x="468.58" y="282.28" width="9.83" height="9.83" fill="#f4f3f3"/>
<rect x="478.41" y="282.28" width="9.83" height="9.83" fill="#f4f3f3"/>
<rect x="488.24" y="282.28" width="9.83" height="9.83" fill="#f4f3f3"/>
<rect x="498.07" y="282.28" width="9.83" height="9.83" fill="#f4f3f3"/>
<rect x="507.90" y="282.28" width="9.83" height="9.83" fill="#f4f3f3"/>
<rect x="517.73" y="282.28" width="9.83" height="9.83" fill="#f4f3f3"/>
<rect x="527.56" y="282.28" width="9.83" height="9.83" fill="#f4f3f3"/>
<rect x="537.39" y="282.28" width="9.83" height="9.83" fill="#f4f3f3"/>
<rect x="547.22" y="282.28" width="9.83" height="9.83" fill="#f4f3f3"/>
<rect x="557.05" y="282.28" width="9.83" height="9.83" fill="#f4f3f3"/>
<rect x="566.88" y="282.28" width="9.83" height="9.83" fill="#f4f3f3"/>
<rect x="576.71" y="282.28" width="9.83" height="9.83" fill="#f4f3f3"/>
<rect x="586.54" y="282.28" width="9.83" height="9.83" fill="#f4f3f3"/>
<rect x="596.37" y="282.28" width="9.83" height="9.83" fill="#f4f3f3"/>
<rect x="606.20" y="282.28" width="9.83" height="9.83" fill="#f4f3f3"/>
<rect x="616.03" y="282.28" width="9.83" height="9.83" fill="#3389c3"/>
<rect x="625.86" y="282.28" width="9.83" height="9.83" fill="#f4f3f3"/>
<rect x="635.69" y="282.28" width="9.83" height="9.83" fill="#f4f3f3"/>
<rect x="645.52" y="282.28" width="9.83" height="9.83" fill="#f4f3f3"/>
<rect x="458.75" y="292.11" width="9.83" height="9.83" fill="#f4f3f3"/>
<rect x="468.58" y="292.11" width="9.83" height="9.83" fill="#f4f3f3"/>
<rect x="478.41" y="292.11" width="9.83" height="9.83" fill="#f4f3f3"/>
<rect x="488.24" y="292.11" width="9.83" height="9.83" fill="#f4f3f3"/>
<rect x="498.07" y="292.11" width="9.83" height="9.83" fill="#f4f3f3"/>
<rect x="507.90" y="292.11" width="9.83" height="9.83" fill="#f4f3f3"/>
<rect x="517.73" y="292.11" width="9.83" height="9.83" fill="#f4f3f3"/>
<rect x="527.56" y="292.11" width="9.83" height="9.83" fill="#f4f3f3"/>
<rect x="537.39" y="292.11" width="9.83" height="9.83" fill="#f8b4a1"/>
<rect x="547.22" y="292.11" width="9.83" height="9.83" fill="#f4f3f3"/>
<rect x="557.05" y="292.11" width="9.83" height="9.83" fill="#f4f3f3"/>
<rect x="566.88" y="292.11" width="9.83" height="9.83" fill="#f4f3f3"/>
<rect x="576.71" y="292.11" width="9.83" height="9.83" fill="#f4f3f3"/>
<rect x="586.54" y="292.11" width="9.83" height="9.83" fill="#f4f3f3"/>
<rect x="596.37" y="292.11" width="9.83" height="9.83" fill="#f4f3f3"/>
<rect x="606.20" y="292.11" width="9.83" height="9.83" fill="#f4f3f3"/>
<rect x="616.03" y="292.11" width="9.83" height="9.83" fill="#f4f3f3"/>
<rect x="625.86" y="292.11" width="9.83" height="9.83" fill="#4467b3"/>
<rect x="635.69" y="292.11" width="9.83" height="9.83" fill="#f4f3f3"/>
<rect x="645.52" y="292.11" width="9.83" height="9.83" fill="#f4f3f3"/>
<rect x="458.75" y="301.94" width="9.83" height="9.83" fill="#f4f3f3"/>
<rect x="468.58" y="301.94" width="9.83" height="9.83" fill="#f4f3f3"/>
<rect x="478.41" y="301.94" width="9.83" height="9.83" fill="#f4f3f3"/>
<rect x="488.24" y="301.94" width="9.83" height="9.83" fill="#f4f3f3"/>
<rect x="498.07" y="301.94" width="9.83" height="9.83" fill="#f4f3f3"/>
<rect x="507.90" y="301.94" width="9.83" height="9.83" fill="#f4f3f3"/>
<rect x="517.73" y="301.94" width="9.83" height="9.83" fill="#f4f3f3"/>
<rect x="527.56" y="301.94" width="9.83" height="9.83" fill="#f4f3f3"/>
<rect x="537.39" y="301.94" width="9.83" height="9.83" fill="#f4f3f3"/>
<rect x="547.22" y="301.94" width="9.83" height="9.83" fill="#f4f3f3"/>
<rect x="557.05" y="301.94" width="9.83" height="9.83" fill="#f4f3f3"/>
<rect x="566.88" y="301.94" width="9.83" height="9.83" fill="#f4f3f3"/>
<rect x="576.71" y="301.94" width="9.83" height="9.83" fill="#f4f3f3"/>
<rect x="586.54" y="301.94" width="9.83" height="9.83" fill="#f4f3f3"/>
<rect x="596.37" y="301.94" width="9.83" height="9.83" fill="#f4f3f3"/>
<rect x="606.20" y="301.94" width="9.83" height="9.83" fill="#f4f3f3"/>
<rect x="616.03" y="301.94" width="9.83" height="9.83" fill="#f4f3f3"/>
<rect x="625.86" y="301.94" width="9.83" height="9.83" fill="#f4f3f3"/>
<rect x="635.69" y="301.94" width="9.83" height="9.83" fill="#3389c3"/>
<rect x="645.52" y="301.94" width="9.83" height="9.83" fill="#f4f3f3"/>
<rect x="458.75" y="311.77" width="9.83" height="9.83" fill="#f4f3f3"/>
<rect x="468.58" y="311.77" width="9.83" height="9.83" fill="#f4f3f3"/>
<rect x="478.41" y="311.77" width="9.83" height="9.83" fill="#f4f3f3"/>
<rect x="488.24" y="311.77" width="9.83" height="9.83" fill="#f4f3f3"/>
<rect x="498.07" y="311.77" width="9.83" height="9.83" fill="#f4f3f3"/>
<rect x="507.90" y="311.77" width="9.83" height="9.83" fill="#f4f3f3"/>
<rect x="517.73" y="311.77" width="9.83" height="9.83" fill="#f4f3f3"/>
<rect x="527.56" y="311.77" width="9.83" height="9.83" fill="#f4f3f3"/>
<rect x="537.39" y="311.77" width="9.83" height="9.83" fill="#f4f3f3"/>
<rect x="547.22" y="311.77" width="9.83" height="9.83" fill="#f4f3f3"/>
<rect x="557.05" y="311.77" width="9.83" height="9.83" fill="#f7d4cb"/>
<rect x="566.88" y="311.77" width="9.83" height="9.83" fill="#f4f3f3"/>
<rect x="576.71" y="311.77" width="9.83" height="9.83" fill="#f4f3f3"/>
<rect x="586.54" y="311.77" width="9.83" height="9.83" fill="#f4f3f3"/>
<rect x="596.37" y="311.77" width="9.83" height="9.83" fill="#f4f3f3"/>
<rect x="606.20" y="311.77" width="9.83" height="9.83" fill="#f4f3f3"/>
<rect x="616.03" y="311.77" width="9.83" height="9.83" fill="#f4f3f3"/>
<rect x="625.86" y="311.77" width="9.83" height="9.83" fill="#f4f3f3"/>
<rect x="635.69" y="311.77" width="9.83" height="9.83" fill="#f4f3f3"/>
<rect x="645.52" y="311.77" width="9.83" height="9.83" fill="#3c77ba"/>
</g>
<g font-size="3.2" text-anchor="middle" fill="#444444" stroke="#444444" stroke-width="0.04">
<text x="473.5" y="131.4">0.0</text>
<text x="483.3" y="131.4">0.0</text>
<text x="493.2" y="131.4">0.0</text>
<text x="503.0" y="131.4">0.0</text>
<text x="512.8" y="131.4">0.0</text>
<text x="522.6" y="131.4">0.0</text>
<text x="532.5" y="131.4">0.0</text>
<text x="542.3" y="131.4">0.0</text>
<text x="552.1" y="131.4">0.0</text>
<text x="562.0" y="131.4">0.0</text>
<text x="571.8" y="131.4">0.0</text>
<text x="581.6" y="131.4">0.0</text>
<text x="591.5" y="131.4">0.0</text>
<text x="601.3" y="131.4">0.0</text>
<text x="611.1" y="131.4">0.0</text>
<text x="620.9" y="131.4">0.0</text>
<text x="630.8" y="131.4">0.0</text>
<text x="640.6" y="131.4">0.0</text>
<text x="650.4" y="131.4">0.0</text>
<text x="463.7" y="141.2">0.0</text>
<text x="483.3" y="141.2">0.0</text>
<text x="493.2" y="141.2">3.9</text>
<text x="503.0" y="141.2">0.0</text>
<text x="512.8" y="141.2">0.0</text>
<text x="522.6" y="141.2">0.0</text>
<text x="532.5" y="141.2">0.0</text>
<text x="542.3" y="141.2">0.0</text>
<text x="552.1" y="141.2">0.0</text>
<text x="562.0" y="141.2">0.0</text>
<text x="571.8" y="141.2">0.0</text>
<text x="581.6" y="141.2">0.0</text>
<text x="591.5" y="141.2">0.0</text>
<text x="601.3" y="141.2">0.0</text>
<text x="611.1" y="141.2">0.0</text>
<text x="620.9" y="141.2">0.0</text>
<text x="630.8" y="141.2">0.0</text>
<text x="640.6" y="141.2">0.0</text>
<text x="650.4" y="141.2">0.0</text>
<text x="463.7" y="151.0">0.0</text>
<text x="473.5" y="151.0">0.0</text>
<text x="493.2" y="151.0">0.0</text>
<text x="503.0" y="151.0">0.0</text>
<text x="512.8" y="151.0">0.0</text>
<text x="522.6" y="151.0">0.0</text>
<text x="532.5" y="151.0">0.0</text>
<text x="542.3" y="151.0">0.0</text>
<text x="552.1" y="151.0">0.0</text>
<text x="562.0" y="151.0">0.0</text>
<text x="571.8" y="151.0">0.0</text>
<text x="581.6" y="151.0">0.0</text>
<text x="591.5" y="151.0">0.0</text>
<text x="601.3" y="151.0">0.0</text>
<text x="611.1" y="151.0">0.0</text>
<text x="620.9" y="151.0">0.0</text>
<text x="630.8" y="151.0">0.0</text>
<text x="640.6" y="151.0">0.0</text>
<text x="650.4" y="151.0">0.0</text>
<text x="463.7" y="160.9">0.0</text>
<text x="473.5" y="160.9">0.1</text>
<text x="483.3" y="160.9">0.0</text>
<text x="503.0" y="160.9">0.0</text>
<text x="512.8" y="160.9">0.0</text>
<text x="522.6" y="160.9">0.0</text>
<text x="532.5" y="160.9">0.0</text>
<text x="542.3" y="160.9">0.0</text>
<text x="552.1" y="160.9">16.0</text>
<text x="562.0" y="160.9">0.0</text>
<text x="571.8" y="160.9">0.0</text>
<text x="581.6" y="160.9">0.0</text>
<text x="591.5" y="160.9">0.0</text>
<text x="601.3" y="160.9">0.0</text>
<text x="611.1" y="160.9">0.0</text>
<text x="620.9" y="160.9">0.0</text>
<text x="630.8" y="160.9">0.0</text>
<text x="640.6" y="160.9">0.0</text>
<text x="650.4" y="160.9">0.0</text>
<text x="463.7" y="170.7">0.0</text>
<text x="473.5" y="170.7">0.0</text>
<text x="483.3" y="170.7">0.0</text>
<text x="493.2" y="170.7">0.0</text>
<text x="512.8" y="170.7">1.8</text>
<text x="522.6" y="170.7">0.0</text>
<text x="532.5" y="170.7">0.0</text>
<text x="542.3" y="170.7">0.0</text>
<text x="552.1" y="170.7">16.8</text>
<text x="562.0" y="170.7">0.0</text>
<text x="571.8" y="170.7">0.0</text>
<text x="581.6" y="170.7">0.0</text>
<text x="591.5" y="170.7">0.0</text>
<text x="601.3" y="170.7">0.0</text>
<text x="611.1" y="170.7">0.0</text>
<text x="620.9" y="170.7">0.0</text>
<text x="630.8" y="170.7">0.0</text>
<text x="640.6" y="170.7">0.0</text>
<text x="650.4" y="170.7">0.0</text>
<text x="463.7" y="180.5">0.0</text>
<text x="473.5" y="180.5">0.0</text>
<text x="483.3" y="180.5">0.0</text>
<text x="493.2" y="180.5">0.4</text>
<text x="503.0" y="180.5">0.0</text>
<text x="522.6" y="180.5">0.0</text>
<text x="532.5" y="180.5">0.0</text>
<text x="542.3" y="180.5">2.5</text>
<text x="552.1" y="180.5">0.0</text>
<text x="562.0" y="180.5">0.0</text>
<text x="571.8" y="180.5">1.8</text>
<text x="581.6" y="180.5">0.0</text>
<text x="591.5" y="180.5">0.0</text>
<text x="601.3" y="180.5">0.0</text>
<text x="611.1" y="180.5">0.0</text>
<text x="620.9" y="180.5">0.0</text>
<text x="630.8" y="180.5">0.0</text>
<text x="640.6" y="180.5">0.0</text>
<text x="650.4" y="180.5">0.0</text>
<text x="463.7" y="190.3">0.0</text>
<text x="473.5" y="190.3">0.0</text>
<text x="483.3" y="190.3">0.0</text>
<text x="493.2" y="190.3">0.0</text>
<text x="503.0" y="190.3">0.0</text>
<text x="512.8" y="190.3">0.0</text>
<text x="532.5" y="190.3">0.0</text>
<text x="542.3" y="190.3">0.0</text>
<text x="552.1" y="190.3">0.0</text>
<text x="562.0" y="190.3">0.0</text>
<text x="571.8" y="190.3">0.0</text>
<text x="581.6" y="190.3">0.0</text>
<text x="591.5" y="190.3">0.7</text>
<text x="601.3" y="190.3">0.0</text>
<text x="611.1" y="190.3">0.0</text>
<text x="620.9" y="190.3">0.0</text>
<text x="630.8" y="190.3">16.8</text>
<text x="640.6" y="190.3">0.0</text>
<text x="650.4" y="190.3">0.0</text>
<text x="463.7" y="200.2">0.0</text>
<text x="473.5" y="200.2">0.0</text>
<text x="483.3" y="200.2">0.0</text>
<text x="493.2" y="200.2">0.0</text>
<text x="503.0" y="200.2">0.0</text>
<text x="512.8" y="200.2">0.0</text>
<text x="522.6" y="200.2">0.0</text>
<text x="552.1" y="200.2">0.0</text>
<text x="562.0" y="200.2">0.0</text>
<text x="571.8" y="200.2">0.0</text>
<text x="581.6" y="200.2">0.0</text>
<text x="591.5" y="200.2">0.0</text>
<text x="601.3" y="200.2">0.0</text>
<text x="611.1" y="200.2">0.0</text>
<text x="620.9" y="200.2">0.0</text>
<text x="630.8" y="200.2">0.0</text>
<text x="640.6" y="200.2">0.0</text>
<text x="650.4" y="200.2">0.0</text>
<text x="463.7" y="210.0">0.0</text>
<text x="473.5" y="210.0">0.0</text>
<text x="483.3" y="210.0">0.0</text>
<text x="493.2" y="210.0">0.0</text>
<text x="503.0" y="210.0">0.0</text>
<text x="512.8" y="210.0">18.4</text>
<text x="522.6" y="210.0">3.2</text>
<text x="532.5" y="210.0">0.0</text>
<text x="552.1" y="210.0">0.4</text>
<text x="562.0" y="210.0">0.0</text>
<text x="571.8" y="210.0">0.0</text>
<text x="581.6" y="210.0">1.4</text>
<text x="591.5" y="210.0">0.0</text>
<text x="601.3" y="210.0">0.7</text>
<text x="611.1" y="210.0">0.0</text>
<text x="620.9" y="210.0">0.0</text>
<text x="640.6" y="210.0">0.0</text>
<text x="650.4" y="210.0">0.0</text>
<text x="463.7" y="219.8">0.0</text>
<text x="473.5" y="219.8">0.0</text>
<text x="483.3" y="219.8">0.0</text>
<text x="493.2" y="219.8">0.0</text>
<text x="512.8" y="219.8">0.0</text>
<text x="522.6" y="219.8">0.0</text>
<text x="532.5" y="219.8">0.0</text>
<text x="542.3" y="219.8">0.0</text>
<text x="562.0" y="219.8">0.0</text>
<text x="571.8" y="219.8">0.0</text>
<text x="581.6" y="219.8">0.0</text>
<text x="591.5" y="219.8">0.0</text>
<text x="601.3" y="219.8">0.0</text>
<text x="611.1" y="219.8">0.0</text>
<text x="620.9" y="219.8">0.0</text>
<text x="630.8" y="219.8">0.0</text>
<text x="640.6" y="219.8">0.0</text>
<text x="650.4" y="219.8">0.0</text>
<text x="463.7" y="229.7">0.0</text>
<text x="473.5" y="229.7">0.0</text>
<text x="483.3" y="229.7">0.0</text>
<text x="493.2" y="229.7">0.0</text>
<text x="503.0" y="229.7">0.0</text>
<text x="512.8" y="229.7">0.0</text>
<text x="522.6" y="229.7">0.0</text>
<text x="532.5" y="229.7">0.0</text>
<text x="542.3" y="229.7">0.0</text>
<text x="552.1" y="229.7">0.0</text>
<text x="571.8" y="229.7">0.0</text>
<text x="581.6" y="229.7">0.0</text>
<text x="591.5" y="229.7">0.0</text>
<text x="601.3" y="229.7">0.0</text>
<text x="611.1" y="229.7">0.0</text>
<text x="620.9" y="229.7">0.0</text>
<text x="630.8" y="229.7">0.0</text>
<text x="640.6" y="229.7">0.0</text>
<text x="650.4" y="229.7">0.0</text>
<text x="463.7" y="239.5">0.0</text>
<text x="473.5" y="239.5">0.0</text>
<text x="483.3" y="239.5">0.0</text>
<text x="493.2" y="239.5">0.0</text>
<text x="503.0" y="239.5">0.0</text>
<text x="512.8" y="239.5">1.4</text>
<text x="522.6" y="239.5">0.0</text>
<text x="532.5" y="239.5">0.0</text>
<text x="542.3" y="239.5">0.0</text>
<text x="552.1" y="239.5">0.0</text>
<text x="562.0" y="239.5">0.0</text>
<text x="581.6" y="239.5">0.0</text>
<text x="591.5" y="239.5">0.0</text>
<text x="601.3" y="239.5">0.0</text>
<text x="611.1" y="239.5">0.0</text>
<text x="620.9" y="239.5">0.0</text>
<text x="630.8" y="239.5">0.0</text>
<text x="640.6" y="239.5">0.0</text>
<text x="650.4" y="239.5">0.0</text>
<text x="463.7" y="249.3">0.0</text>
<text x="473.5" y="249.3">0.0</text>
<text x="483.3" y="249.3">0.0</text>
<text x="493.2" y="249.3">0.0</text>
<text x="503.0" y="249.3">0.0</text>
<text x="512.8" y="249.3">0.0</text>
<text x="522.6" y="249.3">0.0</text>
<text x="532.5" y="249.3">0.0</text>
<text x="542.3" y="249.3">12.5</text>
<text x="552.1" y="249.3">0.0</text>
<text x="562.0" y="249.3">0.0</text>
<text x="571.8" y="249.3">0.0</text>
<text x="591.5" y="249.3">0.0</text>
<text x="601.3" y="249.3">0.0</text>
<text x="611.1" y="249.3">0.0</text>
<text x="620.9" y="249.3">0.0</text>
<text x="630.8" y="249.3">0.0</text>
<text x="640.6" y="249.3">0.0</text>
<text x="650.4" y="249.3">0.0</text>
<text x="463.7" y="259.2">0.0</text>
<text x="473.5" y="259.2">0.0</text>
<text x="483.3" y="259.2">0.0</text>
<text x="493.2" y="259.2">0.0</text>
<text x="503.0" y="259.2">0.4</text>
<text x="512.8" y="259.2">0.7</text>
<text x="522.6" y="259.2">1.1</text>
<text x="532.5" y="259.2">0.0</text>
<text x="542.3" y="259.2">11.4</text>
<text x="552.1" y="259.2">0.0</text>
<text x="562.0" y="259.2">0.0</text>
<text x="571.8" y="259.2">0.0</text>
<text x="581.6" y="259.2">0.0</text>
<text x="601.3" y="259.2">0.0</text>
<text x="611.1" y="259.2">0.0</text>
<text x="620.9" y="259.2">0.0</text>
<text x="630.8" y="259.2">2.5</text>
<text x="640.6" y="259.2">0.0</text>
<text x="650.4" y="259.2">0.4</text>
<text x="463.7" y="269.0">0.0</text>
<text x="473.5" y="269.0">0.0</text>
<text x="483.3" y="269.0">0.0</text>
<text x="493.2" y="269.0">0.0</text>
<text x="503.0" y="269.0">0.0</text>
<text x="512.8" y="269.0">0.0</text>
<text x="522.6" y="269.0">0.0</text>
<text x="532.5" y="269.0">1.8</text>
<text x="542.3" y="269.0">19.5</text>
<text x="552.1" y="269.0">0.0</text>
<text x="562.0" y="269.0">0.0</text>
<text x="571.8" y="269.0">0.0</text>
<text x="581.6" y="269.0">0.4</text>
<text x="591.5" y="269.0">0.0</text>
<text x="611.1" y="269.0">2.5</text>
<text x="620.9" y="269.0">0.0</text>
<text x="630.8" y="269.0">0.0</text>
<text x="640.6" y="269.0">0.0</text>
<text x="650.4" y="269.0">0.0</text>
<text x="463.7" y="278.8">0.0</text>
<text x="473.5" y="278.8">0.0</text>
<text x="483.3" y="278.8">0.0</text>
<text x="493.2" y="278.8">0.0</text>
<text x="503.0" y="278.8">0.0</text>
<text x="512.8" y="278.8">0.0</text>
<text x="522.6" y="278.8">0.0</text>
<text x="532.5" y="278.8">0.0</text>
<text x="542.3" y="278.8">0.4</text>
<text x="552.1" y="278.8">0.0</text>
<text x="562.0" y="278.8">0.0</text>
<text x="571.8" y="278.8">0.0</text>
<text x="581.6" y="278.8">1.4</text>
<text x="591.5" y="278.8">0.0</text>
<text x="601.3" y="278.8">0.0</text>
<text x="620.9" y="278.8">0.0</text>
<text x="630.8" y="278.8">0.0</text>
<text x="640.6" y="278.8">18.0</text>
<text x="650.4" y="278.8">0.0</text>
<text x="463.7" y="288.6">0.0</text>
<text x="473.5" y="288.6">0.0</text>
<text x="483.3" y="288.6">0.0</text>
<text x="493.2" y="288.6">0.0</text>
<text x="503.0" y="288.6">0.0</text>
<text x="512.8" y="288.6">0.0</text>
<text x="522.6" y="288.6">0.0</text>
<text x="532.5" y="288.6">0.0</text>
<text x="542.3" y="288.6">0.0</text>
<text x="552.1" y="288.6">0.0</text>
<text x="562.0" y="288.6">0.0</text>
<text x="571.8" y="288.6">0.0</text>
<text x="581.6" y="288.6">0.0</text>
<text x="591.5" y="288.6">0.0</text>
<text x="601.3" y="288.6">0.0</text>
<text x="611.1" y="288.6">0.0</text>
<text x="630.8" y="288.6">0.0</text>
<text x="640.6" y="288.6">0.0</text>
<text x="650.4" y="288.6">0.0</text>
<text x="463.7" y="298.5">0.0</text>
<text x="473.5" y="298.5">0.0</text>
<text x="483.3" y="298.5">0.0</text>
<text x="493.2" y="298.5">0.0</text>
<text x="503.0" y="298.5">0.0</text>
<text x="512.8" y="298.5">0.0</text>
<text x="522.6" y="298.5">0.0</text>
<text x="532.5" y="298.5">0.0</text>
<text x="542.3" y="298.5">10.2</text>
<text x="552.1" y="298.5">0.0</text>
<text x="562.0" y="298.5">0.0</text>
<text x="571.8" y="298.5">0.0</text>
<text x="581.6" y="298.5">0.0</text>
<text x="591.5" y="298.5">2.1</text>
<text x="601.3" y="298.5">0.0</text>
<text x="611.1" y="298.5">0.0</text>
<text x="620.9" y="298.5">0.0</text>
<text x="640.6" y="298.5">0.0</text>
<text x="650.4" y="298.5">0.0</text>
<text x="463.7" y="308.3">0.0</text>
<text x="473.5" y="308.3">0.0</text>
<text x="483.3" y="308.3">0.0</text>
<text x="493.2" y="308.3">0.0</text>
<text x="503.0" y="308.3">0.0</text>
<text x="512.8" y="308.3">0.0</text>
<text x="522.6" y="308.3">0.0</text>
<text x="532.5" y="308.3">0.0</text>
<text x="542.3" y="308.3">0.0</text>
<text x="552.1" y="308.3">0.0</text>
<text x="562.0" y="308.3">0.0</text>
<text x="571.8" y="308.3">0.0</text>
<text x="581.6" y="308.3">0.0</text>
<text x="591.5" y="308.3">0.0</text>
<text x="601.3" y="308.3">0.0</text>
<text x="611.1" y="308.3">0.0</text>
<text x="620.9" y="308.3">0.0</text>
<text x="630.8" y="308.3">0.0</text>
<text x="650.4" y="308.3">0.0</text>
<text x="463.7" y="318.1">0.0</text>
<text x="473.5" y="318.1">0.0</text>
<text x="483.3" y="318.1">1.4</text>
<text x="493.2" y="318.1">0.0</text>
<text x="503.0" y="318.1">0.0</text>
<text x="512.8" y="318.1">0.0</text>
<text x="522.6" y="318.1">0.7</text>
<text x="532.5" y="318.1">1.4</text>
<text x="542.3" y="318.1">0.0</text>
<text x="552.1" y="318.1">0.0</text>
<text x="562.0" y="318.1">5.4</text>
<text x="571.8" y="318.1">0.0</text>
<text x="581.6" y="318.1">0.0</text>
<text x="591.5" y="318.1">0.0</text>
<text x="601.3" y="318.1">0.0</text>
<text x="611.1" y="318.1">0.0</text>
<text x="620.9" y="318.1">0.0</text>
<text x="630.8" y="318.1">0.4</text>
<text x="640.6" y="318.1">0.0</text>
</g>
<g font-size="3.2" text-anchor="middle" fill="#ffffff" stroke="#ffffff" stroke-width="0.04">
<text x="463.7" y="131.4">100.0</text>
<text x="473.5" y="141.2">96.1</text>
<text x="483.3" y="151.0">100.0</text>
<text x="493.2" y="160.9">82.9</text>
<text x="503.0" y="170.7">81.4</text>
<text x="512.8" y="180.5">94.6</text>
<text x="522.6" y="190.3">82.4</text>
<text x="532.5" y="200.2">79.9</text>
<text x="542.3" y="200.2">20.2</text>
<text x="542.3" y="210.0">42.9</text>
<text x="630.8" y="210.0">36.1</text>
<text x="503.0" y="219.8">37.9</text>
<text x="552.1" y="219.8">62.1</text>
<text x="562.0" y="229.7">100.0</text>
<text x="571.8" y="239.5">98.6</text>
<text x="581.6" y="249.3">87.5</text>
<text x="591.5" y="259.2">83.6</text>
<text x="601.3" y="269.0">76.8</text>
<text x="611.1" y="278.8">80.2</text>
<text x="620.9" y="288.6">100.0</text>
<text x="630.8" y="298.5">87.5</text>
<text x="640.6" y="308.3">100.0</text>
<text x="650.4" y="318.1">90.7</text>
</g>
<g font-size="3.1" text-anchor="end" fill="#1a1a1a" stroke="#1a1a1a" stroke-width="0.14">
<text x="457.1" y="130.8">PA01</text>
<text x="457.1" y="140.6">PA05</text>
<text x="457.1" y="150.4">PA06</text>
<text x="457.1" y="160.3">PA10</text>
<text x="457.1" y="170.1">PA15</text>
<text x="457.1" y="179.9">PA20</text>
<text x="457.1" y="189.7">PA21</text>
<text x="457.1" y="199.6">PA26</text>
<text x="457.1" y="209.4">PA30</text>
<text x="457.1" y="219.2">PA31</text>
<text x="457.1" y="229.1">PA37</text>
<text x="457.1" y="238.9">PA39</text>
<text x="457.1" y="248.7">PA44</text>
<text x="457.1" y="258.6">PA49</text>
<text x="457.1" y="268.4">PA55</text>
<text x="457.1" y="278.2">PA56</text>
<text x="457.1" y="288.0">PA57</text>
<text x="457.1" y="297.9">PA58</text>
<text x="457.1" y="307.7">PA65</text>
<text x="457.1" y="317.5">PA68</text>
</g>
<g font-size="3.2" text-anchor="middle" fill="#1a1a1a" stroke="#1a1a1a" stroke-width="0.08">
<text x="463.7" y="325.3">PA01</text>
<text x="473.5" y="325.3">PA05</text>
<text x="483.3" y="325.3">PA06</text>
<text x="493.2" y="325.3">PA10</text>
<text x="503.0" y="325.3">PA15</text>
<text x="512.8" y="325.3">PA20</text>
<text x="522.6" y="325.3">PA21</text>
<text x="532.5" y="325.3">PA26</text>
<text x="542.3" y="325.3">PA30</text>
<text x="552.1" y="325.3">PA31</text>
<text x="562.0" y="325.3">PA37</text>
<text x="571.8" y="325.3">PA39</text>
<text x="581.6" y="325.3">PA44</text>
<text x="591.5" y="325.3">PA49</text>
<text x="601.3" y="325.3">PA55</text>
<text x="611.1" y="325.3">PA56</text>
<text x="620.9" y="325.3">PA57</text>
<text x="630.8" y="325.3">PA58</text>
<text x="640.6" y="325.3">PA65</text>
<text x="650.4" y="325.3">PA68</text>
</g>
<text x="557.05" y="115.70" font-size="4.6" text-anchor="middle" font-weight="normal" fill="#262626" stroke="#262626" stroke-width="0.12" >SVM Strain Characterisation Confusion Matrix</text>
<text x="557.05" y="120.60" font-size="4.6" text-anchor="middle" font-weight="normal" fill="#262626" stroke="#262626" stroke-width="0.12" >Multi-Excitation</text>
<text x="557.05" y="330.30" font-size="4.6" text-anchor="middle" font-weight="normal" fill="#262626" stroke="#262626" stroke-width="0.12" >Predicted Strain Label</text>
<text transform="translate(446.85,223.30) rotate(-90)" font-size="4.7" text-anchor="middle" fill="#262626" stroke="#262626" stroke-width="0.12">True Strain Label</text>
<text x="436.60" y="113.70" font-size="13.5" text-anchor="start" font-weight="bold" fill="#000" >d</text>
<rect x="668.8" y="311.77" width="10.0" height="9.94" fill="#f4f3f3"/>
<rect x="668.8" y="301.93" width="10.0" height="9.94" fill="#f7d4cb"/>
<rect x="668.8" y="292.10" width="10.0" height="9.94" fill="#f8b4a1"/>
<rect x="668.8" y="282.26" width="10.0" height="9.94" fill="#f8967b"/>
<rect x="668.8" y="272.43" width="10.0" height="9.94" fill="#f46e50"/>
<rect x="668.8" y="262.59" width="10.0" height="9.94" fill="#ed6146"/>
<rect x="668.8" y="252.76" width="10.0" height="9.94" fill="#e54b39"/>
<rect x="668.8" y="242.92" width="10.0" height="9.94" fill="#dd3429"/>
<rect x="668.8" y="233.09" width="10.0" height="9.94" fill="#d4242a"/>
<rect x="668.8" y="223.25" width="10.0" height="9.94" fill="#c81c2e"/>
<rect x="668.8" y="213.42" width="10.0" height="9.94" fill="#b51438"/>
<rect x="668.8" y="203.58" width="10.0" height="9.94" fill="#a30c4a"/>
<rect x="668.8" y="193.75" width="10.0" height="9.94" fill="#990c5a"/>
<rect x="668.8" y="183.91" width="10.0" height="9.94" fill="#7e2a7a"/>
<rect x="668.8" y="174.08" width="10.0" height="9.94" fill="#6e3a8c"/>
<rect x="668.8" y="164.24" width="10.0" height="9.94" fill="#5c4b9c"/>
<rect x="668.8" y="154.41" width="10.0" height="9.94" fill="#4d59a8"/>
<rect x="668.8" y="144.57" width="10.0" height="9.94" fill="#4467b3"/>
<rect x="668.8" y="134.74" width="10.0" height="9.94" fill="#3c77ba"/>
<rect x="668.8" y="124.90" width="10.0" height="9.94" fill="#3389c3"/>
<line x1="678.8" x2="679.8" y1="321.60" y2="321.60" stroke="#444" stroke-width="0.3"/>
<text x="679.70" y="322.30" font-size="2.9" text-anchor="start" font-weight="normal" fill="#333" stroke="#333" stroke-width="0.06" >0</text>
<line x1="678.8" x2="679.8" y1="311.77" y2="311.77" stroke="#444" stroke-width="0.3"/>
<text x="679.70" y="312.47" font-size="2.9" text-anchor="start" font-weight="normal" fill="#333" stroke="#333" stroke-width="0.06" >5</text>
<line x1="678.8" x2="679.8" y1="301.93" y2="301.93" stroke="#444" stroke-width="0.3"/>
<text x="679.70" y="302.63" font-size="2.9" text-anchor="start" font-weight="normal" fill="#333" stroke="#333" stroke-width="0.06" >10</text>
<line x1="678.8" x2="679.8" y1="292.10" y2="292.10" stroke="#444" stroke-width="0.3"/>
<text x="679.70" y="292.80" font-size="2.9" text-anchor="start" font-weight="normal" fill="#333" stroke="#333" stroke-width="0.06" >15</text>
<line x1="678.8" x2="679.8" y1="282.26" y2="282.26" stroke="#444" stroke-width="0.3"/>
<text x="679.70" y="282.96" font-size="2.9" text-anchor="start" font-weight="normal" fill="#333" stroke="#333" stroke-width="0.06" >20</text>
<line x1="678.8" x2="679.8" y1="272.43" y2="272.43" stroke="#444" stroke-width="0.3"/>
<text x="679.70" y="273.12" font-size="2.9" text-anchor="start" font-weight="normal" fill="#333" stroke="#333" stroke-width="0.06" >25</text>
<line x1="678.8" x2="679.8" y1="262.59" y2="262.59" stroke="#444" stroke-width="0.3"/>
<text x="679.70" y="263.29" font-size="2.9" text-anchor="start" font-weight="normal" fill="#333" stroke="#333" stroke-width="0.06" >30</text>
<line x1="678.8" x2="679.8" y1="252.76" y2="252.76" stroke="#444" stroke-width="0.3"/>
<text x="679.70" y="253.46" font-size="2.9" text-anchor="start" font-weight="normal" fill="#333" stroke="#333" stroke-width="0.06" >35</text>
<line x1="678.8" x2="679.8" y1="242.92" y2="242.92" stroke="#444" stroke-width="0.3"/>
<text x="679.70" y="243.62" font-size="2.9" text-anchor="start" font-weight="normal" fill="#333" stroke="#333" stroke-width="0.06" >40</text>
<line x1="678.8" x2="679.8" y1="233.09" y2="233.09" stroke="#444" stroke-width="0.3"/>
<text x="679.70" y="233.78" font-size="2.9" text-anchor="start" font-weight="normal" fill="#333" stroke="#333" stroke-width="0.06" >45</text>
<line x1="678.8" x2="679.8" y1="223.25" y2="223.25" stroke="#444" stroke-width="0.3"/>
<text x="679.70" y="223.95" font-size="2.9" text-anchor="start" font-weight="normal" fill="#333" stroke="#333" stroke-width="0.06" >50</text>
<line x1="678.8" x2="679.8" y1="213.42" y2="213.42" stroke="#444" stroke-width="0.3"/>
<text x="679.70" y="214.12" font-size="2.9" text-anchor="start" font-weight="normal" fill="#333" stroke="#333" stroke-width="0.06" >55</text>
<line x1="678.8" x2="679.8" y1="203.58" y2="203.58" stroke="#444" stroke-width="0.3"/>
<text x="679.70" y="204.28" font-size="2.9" text-anchor="start" font-weight="normal" fill="#333" stroke="#333" stroke-width="0.06" >60</text>
<line x1="678.8" x2="679.8" y1="193.75" y2="193.75" stroke="#444" stroke-width="0.3"/>
<text x="679.70" y="194.44" font-size="2.9" text-anchor="start" font-weight="normal" fill="#333" stroke="#333" stroke-width="0.06" >65</text>
<line x1="678.8" x2="679.8" y1="183.91" y2="183.91" stroke="#444" stroke-width="0.3"/>
<text x="679.70" y="184.61" font-size="2.9" text-anchor="start" font-weight="normal" fill="#333" stroke="#333" stroke-width="0.06" >70</text>
<line x1="678.8" x2="679.8" y1="174.08" y2="174.08" stroke="#444" stroke-width="0.3"/>
<text x="679.70" y="174.78" font-size="2.9" text-anchor="start" font-weight="normal" fill="#333" stroke="#333" stroke-width="0.06" >75</text>
<line x1="678.8" x2="679.8" y1="164.24" y2="164.24" stroke="#444" stroke-width="0.3"/>
<text x="679.70" y="164.94" font-size="2.9" text-anchor="start" font-weight="normal" fill="#333" stroke="#333" stroke-width="0.06" >80</text>
<line x1="678.8" x2="679.8" y1="154.41" y2="154.41" stroke="#444" stroke-width="0.3"/>
<text x="679.70" y="155.10" font-size="2.9" text-anchor="start" font-weight="normal" fill="#333" stroke="#333" stroke-width="0.06" >85</text>
<line x1="678.8" x2="679.8" y1="144.57" y2="144.57" stroke="#444" stroke-width="0.3"/>
<text x="679.70" y="145.27" font-size="2.9" text-anchor="start" font-weight="normal" fill="#333" stroke="#333" stroke-width="0.06" >90</text>
<line x1="678.8" x2="679.8" y1="134.74" y2="134.74" stroke="#444" stroke-width="0.3"/>
<text x="679.70" y="135.44" font-size="2.9" text-anchor="start" font-weight="normal" fill="#333" stroke="#333" stroke-width="0.06" >95</text>
<line x1="678.8" x2="679.8" y1="124.90" y2="124.90" stroke="#444" stroke-width="0.3"/>
<text x="679.70" y="125.60" font-size="2.9" text-anchor="start" font-weight="normal" fill="#333" stroke="#333" stroke-width="0.06" >100</text>
<rect x="52.5" y="349.6" width="547.2" height="73.09999999999997" fill="#fff" stroke="#e6e6e6" stroke-width="0.5"/>
<line x1="52.5" x2="599.7" y1="422.70" y2="422.70" stroke="#e8e8e8" stroke-width="0.55"/>
<line x1="52.5" x2="599.7" y1="419.05" y2="419.05" stroke="#e8e8e8" stroke-width="0.55"/>
<line x1="52.5" x2="599.7" y1="415.39" y2="415.39" stroke="#e8e8e8" stroke-width="0.55"/>
<line x1="52.5" x2="599.7" y1="411.74" y2="411.74" stroke="#e8e8e8" stroke-width="0.55"/>
<line x1="52.5" x2="599.7" y1="408.08" y2="408.08" stroke="#e8e8e8" stroke-width="0.55"/>
<line x1="52.5" x2="599.7" y1="404.43" y2="404.43" stroke="#e8e8e8" stroke-width="0.55"/>
<line x1="52.5" x2="599.7" y1="400.77" y2="400.77" stroke="#e8e8e8" stroke-width="0.55"/>
<line x1="52.5" x2="599.7" y1="397.12" y2="397.12" stroke="#e8e8e8" stroke-width="0.55"/>
<line x1="52.5" x2="599.7" y1="393.46" y2="393.46" stroke="#e8e8e8" stroke-width="0.55"/>
<line x1="52.5" x2="599.7" y1="389.81" y2="389.81" stroke="#e8e8e8" stroke-width="0.55"/>
<line x1="52.5" x2="599.7" y1="386.15" y2="386.15" stroke="#e8e8e8" stroke-width="0.55"/>
<line x1="52.5" x2="599.7" y1="382.50" y2="382.50" stroke="#e8e8e8" stroke-width="0.55"/>
<line x1="52.5" x2="599.7" y1="378.84" y2="378.84" stroke="#e8e8e8" stroke-width="0.55"/>
<line x1="52.5" x2="599.7" y1="375.19" y2="375.19" stroke="#e8e8e8" stroke-width="0.55"/>
<line x1="52.5" x2="599.7" y1="371.53" y2="371.53" stroke="#e8e8e8" stroke-width="0.55"/>
<line x1="52.5" x2="599.7" y1="367.88" y2="367.88" stroke="#e8e8e8" stroke-width="0.55"/>
<line x1="52.5" x2="599.7" y1="364.22" y2="364.22" stroke="#e8e8e8" stroke-width="0.55"/>
<line x1="52.5" x2="599.7" y1="360.56" y2="360.56" stroke="#e8e8e8" stroke-width="0.55"/>
<line x1="52.5" x2="599.7" y1="356.91" y2="356.91" stroke="#e8e8e8" stroke-width="0.55"/>
<line x1="52.5" x2="599.7" y1="353.25" y2="353.25" stroke="#e8e8e8" stroke-width="0.55"/>
<line x1="52.5" x2="599.7" y1="349.60" y2="349.60" stroke="#e8e8e8" stroke-width="0.55"/>
<text x="50.90" y="424.20" font-size="4.2" text-anchor="end" font-weight="normal" fill="#262626" stroke="#262626" stroke-width="0.12" >0.00</text>
<text x="50.90" y="416.89" font-size="4.2" text-anchor="end" font-weight="normal" fill="#262626" stroke="#262626" stroke-width="0.12" >0.10</text>
<text x="50.90" y="409.58" font-size="4.2" text-anchor="end" font-weight="normal" fill="#262626" stroke="#262626" stroke-width="0.12" >0.20</text>
<text x="50.90" y="402.27" font-size="4.2" text-anchor="end" font-weight="normal" fill="#262626" stroke="#262626" stroke-width="0.12" >0.30</text>
<text x="50.90" y="394.96" font-size="4.2" text-anchor="end" font-weight="normal" fill="#262626" stroke="#262626" stroke-width="0.12" >0.40</text>
<text x="50.90" y="387.65" font-size="4.2" text-anchor="end" font-weight="normal" fill="#262626" stroke="#262626" stroke-width="0.12" >0.50</text>
<text x="50.90" y="380.34" font-size="4.2" text-anchor="end" font-weight="normal" fill="#262626" stroke="#262626" stroke-width="0.12" >0.60</text>
<text x="50.90" y="373.03" font-size="4.2" text-anchor="end" font-weight="normal" fill="#262626" stroke="#262626" stroke-width="0.12" >0.70</text>
<text x="50.90" y="365.72" font-size="4.2" text-anchor="end" font-weight="normal" fill="#262626" stroke="#262626" stroke-width="0.12" >0.80</text>
<text x="50.90" y="358.41" font-size="4.2" text-anchor="end" font-weight="normal" fill="#262626" stroke="#262626" stroke-width="0.12" >0.90</text>
<text x="50.90" y="351.10" font-size="4.2" text-anchor="end" font-weight="normal" fill="#262626" stroke="#262626" stroke-width="0.12" >1.00</text>
<text transform="translate(41.0,386.2) rotate(-90)" font-size="4.2" text-anchor="middle" fill="#262626" stroke="#262626" stroke-width="0.12">F1 Score</text>
<rect x="55.24" y="349.75" width="7.30" height="72.95" fill="#4da46f" stroke="#fff" stroke-width="0.35"/>
<rect x="62.53" y="350.92" width="7.30" height="71.78" fill="#c26868" stroke="#fff" stroke-width="0.35"/>
<rect x="69.83" y="349.75" width="7.30" height="72.95" fill="#4f7fad" stroke="#fff" stroke-width="0.35"/>
<text x="66.18" y="426.60" font-size="4.2" text-anchor="middle" font-weight="normal" fill="#262626" stroke="#262626" stroke-width="0.12" >PA01</text>
<rect x="82.60" y="360.71" width="7.30" height="61.99" fill="#4da46f" stroke="#fff" stroke-width="0.35"/>
<rect x="89.89" y="357.20" width="7.30" height="65.50" fill="#c26868" stroke="#fff" stroke-width="0.35"/>
<rect x="97.19" y="352.01" width="7.30" height="70.69" fill="#4f7fad" stroke="#fff" stroke-width="0.35"/>
<text x="93.54" y="426.60" font-size="4.2" text-anchor="middle" font-weight="normal" fill="#262626" stroke="#262626" stroke-width="0.12" >PA05</text>
<rect x="109.96" y="353.40" width="7.30" height="69.30" fill="#4da46f" stroke="#fff" stroke-width="0.35"/>
<rect x="117.25" y="349.75" width="7.30" height="72.95" fill="#c26868" stroke="#fff" stroke-width="0.35"/>
<rect x="124.55" y="350.33" width="7.30" height="72.37" fill="#4f7fad" stroke="#fff" stroke-width="0.35"/>
<text x="120.90" y="426.60" font-size="4.2" text-anchor="middle" font-weight="normal" fill="#262626" stroke="#262626" stroke-width="0.12" >PA06</text>
<rect x="137.32" y="367.88" width="7.30" height="54.82" fill="#4da46f" stroke="#fff" stroke-width="0.35"/>
<rect x="144.61" y="360.71" width="7.30" height="61.99" fill="#c26868" stroke="#fff" stroke-width="0.35"/>
<rect x="151.91" y="355.96" width="7.30" height="66.74" fill="#4f7fad" stroke="#fff" stroke-width="0.35"/>
<text x="148.26" y="426.60" font-size="4.2" text-anchor="middle" font-weight="normal" fill="#262626" stroke="#262626" stroke-width="0.12" >PA10</text>
<rect x="164.68" y="389.37" width="7.30" height="33.33" fill="#4da46f" stroke="#fff" stroke-width="0.35"/>
<rect x="171.97" y="361.81" width="7.30" height="60.89" fill="#c26868" stroke="#fff" stroke-width="0.35"/>
<rect x="179.27" y="369.70" width="7.30" height="53.00" fill="#4f7fad" stroke="#fff" stroke-width="0.35"/>
<text x="175.62" y="426.60" font-size="4.2" text-anchor="middle" font-weight="normal" fill="#262626" stroke="#262626" stroke-width="0.12" >PA15</text>
<rect x="192.04" y="366.41" width="7.30" height="56.29" fill="#4da46f" stroke="#fff" stroke-width="0.35"/>
<rect x="199.33" y="360.71" width="7.30" height="61.99" fill="#c26868" stroke="#fff" stroke-width="0.35"/>
<rect x="206.63" y="359.32" width="7.30" height="63.38" fill="#4f7fad" stroke="#fff" stroke-width="0.35"/>
<text x="202.98" y="426.60" font-size="4.2" text-anchor="middle" font-weight="normal" fill="#262626" stroke="#262626" stroke-width="0.12" >PA20</text>
<rect x="219.40" y="355.96" width="7.30" height="66.74" fill="#4da46f" stroke="#fff" stroke-width="0.35"/>
<rect x="226.69" y="375.11" width="7.30" height="47.59" fill="#c26868" stroke="#fff" stroke-width="0.35"/>
<rect x="233.99" y="359.69" width="7.30" height="63.01" fill="#4f7fad" stroke="#fff" stroke-width="0.35"/>
<text x="230.34" y="426.60" font-size="4.2" text-anchor="middle" font-weight="normal" fill="#262626" stroke="#262626" stroke-width="0.12" >PA21</text>
<rect x="246.76" y="362.25" width="7.30" height="60.45" fill="#4da46f" stroke="#fff" stroke-width="0.35"/>
<rect x="254.05" y="364.95" width="7.30" height="57.75" fill="#c26868" stroke="#fff" stroke-width="0.35"/>
<rect x="261.35" y="359.10" width="7.30" height="63.60" fill="#4f7fad" stroke="#fff" stroke-width="0.35"/>
<text x="257.70" y="426.60" font-size="4.2" text-anchor="middle" font-weight="normal" fill="#262626" stroke="#262626" stroke-width="0.12" >PA26</text>
<rect x="274.12" y="393.24" width="7.30" height="29.46" fill="#4da46f" stroke="#fff" stroke-width="0.35"/>
<rect x="281.41" y="384.98" width="7.30" height="37.72" fill="#c26868" stroke="#fff" stroke-width="0.35"/>
<rect x="288.71" y="394.19" width="7.30" height="28.51" fill="#4f7fad" stroke="#fff" stroke-width="0.35"/>
<text x="285.06" y="426.60" font-size="4.2" text-anchor="middle" font-weight="normal" fill="#262626" stroke="#262626" stroke-width="0.12" >PA30</text>
<rect x="301.48" y="384.18" width="7.30" height="38.52" fill="#4da46f" stroke="#fff" stroke-width="0.35"/>
<rect x="308.77" y="367.66" width="7.30" height="55.04" fill="#c26868" stroke="#fff" stroke-width="0.35"/>
<rect x="316.07" y="374.97" width="7.30" height="47.73" fill="#4f7fad" stroke="#fff" stroke-width="0.35"/>
<text x="312.42" y="426.60" font-size="4.2" text-anchor="middle" font-weight="normal" fill="#262626" stroke="#262626" stroke-width="0.12" >PA31</text>
<rect x="328.84" y="350.92" width="7.30" height="71.78" fill="#4da46f" stroke="#fff" stroke-width="0.35"/>
<rect x="336.13" y="350.92" width="7.30" height="71.78" fill="#c26868" stroke="#fff" stroke-width="0.35"/>
<rect x="343.43" y="351.94" width="7.30" height="70.76" fill="#4f7fad" stroke="#fff" stroke-width="0.35"/>
<text x="339.78" y="426.60" font-size="4.2" text-anchor="middle" font-weight="normal" fill="#262626" stroke="#262626" stroke-width="0.12" >PA37</text>
<rect x="356.20" y="357.49" width="7.30" height="65.21" fill="#4da46f" stroke="#fff" stroke-width="0.35"/>
<rect x="363.49" y="353.69" width="7.30" height="69.01" fill="#c26868" stroke="#fff" stroke-width="0.35"/>
<rect x="370.79" y="350.92" width="7.30" height="71.78" fill="#4f7fad" stroke="#fff" stroke-width="0.35"/>
<text x="367.14" y="426.60" font-size="4.2" text-anchor="middle" font-weight="normal" fill="#262626" stroke="#262626" stroke-width="0.12" >PA39</text>
<rect x="383.56" y="367.00" width="7.30" height="55.70" fill="#4da46f" stroke="#fff" stroke-width="0.35"/>
<rect x="390.85" y="357.49" width="7.30" height="65.21" fill="#c26868" stroke="#fff" stroke-width="0.35"/>
<rect x="398.15" y="355.89" width="7.30" height="66.81" fill="#4f7fad" stroke="#fff" stroke-width="0.35"/>
<text x="394.50" y="426.60" font-size="4.2" text-anchor="middle" font-weight="normal" fill="#262626" stroke="#262626" stroke-width="0.12" >PA44</text>
<rect x="410.92" y="358.74" width="7.30" height="63.96" fill="#4da46f" stroke="#fff" stroke-width="0.35"/>
<rect x="418.21" y="382.13" width="7.30" height="40.57" fill="#c26868" stroke="#fff" stroke-width="0.35"/>
<rect x="425.51" y="357.49" width="7.30" height="65.21" fill="#4f7fad" stroke="#fff" stroke-width="0.35"/>
<text x="421.86" y="426.60" font-size="4.2" text-anchor="middle" font-weight="normal" fill="#262626" stroke="#262626" stroke-width="0.12" >PA49</text>
<rect x="438.28" y="378.84" width="7.30" height="43.86" fill="#4da46f" stroke="#fff" stroke-width="0.35"/>
<rect x="445.57" y="384.25" width="7.30" height="38.45" fill="#c26868" stroke="#fff" stroke-width="0.35"/>
<rect x="452.87" y="359.61" width="7.30" height="63.09" fill="#4f7fad" stroke="#fff" stroke-width="0.35"/>
<text x="449.22" y="426.60" font-size="4.2" text-anchor="middle" font-weight="normal" fill="#262626" stroke="#262626" stroke-width="0.12" >PA55</text>
<rect x="465.64" y="362.03" width="7.30" height="60.67" fill="#4da46f" stroke="#fff" stroke-width="0.35"/>
<rect x="472.93" y="365.32" width="7.30" height="57.38" fill="#c26868" stroke="#fff" stroke-width="0.35"/>
<rect x="480.23" y="358.88" width="7.30" height="63.82" fill="#4f7fad" stroke="#fff" stroke-width="0.35"/>
<text x="476.58" y="426.60" font-size="4.2" text-anchor="middle" font-weight="normal" fill="#262626" stroke="#262626" stroke-width="0.12" >PA56</text>
<rect x="493.00" y="349.82" width="7.30" height="72.88" fill="#4da46f" stroke="#fff" stroke-width="0.35"/>
<rect x="500.29" y="350.92" width="7.30" height="71.78" fill="#c26868" stroke="#fff" stroke-width="0.35"/>
<rect x="507.59" y="349.82" width="7.30" height="72.88" fill="#4f7fad" stroke="#fff" stroke-width="0.35"/>
<text x="503.94" y="426.60" font-size="4.2" text-anchor="middle" font-weight="normal" fill="#262626" stroke="#262626" stroke-width="0.12" >PA57</text>
<rect x="520.36" y="365.10" width="7.30" height="57.60" fill="#4da46f" stroke="#fff" stroke-width="0.35"/>
<rect x="527.65" y="386.37" width="7.30" height="36.33" fill="#c26868" stroke="#fff" stroke-width="0.35"/>
<rect x="534.95" y="370.80" width="7.30" height="51.90" fill="#4f7fad" stroke="#fff" stroke-width="0.35"/>
<text x="531.30" y="426.60" font-size="4.2" text-anchor="middle" font-weight="normal" fill="#262626" stroke="#262626" stroke-width="0.12" >PA58</text>
<rect x="547.72" y="360.93" width="7.30" height="61.77" fill="#4da46f" stroke="#fff" stroke-width="0.35"/>
<rect x="555.01" y="355.01" width="7.30" height="67.69" fill="#c26868" stroke="#fff" stroke-width="0.35"/>
<rect x="562.31" y="355.89" width="7.30" height="66.81" fill="#4f7fad" stroke="#fff" stroke-width="0.35"/>
<text x="558.66" y="426.60" font-size="4.2" text-anchor="middle" font-weight="normal" fill="#262626" stroke="#262626" stroke-width="0.12" >PA65</text>
<rect x="575.08" y="351.28" width="7.30" height="71.42" fill="#4da46f" stroke="#fff" stroke-width="0.35"/>
<rect x="582.37" y="358.88" width="7.30" height="63.82" fill="#c26868" stroke="#fff" stroke-width="0.35"/>
<rect x="589.67" y="353.47" width="7.30" height="69.23" fill="#4f7fad" stroke="#fff" stroke-width="0.35"/>
<text x="586.02" y="426.60" font-size="4.2" text-anchor="middle" font-weight="normal" fill="#262626" stroke="#262626" stroke-width="0.12" >PA68</text>
<text x="326.10" y="431.60" font-size="4.2" text-anchor="middle" font-weight="normal" fill="#262626" stroke="#262626" stroke-width="0.12" >Strain</text>
<text x="326.10" y="343.80" font-size="4.15" text-anchor="middle" font-weight="normal" fill="#262626" stroke="#262626" stroke-width="0.12" >SVM Strain Characterisation</text>
<text x="326.10" y="348.30" font-size="4.15" text-anchor="middle" font-weight="normal" fill="#262626" stroke="#262626" stroke-width="0.12" >F1 Score</text>
<rect x="602" y="351.7" width="45.5" height="25.1" fill="#fff" stroke="#eeeeee" stroke-width="0.5" rx="0.6"/>
<text x="603.70" y="356.50" font-size="4.2" text-anchor="start" font-weight="normal" fill="#262626" stroke="#262626" stroke-width="0.12" >Excitation Wavelength</text>
<rect x="604.4" y="359.4" width="8.1" height="3.2" fill="#4da46f" stroke="rgba(60,60,60,0.3)" stroke-width="0.3"/>
<text x="616.00" y="362.50" font-size="4.2" text-anchor="start" font-weight="normal" fill="#262626" stroke="#262626" stroke-width="0.12" >532 nm</text>
<rect x="604.4" y="365.5" width="8.1" height="3.2" fill="#c26868" stroke="rgba(60,60,60,0.3)" stroke-width="0.3"/>
<text x="616.00" y="368.60" font-size="4.2" text-anchor="start" font-weight="normal" fill="#262626" stroke="#262626" stroke-width="0.12" >785 nm</text>
<rect x="604.4" y="371.7" width="8.1" height="3.2" fill="#4f7fad" stroke="rgba(60,60,60,0.3)" stroke-width="0.3"/>
<text x="616.00" y="374.80" font-size="4.2" text-anchor="start" font-weight="normal" fill="#262626" stroke="#262626" stroke-width="0.12" >Multi-Excitation</text>
<text x="30.20" y="342.80" font-size="13.5" text-anchor="start" font-weight="bold" fill="#000" >e</text>
</svg></body></html>
